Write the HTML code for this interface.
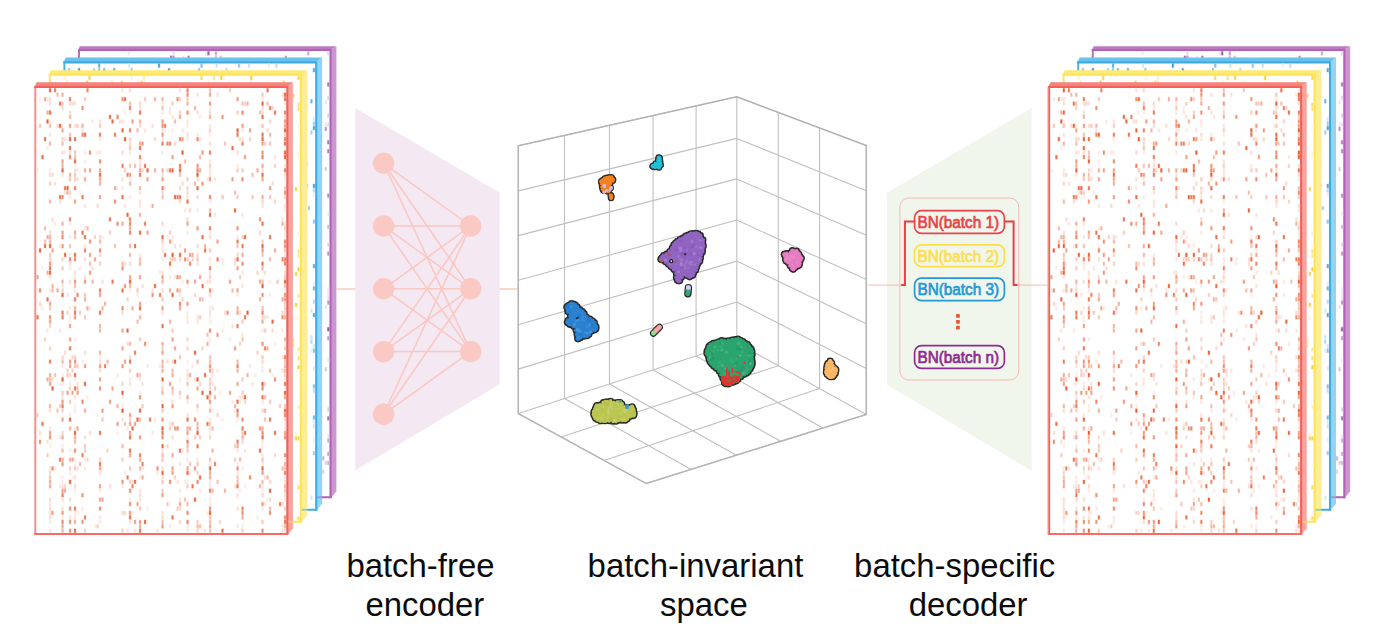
<!DOCTYPE html>
<html><head><meta charset="utf-8"><title>batch-free encoder / batch-specific decoder</title>
<style>html,body{margin:0;padding:0;background:#fff;}body{width:1378px;height:633px;overflow:hidden;}svg{display:block;font-family:"Liberation Sans",sans-serif;}</style></head><body>
<svg width="1378" height="633" viewBox="0 0 1378 633">
<rect width="1378" height="633" fill="#fff"/>
<defs><g id="stack">
<path d="M78 50 L79.9 46.2 L336.4 46.2 L330.5 50 Z" fill="#bd7ac3"/>
<path d="M330.5 50 L336.4 46.2 L336.4 491.3 L330.5 498.2 Z" fill="#cb96d1"/>
<rect x="79" y="50" width="251.5" height="447.2" fill="#fff"/>
<path d="M79 49 V498.2" fill="none" stroke="#b870bb" stroke-width="2"/>
<path d="M78 50 H330.5 V498.2" fill="none" stroke="#b261b5" stroke-width="2.1" stroke-linejoin="miter"/>
<path d="M78 497.2 H331.5" fill="none" stroke="#b261b5" stroke-width="2.1"/>
<g fill="currentColor" stroke="currentColor" stroke-width="1.1" stroke-opacity="0.32" stroke-linejoin="round">
<rect x="127.8" y="51.4" width="1.7" height="3.7" color="#f1e8f3"/>
<rect x="172.7" y="51.4" width="1.7" height="3.7" color="#e8d9ec"/>
<rect x="205.2" y="51.4" width="1.7" height="3.7" color="#f1e8f3"/>
<rect x="207.6" y="51.4" width="1.7" height="3.7" color="#9d5ead"/>
<rect x="215.1" y="51.4" width="1.7" height="3.7" color="#c5a0cf"/>
<rect x="307.4" y="51.4" width="1.7" height="3.7" color="#caa7d2"/>
<rect x="327.4" y="51.4" width="1.7" height="3.7" color="#e6d6ea"/>
<rect x="170.2" y="55.9" width="1.7" height="3.7" color="#a468b2"/>
<rect x="172.7" y="55.9" width="1.7" height="3.7" color="#bc90c7"/>
<rect x="182.7" y="55.9" width="1.7" height="3.7" color="#efe4f1"/>
<rect x="187.7" y="55.9" width="1.7" height="3.7" color="#aa73b8"/>
<rect x="215.1" y="55.9" width="1.7" height="3.7" color="#d7bdde"/>
<rect x="220.1" y="55.9" width="1.7" height="3.7" color="#d8bede"/>
<rect x="285" y="55.9" width="1.7" height="3.7" color="#ba8dc5"/>
<rect x="327.4" y="82.6" width="1.7" height="3.7" color="#ab74b9"/>
<rect x="327.4" y="95.9" width="1.7" height="3.7" color="#e5d3e9"/>
<rect x="324.9" y="100.4" width="1.7" height="3.7" color="#efe4f1"/>
<rect x="327.4" y="113.7" width="1.7" height="3.7" color="#e3d1e8"/>
<rect x="324.9" y="122.6" width="1.7" height="3.7" color="#f0e6f2"/>
<rect x="327.4" y="122.6" width="1.7" height="3.7" color="#e8d9ec"/>
<rect x="324.9" y="127.1" width="1.7" height="3.7" color="#bd92c8"/>
<rect x="327.4" y="140.4" width="1.7" height="3.7" color="#af7abc"/>
<rect x="327.4" y="149.3" width="1.7" height="3.7" color="#b382bf"/>
<rect x="324.9" y="167.2" width="1.7" height="3.7" color="#ddc7e3"/>
<rect x="327.4" y="193.9" width="1.7" height="3.7" color="#ba8dc5"/>
<rect x="327.4" y="211.7" width="1.7" height="3.7" color="#f1e8f3"/>
<rect x="327.4" y="225" width="1.7" height="3.7" color="#d6bbdc"/>
<rect x="327.4" y="242.8" width="1.7" height="3.7" color="#e5d4e9"/>
<rect x="327.4" y="251.7" width="1.7" height="3.7" color="#bf95c9"/>
<rect x="327.4" y="287.4" width="1.7" height="3.7" color="#efe4f1"/>
<rect x="327.4" y="291.8" width="1.7" height="3.7" color="#f0e6f2"/>
<rect x="327.4" y="296.3" width="1.7" height="3.7" color="#ebdfef"/>
<rect x="327.4" y="300.7" width="1.7" height="3.7" color="#be93c8"/>
<rect x="324.9" y="305.2" width="1.7" height="3.7" color="#eadced"/>
<rect x="327.4" y="327.4" width="1.7" height="3.7" color="#9956a9"/>
<rect x="327.4" y="336.3" width="1.7" height="3.7" color="#c59fce"/>
<rect x="327.4" y="358.6" width="1.7" height="3.7" color="#f1e8f4"/>
<rect x="324.9" y="367.5" width="1.7" height="3.7" color="#dbc4e1"/>
<rect x="319.9" y="389.8" width="1.7" height="3.7" color="#a970b7"/>
<rect x="327.4" y="407.6" width="1.7" height="3.7" color="#e1cee6"/>
<rect x="327.4" y="416.5" width="1.7" height="3.7" color="#a971b7"/>
<rect x="327.4" y="434.3" width="1.7" height="3.7" color="#eee4f1"/>
<rect x="327.4" y="438.7" width="1.7" height="3.7" color="#cdadd5"/>
<rect x="327.4" y="452.1" width="1.7" height="3.7" color="#caa7d2"/>
<rect x="322.4" y="456.5" width="1.7" height="3.7" color="#ceafd6"/>
<rect x="324.9" y="461" width="1.7" height="3.7" color="#dfcbe4"/>
<rect x="327.4" y="461" width="1.7" height="3.7" color="#d2b5da"/>
<rect x="319.9" y="469.9" width="1.7" height="3.7" color="#f0e6f2"/>
<rect x="322.4" y="469.9" width="1.7" height="3.7" color="#e2cfe7"/>
</g>
<path d="M63.4 62.4 L65.9 57.5 L322.2 57.5 L316.2 62.4 Z" fill="#6bc1ec"/>
<path d="M316.2 62.4 L322.2 57.5 L322.2 503.8 L316.2 510.8 Z" fill="#93d4f2"/>
<rect x="64.4" y="62.4" width="251.8" height="447.4" fill="#fff"/>
<path d="M64.4 61.4 V510.8" fill="none" stroke="#4db2e8" stroke-width="2"/>
<path d="M63.4 62.4 H316.2 V510.8" fill="none" stroke="#3eace6" stroke-width="2.1" stroke-linejoin="miter"/>
<path d="M63.4 509.8 H317.2" fill="none" stroke="#3eace6" stroke-width="2.1"/>
<g fill="currentColor" stroke="currentColor" stroke-width="1.1" stroke-opacity="0.32" stroke-linejoin="round">
<rect x="98.3" y="63.8" width="1.7" height="3.7" color="#5db1e1"/>
<rect x="128.2" y="63.8" width="1.7" height="3.7" color="#cfe8f6"/>
<rect x="158.2" y="63.8" width="1.7" height="3.7" color="#3fa2dc"/>
<rect x="200.7" y="63.8" width="1.7" height="3.7" color="#7ec1e7"/>
<rect x="215.7" y="63.8" width="1.7" height="3.7" color="#c6e3f4"/>
<rect x="238.2" y="63.8" width="1.7" height="3.7" color="#8ec8ea"/>
<rect x="248.2" y="63.8" width="1.7" height="3.7" color="#c1e1f4"/>
<rect x="268.1" y="63.8" width="1.7" height="3.7" color="#e0f0f9"/>
<rect x="275.6" y="63.8" width="1.7" height="3.7" color="#bcdff3"/>
<rect x="68.3" y="68.3" width="1.7" height="3.7" color="#8ac7ea"/>
<rect x="78.3" y="68.3" width="1.7" height="3.7" color="#2a98d8"/>
<rect x="93.3" y="68.3" width="1.7" height="3.7" color="#a5d3ee"/>
<rect x="98.3" y="68.3" width="1.7" height="3.7" color="#82c3e8"/>
<rect x="103.3" y="68.3" width="1.7" height="3.7" color="#70bae5"/>
<rect x="113.3" y="68.3" width="1.7" height="3.7" color="#59aee0"/>
<rect x="130.7" y="68.3" width="1.7" height="3.7" color="#8bc7ea"/>
<rect x="168.2" y="68.3" width="1.7" height="3.7" color="#3ea1db"/>
<rect x="198.2" y="68.3" width="1.7" height="3.7" color="#88c5e9"/>
<rect x="225.7" y="68.3" width="1.7" height="3.7" color="#b4daf1"/>
<rect x="313.1" y="68.3" width="1.7" height="3.7" color="#4eaade"/>
<rect x="305.6" y="81.6" width="1.7" height="3.7" color="#e3f2fa"/>
<rect x="310.6" y="99.4" width="1.7" height="3.7" color="#65b5e3"/>
<rect x="313.1" y="117.2" width="1.7" height="3.7" color="#d6ebf7"/>
<rect x="313.1" y="121.7" width="1.7" height="3.7" color="#99ceec"/>
<rect x="313.1" y="126.2" width="1.7" height="3.7" color="#44a5dd"/>
<rect x="310.6" y="130.6" width="1.7" height="3.7" color="#a1d2ee"/>
<rect x="305.6" y="161.8" width="1.7" height="3.7" color="#98cdec"/>
<rect x="305.6" y="184.1" width="1.7" height="3.7" color="#3da1db"/>
<rect x="313.1" y="184.1" width="1.7" height="3.7" color="#45a5dd"/>
<rect x="313.1" y="188.5" width="1.7" height="3.7" color="#b1d9f1"/>
<rect x="313.1" y="193" width="1.7" height="3.7" color="#e5f2fa"/>
<rect x="308.1" y="206.3" width="1.7" height="3.7" color="#9dd0ed"/>
<rect x="313.1" y="219.7" width="1.7" height="3.7" color="#8bc7ea"/>
<rect x="305.6" y="233.1" width="1.7" height="3.7" color="#e1f1fa"/>
<rect x="313.1" y="264.2" width="1.7" height="3.7" color="#51abdf"/>
<rect x="313.1" y="282" width="1.7" height="3.7" color="#deeff9"/>
<rect x="313.1" y="286.5" width="1.7" height="3.7" color="#68b6e3"/>
<rect x="305.6" y="295.4" width="1.7" height="3.7" color="#dfeff9"/>
<rect x="313.1" y="299.9" width="1.7" height="3.7" color="#b6dcf2"/>
<rect x="310.6" y="308.8" width="1.7" height="3.7" color="#d2e9f7"/>
<rect x="313.1" y="313.2" width="1.7" height="3.7" color="#4faadf"/>
<rect x="305.6" y="331" width="1.7" height="3.7" color="#d0e8f6"/>
<rect x="310.6" y="335.5" width="1.7" height="3.7" color="#c7e4f5"/>
<rect x="310.6" y="339.9" width="1.7" height="3.7" color="#afd8f0"/>
<rect x="313.1" y="344.4" width="1.7" height="3.7" color="#cbe6f5"/>
<rect x="310.6" y="348.9" width="1.7" height="3.7" color="#e0f0f9"/>
<rect x="313.1" y="348.9" width="1.7" height="3.7" color="#88c5e9"/>
<rect x="305.6" y="353.3" width="1.7" height="3.7" color="#c5e3f4"/>
<rect x="313.1" y="366.7" width="1.7" height="3.7" color="#d6ebf7"/>
<rect x="313.1" y="384.5" width="1.7" height="3.7" color="#86c5e9"/>
<rect x="313.1" y="388.9" width="1.7" height="3.7" color="#c0e1f3"/>
<rect x="313.1" y="415.7" width="1.7" height="3.7" color="#70bae5"/>
<rect x="313.1" y="420.1" width="1.7" height="3.7" color="#dceef9"/>
<rect x="313.1" y="424.6" width="1.7" height="3.7" color="#d0e8f6"/>
<rect x="313.1" y="437.9" width="1.7" height="3.7" color="#e4f2fa"/>
<rect x="313.1" y="451.3" width="1.7" height="3.7" color="#9aceec"/>
<rect x="305.6" y="473.6" width="1.7" height="3.7" color="#e0f0f9"/>
<rect x="310.6" y="495.8" width="1.7" height="3.7" color="#d0e8f6"/>
</g>
<path d="M48.8 74.8 L51 70.3 L307.5 70.3 L300.8 74.8 Z" fill="#fde975"/>
<path d="M300.8 74.8 L307.5 70.3 L307.5 515.1 L300.8 522.8 Z" fill="#fdee95"/>
<rect x="49.8" y="74.8" width="251" height="447" fill="#fff"/>
<path d="M49.8 73.8 V522.8" fill="none" stroke="#fde66a" stroke-width="2"/>
<path d="M48.8 74.8 H300.8 V522.8" fill="none" stroke="#fde357" stroke-width="2.1" stroke-linejoin="miter"/>
<path d="M48.8 521.8 H301.8" fill="none" stroke="#fde357" stroke-width="2.1"/>
<g fill="currentColor" stroke="currentColor" stroke-width="1.1" stroke-opacity="0.32" stroke-linejoin="round">
<rect x="63.6" y="76.2" width="1.7" height="3.6" color="#fef2c6"/>
<rect x="88.6" y="76.2" width="1.7" height="3.6" color="#fbd445"/>
<rect x="130.9" y="76.2" width="1.7" height="3.6" color="#fef4d1"/>
<rect x="143.3" y="76.2" width="1.7" height="3.6" color="#fdedb1"/>
<rect x="200.6" y="76.2" width="1.7" height="3.6" color="#fbd858"/>
<rect x="213.1" y="76.2" width="1.7" height="3.6" color="#fce180"/>
<rect x="220.5" y="76.2" width="1.7" height="3.6" color="#facf32"/>
<rect x="223" y="76.2" width="1.7" height="3.6" color="#fef8e3"/>
<rect x="250.4" y="76.2" width="1.7" height="3.6" color="#face2d"/>
<rect x="297.7" y="76.2" width="1.7" height="3.6" color="#fbd752"/>
<rect x="66.1" y="80.7" width="1.7" height="3.6" color="#fdedb1"/>
<rect x="86.1" y="80.7" width="1.7" height="3.6" color="#fad23c"/>
<rect x="93.5" y="80.7" width="1.7" height="3.6" color="#fef9e5"/>
<rect x="111" y="80.7" width="1.7" height="3.6" color="#fef2c7"/>
<rect x="120.9" y="80.7" width="1.7" height="3.6" color="#fbd751"/>
<rect x="138.3" y="80.7" width="1.7" height="3.6" color="#fef6d9"/>
<rect x="140.8" y="80.7" width="1.7" height="3.6" color="#fcde71"/>
<rect x="143.3" y="80.7" width="1.7" height="3.6" color="#fdedb2"/>
<rect x="208.1" y="80.7" width="1.7" height="3.6" color="#fef5d4"/>
<rect x="228" y="80.7" width="1.7" height="3.6" color="#fef8e2"/>
<rect x="250.4" y="80.7" width="1.7" height="3.6" color="#fef4d0"/>
<rect x="282.8" y="80.7" width="1.7" height="3.6" color="#fbd64f"/>
<rect x="292.7" y="94" width="1.7" height="3.6" color="#fbd857"/>
<rect x="297.7" y="102.9" width="1.7" height="3.6" color="#fcdd6e"/>
<rect x="297.7" y="107.3" width="1.7" height="3.6" color="#fcdf77"/>
<rect x="297.7" y="125.1" width="1.7" height="3.6" color="#fef9e3"/>
<rect x="297.7" y="129.6" width="1.7" height="3.6" color="#fef9e5"/>
<rect x="297.7" y="151.8" width="1.7" height="3.6" color="#fef5d4"/>
<rect x="297.7" y="156.3" width="1.7" height="3.6" color="#fef8e2"/>
<rect x="295.2" y="187.4" width="1.7" height="3.6" color="#fad23d"/>
<rect x="292.7" y="223" width="1.7" height="3.6" color="#fef9e4"/>
<rect x="297.7" y="231.9" width="1.7" height="3.6" color="#fef5d4"/>
<rect x="297.7" y="245.3" width="1.7" height="3.6" color="#fef5d5"/>
<rect x="297.7" y="249.7" width="1.7" height="3.6" color="#fce386"/>
<rect x="297.7" y="254.2" width="1.7" height="3.6" color="#fde89c"/>
<rect x="297.7" y="267.5" width="1.7" height="3.6" color="#facf33"/>
<rect x="295.2" y="272" width="1.7" height="3.6" color="#fbd342"/>
<rect x="297.7" y="294.2" width="1.7" height="3.6" color="#fce591"/>
<rect x="295.2" y="303.1" width="1.7" height="3.6" color="#fad036"/>
<rect x="295.2" y="316.5" width="1.7" height="3.6" color="#fef5d4"/>
<rect x="292.7" y="338.7" width="1.7" height="3.6" color="#fdeaa6"/>
<rect x="292.7" y="343.2" width="1.7" height="3.6" color="#fde9a0"/>
<rect x="297.7" y="347.6" width="1.7" height="3.6" color="#fde799"/>
<rect x="295.2" y="352.1" width="1.7" height="3.6" color="#fef8df"/>
<rect x="297.7" y="356.5" width="1.7" height="3.6" color="#fcdf76"/>
<rect x="297.7" y="365.4" width="1.7" height="3.6" color="#fad13a"/>
<rect x="297.7" y="405.5" width="1.7" height="3.6" color="#fdefb8"/>
<rect x="297.7" y="427.7" width="1.7" height="3.6" color="#fef8df"/>
<rect x="295.2" y="432.2" width="1.7" height="3.6" color="#fef5d3"/>
<rect x="295.2" y="436.6" width="1.7" height="3.6" color="#fbd340"/>
<rect x="297.7" y="436.6" width="1.7" height="3.6" color="#fbd64f"/>
<rect x="297.7" y="463.3" width="1.7" height="3.6" color="#fef8e3"/>
<rect x="297.7" y="485.6" width="1.7" height="3.6" color="#fbdc68"/>
<rect x="295.2" y="516.7" width="1.7" height="3.6" color="#fef5d3"/>
<rect x="297.7" y="516.7" width="1.7" height="3.6" color="#fbdb66"/>
</g>
<path d="M34.3 87 L36.7 82.2 L292.9 82.2 L287.3 87 Z" fill="#f5837c"/>
<path d="M287.3 87 L292.9 82.2 L292.9 528.4 L287.3 535 Z" fill="#f8a39d"/>
<rect x="35.3" y="87" width="252" height="447" fill="#fff"/>
<path d="M35.3 86 V535" fill="none" stroke="#f6908b" stroke-width="2"/>
<path d="M34.3 87 H287.3 V535" fill="none" stroke="#f45f59" stroke-width="2.1" stroke-linejoin="miter"/>
<path d="M34.3 534 H288.3" fill="none" stroke="#f66c65" stroke-width="2.1"/>
<g fill="currentColor" stroke="currentColor" stroke-width="1.1" stroke-opacity="0.32" stroke-linejoin="round">
<rect x="49.2" y="88.4" width="1.7" height="3.7" color="#eb6137"/>
<rect x="54.2" y="88.4" width="1.7" height="3.7" color="#ee7652"/>
<rect x="86.7" y="88.4" width="1.7" height="3.7" color="#ef8261"/>
<rect x="121.7" y="88.4" width="1.7" height="3.7" color="#fce4dd"/>
<rect x="129.2" y="88.4" width="1.7" height="3.7" color="#fad8ce"/>
<rect x="179.2" y="88.4" width="1.7" height="3.7" color="#fbe3dc"/>
<rect x="186.7" y="88.4" width="1.7" height="3.7" color="#ef7e5c"/>
<rect x="209.2" y="88.4" width="1.7" height="3.7" color="#f7bcaa"/>
<rect x="229.2" y="88.4" width="1.7" height="3.7" color="#f8c8ba"/>
<rect x="266.7" y="88.4" width="1.7" height="3.7" color="#ed734e"/>
<rect x="284.2" y="88.4" width="1.7" height="3.7" color="#fce8e2"/>
<rect x="56.7" y="92.9" width="1.7" height="3.7" color="#f6b9a7"/>
<rect x="61.7" y="92.9" width="1.7" height="3.7" color="#f5ae99"/>
<rect x="186.7" y="92.9" width="1.7" height="3.7" color="#f19275"/>
<rect x="196.7" y="92.9" width="1.7" height="3.7" color="#fbe0d7"/>
<rect x="209.2" y="92.9" width="1.7" height="3.7" color="#f39e84"/>
<rect x="216.7" y="92.9" width="1.7" height="3.7" color="#fbddd3"/>
<rect x="261.7" y="92.9" width="1.7" height="3.7" color="#f7c3b3"/>
<rect x="281.7" y="92.9" width="1.7" height="3.7" color="#fce6e0"/>
<rect x="284.2" y="92.9" width="1.7" height="3.7" color="#eb6037"/>
<rect x="39.2" y="97.3" width="1.7" height="3.7" color="#fceae5"/>
<rect x="44.2" y="97.3" width="1.7" height="3.7" color="#f3a38b"/>
<rect x="46.7" y="97.3" width="1.7" height="3.7" color="#fce4dc"/>
<rect x="49.2" y="97.3" width="1.7" height="3.7" color="#fbddd4"/>
<rect x="69.2" y="97.3" width="1.7" height="3.7" color="#ee7a57"/>
<rect x="84.2" y="97.3" width="1.7" height="3.7" color="#f8c9bb"/>
<rect x="121.7" y="97.3" width="1.7" height="3.7" color="#f18e71"/>
<rect x="124.2" y="97.3" width="1.7" height="3.7" color="#ed6e48"/>
<rect x="144.2" y="97.3" width="1.7" height="3.7" color="#f8c5b6"/>
<rect x="154.2" y="97.3" width="1.7" height="3.7" color="#f5ad98"/>
<rect x="161.7" y="97.3" width="1.7" height="3.7" color="#f5b39f"/>
<rect x="176.7" y="97.3" width="1.7" height="3.7" color="#f18c6e"/>
<rect x="179.2" y="97.3" width="1.7" height="3.7" color="#f9ccbe"/>
<rect x="186.7" y="97.3" width="1.7" height="3.7" color="#f8c7b9"/>
<rect x="236.7" y="97.3" width="1.7" height="3.7" color="#f2977b"/>
<rect x="261.7" y="97.3" width="1.7" height="3.7" color="#fce5de"/>
<rect x="284.2" y="97.3" width="1.7" height="3.7" color="#ed734e"/>
<rect x="49.2" y="101.8" width="1.7" height="3.7" color="#fbddd4"/>
<rect x="59.2" y="101.8" width="1.7" height="3.7" color="#ed714c"/>
<rect x="61.7" y="101.8" width="1.7" height="3.7" color="#f7c1b0"/>
<rect x="69.2" y="101.8" width="1.7" height="3.7" color="#fad8cd"/>
<rect x="71.7" y="101.8" width="1.7" height="3.7" color="#fad7cc"/>
<rect x="74.2" y="101.8" width="1.7" height="3.7" color="#fbded6"/>
<rect x="129.2" y="101.8" width="1.7" height="3.7" color="#f6baa8"/>
<rect x="139.2" y="101.8" width="1.7" height="3.7" color="#fad4c8"/>
<rect x="161.7" y="101.8" width="1.7" height="3.7" color="#fbe1da"/>
<rect x="171.7" y="101.8" width="1.7" height="3.7" color="#f8cbbe"/>
<rect x="186.7" y="101.8" width="1.7" height="3.7" color="#f5ad98"/>
<rect x="209.2" y="101.8" width="1.7" height="3.7" color="#f29478"/>
<rect x="241.7" y="101.8" width="1.7" height="3.7" color="#f7bead"/>
<rect x="244.2" y="101.8" width="1.7" height="3.7" color="#f9cec1"/>
<rect x="246.7" y="101.8" width="1.7" height="3.7" color="#f5b19d"/>
<rect x="261.7" y="101.8" width="1.7" height="3.7" color="#eb633a"/>
<rect x="266.7" y="101.8" width="1.7" height="3.7" color="#f7bdac"/>
<rect x="284.2" y="101.8" width="1.7" height="3.7" color="#fbe2db"/>
<rect x="61.7" y="106.2" width="1.7" height="3.7" color="#fad6cb"/>
<rect x="81.7" y="106.2" width="1.7" height="3.7" color="#f18e70"/>
<rect x="129.2" y="106.2" width="1.7" height="3.7" color="#ef8261"/>
<rect x="139.2" y="106.2" width="1.7" height="3.7" color="#fce4dd"/>
<rect x="161.7" y="106.2" width="1.7" height="3.7" color="#f7c2b2"/>
<rect x="169.2" y="106.2" width="1.7" height="3.7" color="#fceae5"/>
<rect x="194.2" y="106.2" width="1.7" height="3.7" color="#f5af9a"/>
<rect x="209.2" y="106.2" width="1.7" height="3.7" color="#fceae5"/>
<rect x="261.7" y="106.2" width="1.7" height="3.7" color="#fadbd1"/>
<rect x="269.2" y="106.2" width="1.7" height="3.7" color="#ee7b59"/>
<rect x="271.7" y="106.2" width="1.7" height="3.7" color="#f9cec1"/>
<rect x="46.7" y="110.7" width="1.7" height="3.7" color="#f5b19d"/>
<rect x="49.2" y="110.7" width="1.7" height="3.7" color="#ec663d"/>
<rect x="69.2" y="110.7" width="1.7" height="3.7" color="#fad9cf"/>
<rect x="124.2" y="110.7" width="1.7" height="3.7" color="#fcebe6"/>
<rect x="129.2" y="110.7" width="1.7" height="3.7" color="#fcebe6"/>
<rect x="139.2" y="110.7" width="1.7" height="3.7" color="#ee7854"/>
<rect x="161.7" y="110.7" width="1.7" height="3.7" color="#fce9e4"/>
<rect x="169.2" y="110.7" width="1.7" height="3.7" color="#fbe3db"/>
<rect x="179.2" y="110.7" width="1.7" height="3.7" color="#f9cfc2"/>
<rect x="186.7" y="110.7" width="1.7" height="3.7" color="#f18f72"/>
<rect x="196.7" y="110.7" width="1.7" height="3.7" color="#fbe0d7"/>
<rect x="209.2" y="110.7" width="1.7" height="3.7" color="#fad5cb"/>
<rect x="236.7" y="110.7" width="1.7" height="3.7" color="#f8cbbe"/>
<rect x="241.7" y="110.7" width="1.7" height="3.7" color="#f08868"/>
<rect x="259.2" y="110.7" width="1.7" height="3.7" color="#f7c0af"/>
<rect x="261.7" y="110.7" width="1.7" height="3.7" color="#f9d0c3"/>
<rect x="274.2" y="110.7" width="1.7" height="3.7" color="#ed6d47"/>
<rect x="284.2" y="110.7" width="1.7" height="3.7" color="#ee7b58"/>
<rect x="69.2" y="115.1" width="1.7" height="3.7" color="#f5b39f"/>
<rect x="109.2" y="115.1" width="1.7" height="3.7" color="#eb643b"/>
<rect x="116.7" y="115.1" width="1.7" height="3.7" color="#ef805e"/>
<rect x="171.7" y="115.1" width="1.7" height="3.7" color="#fbe2da"/>
<rect x="179.2" y="115.1" width="1.7" height="3.7" color="#f4a58d"/>
<rect x="199.2" y="115.1" width="1.7" height="3.7" color="#fce9e4"/>
<rect x="209.2" y="115.1" width="1.7" height="3.7" color="#f5b19c"/>
<rect x="221.7" y="115.1" width="1.7" height="3.7" color="#f29579"/>
<rect x="261.7" y="115.1" width="1.7" height="3.7" color="#ec6c45"/>
<rect x="284.2" y="115.1" width="1.7" height="3.7" color="#f9cdc0"/>
<rect x="46.7" y="119.6" width="1.7" height="3.7" color="#eb5d33"/>
<rect x="49.2" y="119.6" width="1.7" height="3.7" color="#fce8e2"/>
<rect x="91.7" y="119.6" width="1.7" height="3.7" color="#fcebe5"/>
<rect x="99.2" y="119.6" width="1.7" height="3.7" color="#fbe0d8"/>
<rect x="111.7" y="119.6" width="1.7" height="3.7" color="#ec6840"/>
<rect x="119.2" y="119.6" width="1.7" height="3.7" color="#fbe0d8"/>
<rect x="121.7" y="119.6" width="1.7" height="3.7" color="#fbded6"/>
<rect x="131.7" y="119.6" width="1.7" height="3.7" color="#f29a7f"/>
<rect x="139.2" y="119.6" width="1.7" height="3.7" color="#f5b09b"/>
<rect x="161.7" y="119.6" width="1.7" height="3.7" color="#f39d83"/>
<rect x="174.2" y="119.6" width="1.7" height="3.7" color="#f6b6a3"/>
<rect x="186.7" y="119.6" width="1.7" height="3.7" color="#fce4dc"/>
<rect x="269.2" y="119.6" width="1.7" height="3.7" color="#f9d0c3"/>
<rect x="284.2" y="119.6" width="1.7" height="3.7" color="#f29579"/>
<rect x="39.2" y="124" width="1.7" height="3.7" color="#f7c2b2"/>
<rect x="49.2" y="124" width="1.7" height="3.7" color="#f6bba8"/>
<rect x="56.7" y="124" width="1.7" height="3.7" color="#fad7cc"/>
<rect x="59.2" y="124" width="1.7" height="3.7" color="#eb5c32"/>
<rect x="61.7" y="124" width="1.7" height="3.7" color="#fceae5"/>
<rect x="69.2" y="124" width="1.7" height="3.7" color="#f2997e"/>
<rect x="74.2" y="124" width="1.7" height="3.7" color="#fbddd4"/>
<rect x="76.7" y="124" width="1.7" height="3.7" color="#f8c7b9"/>
<rect x="81.7" y="124" width="1.7" height="3.7" color="#f5af9a"/>
<rect x="99.2" y="124" width="1.7" height="3.7" color="#f8cabc"/>
<rect x="139.2" y="124" width="1.7" height="3.7" color="#fbded6"/>
<rect x="151.7" y="124" width="1.7" height="3.7" color="#fbddd5"/>
<rect x="161.7" y="124" width="1.7" height="3.7" color="#f19174"/>
<rect x="164.2" y="124" width="1.7" height="3.7" color="#ef7c59"/>
<rect x="186.7" y="124" width="1.7" height="3.7" color="#fce8e2"/>
<rect x="209.2" y="124" width="1.7" height="3.7" color="#fce5de"/>
<rect x="241.7" y="124" width="1.7" height="3.7" color="#f29c81"/>
<rect x="259.2" y="124" width="1.7" height="3.7" color="#fcebe5"/>
<rect x="261.7" y="124" width="1.7" height="3.7" color="#f8c5b5"/>
<rect x="284.2" y="124" width="1.7" height="3.7" color="#f39f85"/>
<rect x="61.7" y="128.5" width="1.7" height="3.7" color="#f4a68e"/>
<rect x="81.7" y="128.5" width="1.7" height="3.7" color="#fbe2db"/>
<rect x="121.7" y="128.5" width="1.7" height="3.7" color="#ec663d"/>
<rect x="129.2" y="128.5" width="1.7" height="3.7" color="#ef805f"/>
<rect x="136.7" y="128.5" width="1.7" height="3.7" color="#f6baa7"/>
<rect x="144.2" y="128.5" width="1.7" height="3.7" color="#fce7e1"/>
<rect x="161.7" y="128.5" width="1.7" height="3.7" color="#fbe2da"/>
<rect x="164.2" y="128.5" width="1.7" height="3.7" color="#fce8e2"/>
<rect x="171.7" y="128.5" width="1.7" height="3.7" color="#fcebe6"/>
<rect x="181.7" y="128.5" width="1.7" height="3.7" color="#fce4dd"/>
<rect x="209.2" y="128.5" width="1.7" height="3.7" color="#f9cfc3"/>
<rect x="236.7" y="128.5" width="1.7" height="3.7" color="#eb5f35"/>
<rect x="241.7" y="128.5" width="1.7" height="3.7" color="#fce5de"/>
<rect x="249.2" y="128.5" width="1.7" height="3.7" color="#f2997e"/>
<rect x="266.7" y="128.5" width="1.7" height="3.7" color="#fadbd1"/>
<rect x="284.2" y="128.5" width="1.7" height="3.7" color="#ea5b30"/>
<rect x="49.2" y="132.9" width="1.7" height="3.7" color="#fce3dc"/>
<rect x="69.2" y="132.9" width="1.7" height="3.7" color="#f7c0af"/>
<rect x="81.7" y="132.9" width="1.7" height="3.7" color="#f08768"/>
<rect x="84.2" y="132.9" width="1.7" height="3.7" color="#eb633a"/>
<rect x="99.2" y="132.9" width="1.7" height="3.7" color="#ee7a58"/>
<rect x="114.2" y="132.9" width="1.7" height="3.7" color="#ee7754"/>
<rect x="161.7" y="132.9" width="1.7" height="3.7" color="#f2987d"/>
<rect x="186.7" y="132.9" width="1.7" height="3.7" color="#fad9cf"/>
<rect x="196.7" y="132.9" width="1.7" height="3.7" color="#fce9e4"/>
<rect x="209.2" y="132.9" width="1.7" height="3.7" color="#fce8e2"/>
<rect x="236.7" y="132.9" width="1.7" height="3.7" color="#ee7450"/>
<rect x="261.7" y="132.9" width="1.7" height="3.7" color="#ed6f49"/>
<rect x="269.2" y="132.9" width="1.7" height="3.7" color="#f6b9a6"/>
<rect x="284.2" y="132.9" width="1.7" height="3.7" color="#f9cbbe"/>
<rect x="44.2" y="137.3" width="1.7" height="3.7" color="#ec6a42"/>
<rect x="61.7" y="137.3" width="1.7" height="3.7" color="#fad4c9"/>
<rect x="64.2" y="137.3" width="1.7" height="3.7" color="#fbdfd7"/>
<rect x="69.2" y="137.3" width="1.7" height="3.7" color="#eb5d32"/>
<rect x="74.2" y="137.3" width="1.7" height="3.7" color="#ec6942"/>
<rect x="99.2" y="137.3" width="1.7" height="3.7" color="#fce8e2"/>
<rect x="124.2" y="137.3" width="1.7" height="3.7" color="#ea592d"/>
<rect x="129.2" y="137.3" width="1.7" height="3.7" color="#f9d0c3"/>
<rect x="154.2" y="137.3" width="1.7" height="3.7" color="#fad5ca"/>
<rect x="161.7" y="137.3" width="1.7" height="3.7" color="#fbdcd3"/>
<rect x="179.2" y="137.3" width="1.7" height="3.7" color="#ee7b58"/>
<rect x="181.7" y="137.3" width="1.7" height="3.7" color="#f29a7f"/>
<rect x="186.7" y="137.3" width="1.7" height="3.7" color="#fce9e3"/>
<rect x="196.7" y="137.3" width="1.7" height="3.7" color="#f08666"/>
<rect x="199.2" y="137.3" width="1.7" height="3.7" color="#fadad0"/>
<rect x="239.2" y="137.3" width="1.7" height="3.7" color="#fad9ce"/>
<rect x="241.7" y="137.3" width="1.7" height="3.7" color="#fbe1d9"/>
<rect x="249.2" y="137.3" width="1.7" height="3.7" color="#f9d2c6"/>
<rect x="261.7" y="137.3" width="1.7" height="3.7" color="#eb633a"/>
<rect x="284.2" y="137.3" width="1.7" height="3.7" color="#ee7551"/>
<rect x="49.2" y="141.8" width="1.7" height="3.7" color="#f5b09b"/>
<rect x="61.7" y="141.8" width="1.7" height="3.7" color="#f6baa8"/>
<rect x="129.2" y="141.8" width="1.7" height="3.7" color="#fad5c9"/>
<rect x="139.2" y="141.8" width="1.7" height="3.7" color="#f4a891"/>
<rect x="141.7" y="141.8" width="1.7" height="3.7" color="#f2977b"/>
<rect x="161.7" y="141.8" width="1.7" height="3.7" color="#ef8363"/>
<rect x="166.7" y="141.8" width="1.7" height="3.7" color="#f0896a"/>
<rect x="169.2" y="141.8" width="1.7" height="3.7" color="#ef805f"/>
<rect x="174.2" y="141.8" width="1.7" height="3.7" color="#fad4c9"/>
<rect x="209.2" y="141.8" width="1.7" height="3.7" color="#fbded6"/>
<rect x="224.2" y="141.8" width="1.7" height="3.7" color="#f7c1b1"/>
<rect x="241.7" y="141.8" width="1.7" height="3.7" color="#ef8362"/>
<rect x="261.7" y="141.8" width="1.7" height="3.7" color="#f29b81"/>
<rect x="264.2" y="141.8" width="1.7" height="3.7" color="#f9ccbe"/>
<rect x="269.2" y="141.8" width="1.7" height="3.7" color="#f7c2b2"/>
<rect x="284.2" y="141.8" width="1.7" height="3.7" color="#ec653d"/>
<rect x="46.7" y="146.2" width="1.7" height="3.7" color="#fcebe5"/>
<rect x="69.2" y="146.2" width="1.7" height="3.7" color="#ec673e"/>
<rect x="129.2" y="146.2" width="1.7" height="3.7" color="#f7c0af"/>
<rect x="139.2" y="146.2" width="1.7" height="3.7" color="#ec6b44"/>
<rect x="231.7" y="146.2" width="1.7" height="3.7" color="#ec6b44"/>
<rect x="61.7" y="150.7" width="1.7" height="3.7" color="#fbded5"/>
<rect x="64.2" y="150.7" width="1.7" height="3.7" color="#fce9e3"/>
<rect x="69.2" y="150.7" width="1.7" height="3.7" color="#fadad0"/>
<rect x="74.2" y="150.7" width="1.7" height="3.7" color="#f7c1b0"/>
<rect x="84.2" y="150.7" width="1.7" height="3.7" color="#fcebe5"/>
<rect x="89.2" y="150.7" width="1.7" height="3.7" color="#f0896a"/>
<rect x="96.7" y="150.7" width="1.7" height="3.7" color="#fce6df"/>
<rect x="99.2" y="150.7" width="1.7" height="3.7" color="#fce8e2"/>
<rect x="121.7" y="150.7" width="1.7" height="3.7" color="#fad4c9"/>
<rect x="129.2" y="150.7" width="1.7" height="3.7" color="#fce8e2"/>
<rect x="161.7" y="150.7" width="1.7" height="3.7" color="#fceae4"/>
<rect x="181.7" y="150.7" width="1.7" height="3.7" color="#ea592d"/>
<rect x="201.7" y="150.7" width="1.7" height="3.7" color="#f2967a"/>
<rect x="209.2" y="150.7" width="1.7" height="3.7" color="#ee7b58"/>
<rect x="236.7" y="150.7" width="1.7" height="3.7" color="#fbddd4"/>
<rect x="261.7" y="150.7" width="1.7" height="3.7" color="#f19174"/>
<rect x="284.2" y="150.7" width="1.7" height="3.7" color="#ea592d"/>
<rect x="41.7" y="155.2" width="1.7" height="3.7" color="#ec6942"/>
<rect x="69.2" y="155.2" width="1.7" height="3.7" color="#ee7b59"/>
<rect x="74.2" y="155.2" width="1.7" height="3.7" color="#f6b6a3"/>
<rect x="139.2" y="155.2" width="1.7" height="3.7" color="#ee7a57"/>
<rect x="171.7" y="155.2" width="1.7" height="3.7" color="#f39e84"/>
<rect x="199.2" y="155.2" width="1.7" height="3.7" color="#f6bba9"/>
<rect x="244.2" y="155.2" width="1.7" height="3.7" color="#f29a80"/>
<rect x="261.7" y="155.2" width="1.7" height="3.7" color="#ef7d5a"/>
<rect x="274.2" y="155.2" width="1.7" height="3.7" color="#fce7e0"/>
<rect x="284.2" y="155.2" width="1.7" height="3.7" color="#ea5c31"/>
<rect x="61.7" y="159.6" width="1.7" height="3.7" color="#f39d83"/>
<rect x="74.2" y="159.6" width="1.7" height="3.7" color="#eb633a"/>
<rect x="84.2" y="159.6" width="1.7" height="3.7" color="#fceae4"/>
<rect x="99.2" y="159.6" width="1.7" height="3.7" color="#f08869"/>
<rect x="139.2" y="159.6" width="1.7" height="3.7" color="#fce4dc"/>
<rect x="184.2" y="159.6" width="1.7" height="3.7" color="#f6b6a3"/>
<rect x="209.2" y="159.6" width="1.7" height="3.7" color="#fbe1d9"/>
<rect x="61.7" y="164.1" width="1.7" height="3.7" color="#f5af9a"/>
<rect x="121.7" y="164.1" width="1.7" height="3.7" color="#ee7a57"/>
<rect x="129.2" y="164.1" width="1.7" height="3.7" color="#f7c2b2"/>
<rect x="134.2" y="164.1" width="1.7" height="3.7" color="#f6b9a7"/>
<rect x="139.2" y="164.1" width="1.7" height="3.7" color="#fadbd1"/>
<rect x="144.2" y="164.1" width="1.7" height="3.7" color="#ec6b44"/>
<rect x="179.2" y="164.1" width="1.7" height="3.7" color="#ed734e"/>
<rect x="196.7" y="164.1" width="1.7" height="3.7" color="#f19376"/>
<rect x="209.2" y="164.1" width="1.7" height="3.7" color="#f9ccbf"/>
<rect x="236.7" y="164.1" width="1.7" height="3.7" color="#fceae4"/>
<rect x="261.7" y="164.1" width="1.7" height="3.7" color="#f4a78f"/>
<rect x="274.2" y="164.1" width="1.7" height="3.7" color="#f9d0c3"/>
<rect x="284.2" y="164.1" width="1.7" height="3.7" color="#fbe1d9"/>
<rect x="36.7" y="168.5" width="1.7" height="3.7" color="#fce9e3"/>
<rect x="49.2" y="168.5" width="1.7" height="3.7" color="#fce9e4"/>
<rect x="61.7" y="168.5" width="1.7" height="3.7" color="#eb5e34"/>
<rect x="74.2" y="168.5" width="1.7" height="3.7" color="#fad8ce"/>
<rect x="76.7" y="168.5" width="1.7" height="3.7" color="#fce7e1"/>
<rect x="84.2" y="168.5" width="1.7" height="3.7" color="#f5ae98"/>
<rect x="89.2" y="168.5" width="1.7" height="3.7" color="#f39e84"/>
<rect x="99.2" y="168.5" width="1.7" height="3.7" color="#f39e85"/>
<rect x="124.2" y="168.5" width="1.7" height="3.7" color="#f8c7b9"/>
<rect x="139.2" y="168.5" width="1.7" height="3.7" color="#f3a28a"/>
<rect x="141.7" y="168.5" width="1.7" height="3.7" color="#f9d3c7"/>
<rect x="146.7" y="168.5" width="1.7" height="3.7" color="#eb6138"/>
<rect x="154.2" y="168.5" width="1.7" height="3.7" color="#f5ad97"/>
<rect x="161.7" y="168.5" width="1.7" height="3.7" color="#f4ab95"/>
<rect x="166.7" y="168.5" width="1.7" height="3.7" color="#f9d3c7"/>
<rect x="169.2" y="168.5" width="1.7" height="3.7" color="#ee7652"/>
<rect x="171.7" y="168.5" width="1.7" height="3.7" color="#ec673f"/>
<rect x="179.2" y="168.5" width="1.7" height="3.7" color="#eb6036"/>
<rect x="196.7" y="168.5" width="1.7" height="3.7" color="#ef805f"/>
<rect x="199.2" y="168.5" width="1.7" height="3.7" color="#f3a289"/>
<rect x="209.2" y="168.5" width="1.7" height="3.7" color="#fbe3dc"/>
<rect x="236.7" y="168.5" width="1.7" height="3.7" color="#f8c9ba"/>
<rect x="241.7" y="168.5" width="1.7" height="3.7" color="#f8c9bb"/>
<rect x="256.7" y="168.5" width="1.7" height="3.7" color="#f4a790"/>
<rect x="261.7" y="168.5" width="1.7" height="3.7" color="#fbdcd3"/>
<rect x="284.2" y="168.5" width="1.7" height="3.7" color="#ee7855"/>
<rect x="49.2" y="173" width="1.7" height="3.7" color="#fbdcd3"/>
<rect x="51.7" y="173" width="1.7" height="3.7" color="#fadbd1"/>
<rect x="61.7" y="173" width="1.7" height="3.7" color="#fbe3dc"/>
<rect x="69.2" y="173" width="1.7" height="3.7" color="#f5ac96"/>
<rect x="74.2" y="173" width="1.7" height="3.7" color="#f7c0b0"/>
<rect x="99.2" y="173" width="1.7" height="3.7" color="#ec653d"/>
<rect x="126.7" y="173" width="1.7" height="3.7" color="#ef7e5c"/>
<rect x="129.2" y="173" width="1.7" height="3.7" color="#f29a7f"/>
<rect x="139.2" y="173" width="1.7" height="3.7" color="#ed724d"/>
<rect x="161.7" y="173" width="1.7" height="3.7" color="#fbdcd3"/>
<rect x="179.2" y="173" width="1.7" height="3.7" color="#f6bba9"/>
<rect x="196.7" y="173" width="1.7" height="3.7" color="#ea582c"/>
<rect x="209.2" y="173" width="1.7" height="3.7" color="#fce4dd"/>
<rect x="251.7" y="173" width="1.7" height="3.7" color="#f7bdac"/>
<rect x="261.7" y="173" width="1.7" height="3.7" color="#ec6740"/>
<rect x="284.2" y="173" width="1.7" height="3.7" color="#fad8ce"/>
<rect x="69.2" y="177.4" width="1.7" height="3.7" color="#f8c6b7"/>
<rect x="74.2" y="177.4" width="1.7" height="3.7" color="#f8c7b9"/>
<rect x="76.7" y="177.4" width="1.7" height="3.7" color="#fadbd1"/>
<rect x="84.2" y="177.4" width="1.7" height="3.7" color="#f4a68f"/>
<rect x="99.2" y="177.4" width="1.7" height="3.7" color="#f4a992"/>
<rect x="121.7" y="177.4" width="1.7" height="3.7" color="#fbded5"/>
<rect x="129.2" y="177.4" width="1.7" height="3.7" color="#fceae5"/>
<rect x="146.7" y="177.4" width="1.7" height="3.7" color="#f3a087"/>
<rect x="161.7" y="177.4" width="1.7" height="3.7" color="#f3a28a"/>
<rect x="186.7" y="177.4" width="1.7" height="3.7" color="#f8c9ba"/>
<rect x="196.7" y="177.4" width="1.7" height="3.7" color="#fbded5"/>
<rect x="206.7" y="177.4" width="1.7" height="3.7" color="#fceae4"/>
<rect x="209.2" y="177.4" width="1.7" height="3.7" color="#f19275"/>
<rect x="214.2" y="177.4" width="1.7" height="3.7" color="#fbe0d7"/>
<rect x="231.7" y="177.4" width="1.7" height="3.7" color="#f39f86"/>
<rect x="241.7" y="177.4" width="1.7" height="3.7" color="#f18d6f"/>
<rect x="261.7" y="177.4" width="1.7" height="3.7" color="#f4a68f"/>
<rect x="284.2" y="177.4" width="1.7" height="3.7" color="#fceae4"/>
<rect x="49.2" y="181.8" width="1.7" height="3.7" color="#f9cdbf"/>
<rect x="54.2" y="181.8" width="1.7" height="3.7" color="#fbe2da"/>
<rect x="99.2" y="181.8" width="1.7" height="3.7" color="#f5af9b"/>
<rect x="129.2" y="181.8" width="1.7" height="3.7" color="#f6baa7"/>
<rect x="181.7" y="181.8" width="1.7" height="3.7" color="#fadad0"/>
<rect x="194.2" y="181.8" width="1.7" height="3.7" color="#f6b4a0"/>
<rect x="201.7" y="181.8" width="1.7" height="3.7" color="#f29478"/>
<rect x="271.7" y="181.8" width="1.7" height="3.7" color="#fad9cf"/>
<rect x="64.2" y="186.3" width="1.7" height="3.7" color="#ed714c"/>
<rect x="66.7" y="186.3" width="1.7" height="3.7" color="#ec653c"/>
<rect x="74.2" y="186.3" width="1.7" height="3.7" color="#ee7a57"/>
<rect x="114.2" y="186.3" width="1.7" height="3.7" color="#f3a189"/>
<rect x="116.7" y="186.3" width="1.7" height="3.7" color="#fce8e1"/>
<rect x="121.7" y="186.3" width="1.7" height="3.7" color="#fce9e4"/>
<rect x="139.2" y="186.3" width="1.7" height="3.7" color="#f5b19c"/>
<rect x="161.7" y="186.3" width="1.7" height="3.7" color="#ef7d5b"/>
<rect x="164.2" y="186.3" width="1.7" height="3.7" color="#fce6e0"/>
<rect x="179.2" y="186.3" width="1.7" height="3.7" color="#fad4c8"/>
<rect x="186.7" y="186.3" width="1.7" height="3.7" color="#f9d3c7"/>
<rect x="196.7" y="186.3" width="1.7" height="3.7" color="#ec663e"/>
<rect x="269.2" y="186.3" width="1.7" height="3.7" color="#f29578"/>
<rect x="284.2" y="186.3" width="1.7" height="3.7" color="#f7bead"/>
<rect x="64.2" y="190.8" width="1.7" height="3.7" color="#fbdfd7"/>
<rect x="66.7" y="190.8" width="1.7" height="3.7" color="#f5b09c"/>
<rect x="69.2" y="190.8" width="1.7" height="3.7" color="#f8cbbe"/>
<rect x="79.2" y="190.8" width="1.7" height="3.7" color="#fcebe6"/>
<rect x="139.2" y="190.8" width="1.7" height="3.7" color="#fbe2da"/>
<rect x="161.7" y="190.8" width="1.7" height="3.7" color="#f9d1c5"/>
<rect x="186.7" y="190.8" width="1.7" height="3.7" color="#fad4c9"/>
<rect x="234.2" y="190.8" width="1.7" height="3.7" color="#f7bbaa"/>
<rect x="284.2" y="190.8" width="1.7" height="3.7" color="#f08a6b"/>
<rect x="59.2" y="195.2" width="1.7" height="3.7" color="#ed744f"/>
<rect x="61.7" y="195.2" width="1.7" height="3.7" color="#f0896a"/>
<rect x="69.2" y="195.2" width="1.7" height="3.7" color="#fce8e2"/>
<rect x="81.7" y="195.2" width="1.7" height="3.7" color="#ee7855"/>
<rect x="99.2" y="195.2" width="1.7" height="3.7" color="#f29b81"/>
<rect x="121.7" y="195.2" width="1.7" height="3.7" color="#ed6c45"/>
<rect x="129.2" y="195.2" width="1.7" height="3.7" color="#fce9e3"/>
<rect x="161.7" y="195.2" width="1.7" height="3.7" color="#f7bfae"/>
<rect x="174.2" y="195.2" width="1.7" height="3.7" color="#eb6036"/>
<rect x="176.7" y="195.2" width="1.7" height="3.7" color="#ef8160"/>
<rect x="179.2" y="195.2" width="1.7" height="3.7" color="#ed734e"/>
<rect x="186.7" y="195.2" width="1.7" height="3.7" color="#fbe3dc"/>
<rect x="196.7" y="195.2" width="1.7" height="3.7" color="#fad8ce"/>
<rect x="209.2" y="195.2" width="1.7" height="3.7" color="#ef7f5d"/>
<rect x="221.7" y="195.2" width="1.7" height="3.7" color="#f7c1b0"/>
<rect x="236.7" y="195.2" width="1.7" height="3.7" color="#f8cabc"/>
<rect x="251.7" y="195.2" width="1.7" height="3.7" color="#f8c5b6"/>
<rect x="261.7" y="195.2" width="1.7" height="3.7" color="#f4a992"/>
<rect x="269.2" y="195.2" width="1.7" height="3.7" color="#f7bfae"/>
<rect x="284.2" y="195.2" width="1.7" height="3.7" color="#f9cec2"/>
<rect x="49.2" y="199.7" width="1.7" height="3.7" color="#f6b5a2"/>
<rect x="59.2" y="199.7" width="1.7" height="3.7" color="#fbdfd6"/>
<rect x="74.2" y="199.7" width="1.7" height="3.7" color="#f2997e"/>
<rect x="114.2" y="199.7" width="1.7" height="3.7" color="#f0896a"/>
<rect x="139.2" y="199.7" width="1.7" height="3.7" color="#fbded6"/>
<rect x="179.2" y="199.7" width="1.7" height="3.7" color="#f9d3c7"/>
<rect x="186.7" y="199.7" width="1.7" height="3.7" color="#ed724d"/>
<rect x="209.2" y="199.7" width="1.7" height="3.7" color="#fceae5"/>
<rect x="261.7" y="199.7" width="1.7" height="3.7" color="#fad4c8"/>
<rect x="274.2" y="199.7" width="1.7" height="3.7" color="#f9d0c4"/>
<rect x="84.2" y="204.1" width="1.7" height="3.7" color="#fce4dd"/>
<rect x="96.7" y="204.1" width="1.7" height="3.7" color="#fad8cd"/>
<rect x="124.2" y="204.1" width="1.7" height="3.7" color="#fce4dd"/>
<rect x="139.2" y="204.1" width="1.7" height="3.7" color="#fbe2db"/>
<rect x="151.7" y="204.1" width="1.7" height="3.7" color="#f4a891"/>
<rect x="261.7" y="204.1" width="1.7" height="3.7" color="#fce5de"/>
<rect x="284.2" y="204.1" width="1.7" height="3.7" color="#fbddd4"/>
<rect x="184.2" y="208.6" width="1.7" height="3.7" color="#fce7e1"/>
<rect x="189.2" y="208.6" width="1.7" height="3.7" color="#fad5ca"/>
<rect x="196.7" y="208.6" width="1.7" height="3.7" color="#fceae5"/>
<rect x="209.2" y="208.6" width="1.7" height="3.7" color="#f5b19d"/>
<rect x="234.2" y="208.6" width="1.7" height="3.7" color="#eb6138"/>
<rect x="284.2" y="208.6" width="1.7" height="3.7" color="#fce7e1"/>
<rect x="126.7" y="213" width="1.7" height="3.7" color="#ec653c"/>
<rect x="139.2" y="213" width="1.7" height="3.7" color="#f5af9a"/>
<rect x="209.2" y="213" width="1.7" height="3.7" color="#eb633a"/>
<rect x="214.2" y="213" width="1.7" height="3.7" color="#fbe3db"/>
<rect x="241.7" y="213" width="1.7" height="3.7" color="#fce3dc"/>
<rect x="51.7" y="217.5" width="1.7" height="3.7" color="#fbddd3"/>
<rect x="69.2" y="217.5" width="1.7" height="3.7" color="#ef805e"/>
<rect x="109.2" y="217.5" width="1.7" height="3.7" color="#ed734e"/>
<rect x="129.2" y="217.5" width="1.7" height="3.7" color="#ef805e"/>
<rect x="186.7" y="217.5" width="1.7" height="3.7" color="#fadad1"/>
<rect x="259.2" y="217.5" width="1.7" height="3.7" color="#f18c6e"/>
<rect x="281.7" y="217.5" width="1.7" height="3.7" color="#fbe1da"/>
<rect x="54.2" y="221.9" width="1.7" height="3.7" color="#fce8e2"/>
<rect x="61.7" y="221.9" width="1.7" height="3.7" color="#f5af9b"/>
<rect x="69.2" y="221.9" width="1.7" height="3.7" color="#fce5de"/>
<rect x="116.7" y="221.9" width="1.7" height="3.7" color="#f0896a"/>
<rect x="121.7" y="221.9" width="1.7" height="3.7" color="#f4aa93"/>
<rect x="129.2" y="221.9" width="1.7" height="3.7" color="#ef8160"/>
<rect x="144.2" y="221.9" width="1.7" height="3.7" color="#ee7754"/>
<rect x="161.7" y="221.9" width="1.7" height="3.7" color="#fad7cc"/>
<rect x="186.7" y="221.9" width="1.7" height="3.7" color="#f3a087"/>
<rect x="261.7" y="221.9" width="1.7" height="3.7" color="#ee7551"/>
<rect x="281.7" y="221.9" width="1.7" height="3.7" color="#f5b29e"/>
<rect x="284.2" y="221.9" width="1.7" height="3.7" color="#fce3dc"/>
<rect x="44.2" y="226.4" width="1.7" height="3.7" color="#f6b9a7"/>
<rect x="84.2" y="226.4" width="1.7" height="3.7" color="#fce8e2"/>
<rect x="86.7" y="226.4" width="1.7" height="3.7" color="#f6b7a4"/>
<rect x="129.2" y="226.4" width="1.7" height="3.7" color="#f4a992"/>
<rect x="196.7" y="226.4" width="1.7" height="3.7" color="#f29c81"/>
<rect x="209.2" y="226.4" width="1.7" height="3.7" color="#ee7754"/>
<rect x="236.7" y="226.4" width="1.7" height="3.7" color="#f19376"/>
<rect x="284.2" y="226.4" width="1.7" height="3.7" color="#f8c7b9"/>
<rect x="49.2" y="230.8" width="1.7" height="3.7" color="#fbdcd3"/>
<rect x="61.7" y="230.8" width="1.7" height="3.7" color="#f29a7f"/>
<rect x="74.2" y="230.8" width="1.7" height="3.7" color="#f3a38b"/>
<rect x="81.7" y="230.8" width="1.7" height="3.7" color="#ed714c"/>
<rect x="109.2" y="230.8" width="1.7" height="3.7" color="#f8cabc"/>
<rect x="129.2" y="230.8" width="1.7" height="3.7" color="#ef805f"/>
<rect x="139.2" y="230.8" width="1.7" height="3.7" color="#ec653c"/>
<rect x="146.7" y="230.8" width="1.7" height="3.7" color="#f4a48c"/>
<rect x="169.2" y="230.8" width="1.7" height="3.7" color="#f8cbbd"/>
<rect x="186.7" y="230.8" width="1.7" height="3.7" color="#fceae5"/>
<rect x="209.2" y="230.8" width="1.7" height="3.7" color="#fce5de"/>
<rect x="259.2" y="230.8" width="1.7" height="3.7" color="#f9d2c7"/>
<rect x="284.2" y="230.8" width="1.7" height="3.7" color="#fce6e0"/>
<rect x="46.7" y="235.2" width="1.7" height="3.7" color="#f4aa93"/>
<rect x="49.2" y="235.2" width="1.7" height="3.7" color="#f5ad97"/>
<rect x="61.7" y="235.2" width="1.7" height="3.7" color="#ef8463"/>
<rect x="69.2" y="235.2" width="1.7" height="3.7" color="#fce5de"/>
<rect x="74.2" y="235.2" width="1.7" height="3.7" color="#f7bcaa"/>
<rect x="84.2" y="235.2" width="1.7" height="3.7" color="#ed6f4a"/>
<rect x="94.2" y="235.2" width="1.7" height="3.7" color="#f9cfc3"/>
<rect x="99.2" y="235.2" width="1.7" height="3.7" color="#fad8ce"/>
<rect x="101.7" y="235.2" width="1.7" height="3.7" color="#fcebe6"/>
<rect x="161.7" y="235.2" width="1.7" height="3.7" color="#ec6840"/>
<rect x="166.7" y="235.2" width="1.7" height="3.7" color="#fce9e4"/>
<rect x="171.7" y="235.2" width="1.7" height="3.7" color="#fceae4"/>
<rect x="201.7" y="235.2" width="1.7" height="3.7" color="#ed6d47"/>
<rect x="209.2" y="235.2" width="1.7" height="3.7" color="#fadad1"/>
<rect x="236.7" y="235.2" width="1.7" height="3.7" color="#fceae4"/>
<rect x="241.7" y="235.2" width="1.7" height="3.7" color="#f9d0c4"/>
<rect x="244.2" y="235.2" width="1.7" height="3.7" color="#eb6036"/>
<rect x="269.2" y="235.2" width="1.7" height="3.7" color="#ed6f49"/>
<rect x="284.2" y="235.2" width="1.7" height="3.7" color="#fceae4"/>
<rect x="44.2" y="239.7" width="1.7" height="3.7" color="#f6baa8"/>
<rect x="49.2" y="239.7" width="1.7" height="3.7" color="#f5b09b"/>
<rect x="89.2" y="239.7" width="1.7" height="3.7" color="#f19276"/>
<rect x="99.2" y="239.7" width="1.7" height="3.7" color="#f6baa8"/>
<rect x="161.7" y="239.7" width="1.7" height="3.7" color="#f9ccbe"/>
<rect x="169.2" y="239.7" width="1.7" height="3.7" color="#f29a80"/>
<rect x="171.7" y="239.7" width="1.7" height="3.7" color="#fceae4"/>
<rect x="216.7" y="239.7" width="1.7" height="3.7" color="#f39f86"/>
<rect x="236.7" y="239.7" width="1.7" height="3.7" color="#ee7b58"/>
<rect x="261.7" y="239.7" width="1.7" height="3.7" color="#f9cfc3"/>
<rect x="284.2" y="239.7" width="1.7" height="3.7" color="#f08767"/>
<rect x="44.2" y="244.2" width="1.7" height="3.7" color="#ec673f"/>
<rect x="49.2" y="244.2" width="1.7" height="3.7" color="#ea5b30"/>
<rect x="59.2" y="244.2" width="1.7" height="3.7" color="#fce9e3"/>
<rect x="61.7" y="244.2" width="1.7" height="3.7" color="#f18e71"/>
<rect x="69.2" y="244.2" width="1.7" height="3.7" color="#f7c2b2"/>
<rect x="84.2" y="244.2" width="1.7" height="3.7" color="#fce9e3"/>
<rect x="114.2" y="244.2" width="1.7" height="3.7" color="#f7bead"/>
<rect x="129.2" y="244.2" width="1.7" height="3.7" color="#f5ac96"/>
<rect x="134.2" y="244.2" width="1.7" height="3.7" color="#eb633a"/>
<rect x="161.7" y="244.2" width="1.7" height="3.7" color="#fceae5"/>
<rect x="174.2" y="244.2" width="1.7" height="3.7" color="#fadad0"/>
<rect x="179.2" y="244.2" width="1.7" height="3.7" color="#fce9e3"/>
<rect x="196.7" y="244.2" width="1.7" height="3.7" color="#fad7cc"/>
<rect x="204.2" y="244.2" width="1.7" height="3.7" color="#f5ad98"/>
<rect x="236.7" y="244.2" width="1.7" height="3.7" color="#f7c1b0"/>
<rect x="241.7" y="244.2" width="1.7" height="3.7" color="#ee7753"/>
<rect x="261.7" y="244.2" width="1.7" height="3.7" color="#eb643b"/>
<rect x="284.2" y="244.2" width="1.7" height="3.7" color="#f18d6f"/>
<rect x="39.2" y="248.6" width="1.7" height="3.7" color="#eb5c31"/>
<rect x="51.7" y="248.6" width="1.7" height="3.7" color="#f4a58d"/>
<rect x="84.2" y="248.6" width="1.7" height="3.7" color="#ef8362"/>
<rect x="99.2" y="248.6" width="1.7" height="3.7" color="#f08767"/>
<rect x="161.7" y="248.6" width="1.7" height="3.7" color="#fbdcd3"/>
<rect x="184.2" y="248.6" width="1.7" height="3.7" color="#f2977c"/>
<rect x="204.2" y="248.6" width="1.7" height="3.7" color="#ee744f"/>
<rect x="209.2" y="248.6" width="1.7" height="3.7" color="#f8c6b7"/>
<rect x="241.7" y="248.6" width="1.7" height="3.7" color="#fceae5"/>
<rect x="261.7" y="248.6" width="1.7" height="3.7" color="#f19073"/>
<rect x="274.2" y="248.6" width="1.7" height="3.7" color="#f4a992"/>
<rect x="284.2" y="248.6" width="1.7" height="3.7" color="#f8c5b6"/>
<rect x="49.2" y="253.1" width="1.7" height="3.7" color="#f8c4b4"/>
<rect x="64.2" y="253.1" width="1.7" height="3.7" color="#eb5e34"/>
<rect x="69.2" y="253.1" width="1.7" height="3.7" color="#fceae4"/>
<rect x="74.2" y="253.1" width="1.7" height="3.7" color="#eb643b"/>
<rect x="89.2" y="253.1" width="1.7" height="3.7" color="#f29a80"/>
<rect x="99.2" y="253.1" width="1.7" height="3.7" color="#fad8cd"/>
<rect x="129.2" y="253.1" width="1.7" height="3.7" color="#f6b6a3"/>
<rect x="139.2" y="253.1" width="1.7" height="3.7" color="#fce9e3"/>
<rect x="164.2" y="253.1" width="1.7" height="3.7" color="#ec6841"/>
<rect x="171.7" y="253.1" width="1.7" height="3.7" color="#ea5b30"/>
<rect x="179.2" y="253.1" width="1.7" height="3.7" color="#eb6239"/>
<rect x="189.2" y="253.1" width="1.7" height="3.7" color="#f2997e"/>
<rect x="191.7" y="253.1" width="1.7" height="3.7" color="#f5ac96"/>
<rect x="196.7" y="253.1" width="1.7" height="3.7" color="#fad6cb"/>
<rect x="236.7" y="253.1" width="1.7" height="3.7" color="#f9d1c4"/>
<rect x="241.7" y="253.1" width="1.7" height="3.7" color="#f4a891"/>
<rect x="261.7" y="253.1" width="1.7" height="3.7" color="#f7c1b1"/>
<rect x="284.2" y="253.1" width="1.7" height="3.7" color="#fce9e4"/>
<rect x="49.2" y="257.5" width="1.7" height="3.7" color="#f9cfc2"/>
<rect x="61.7" y="257.5" width="1.7" height="3.7" color="#fad3c8"/>
<rect x="69.2" y="257.5" width="1.7" height="3.7" color="#ef815f"/>
<rect x="74.2" y="257.5" width="1.7" height="3.7" color="#f08464"/>
<rect x="84.2" y="257.5" width="1.7" height="3.7" color="#fbded6"/>
<rect x="94.2" y="257.5" width="1.7" height="3.7" color="#f3a28a"/>
<rect x="139.2" y="257.5" width="1.7" height="3.7" color="#f6b7a4"/>
<rect x="161.7" y="257.5" width="1.7" height="3.7" color="#fce8e2"/>
<rect x="169.2" y="257.5" width="1.7" height="3.7" color="#fad6cb"/>
<rect x="171.7" y="257.5" width="1.7" height="3.7" color="#f8c7b8"/>
<rect x="174.2" y="257.5" width="1.7" height="3.7" color="#f9cec1"/>
<rect x="179.2" y="257.5" width="1.7" height="3.7" color="#fad4c9"/>
<rect x="184.2" y="257.5" width="1.7" height="3.7" color="#f08768"/>
<rect x="186.7" y="257.5" width="1.7" height="3.7" color="#f8c7b8"/>
<rect x="191.7" y="257.5" width="1.7" height="3.7" color="#f9d3c7"/>
<rect x="196.7" y="257.5" width="1.7" height="3.7" color="#f7c2b1"/>
<rect x="209.2" y="257.5" width="1.7" height="3.7" color="#fce6e0"/>
<rect x="216.7" y="257.5" width="1.7" height="3.7" color="#ef7e5c"/>
<rect x="221.7" y="257.5" width="1.7" height="3.7" color="#fceae5"/>
<rect x="234.2" y="257.5" width="1.7" height="3.7" color="#fad9cf"/>
<rect x="236.7" y="257.5" width="1.7" height="3.7" color="#ed6e47"/>
<rect x="269.2" y="257.5" width="1.7" height="3.7" color="#f7bcab"/>
<rect x="281.7" y="257.5" width="1.7" height="3.7" color="#ef7f5e"/>
<rect x="284.2" y="257.5" width="1.7" height="3.7" color="#ee7955"/>
<rect x="49.2" y="261.9" width="1.7" height="3.7" color="#f18e70"/>
<rect x="51.7" y="261.9" width="1.7" height="3.7" color="#fce8e2"/>
<rect x="69.2" y="261.9" width="1.7" height="3.7" color="#fbdfd6"/>
<rect x="89.2" y="261.9" width="1.7" height="3.7" color="#f6bba9"/>
<rect x="99.2" y="261.9" width="1.7" height="3.7" color="#f9cec1"/>
<rect x="121.7" y="261.9" width="1.7" height="3.7" color="#f6b9a7"/>
<rect x="124.2" y="261.9" width="1.7" height="3.7" color="#fad8ce"/>
<rect x="129.2" y="261.9" width="1.7" height="3.7" color="#fad9cf"/>
<rect x="139.2" y="261.9" width="1.7" height="3.7" color="#f5b09b"/>
<rect x="169.2" y="261.9" width="1.7" height="3.7" color="#ed6d47"/>
<rect x="189.2" y="261.9" width="1.7" height="3.7" color="#ef7f5e"/>
<rect x="196.7" y="261.9" width="1.7" height="3.7" color="#fbe0d8"/>
<rect x="209.2" y="261.9" width="1.7" height="3.7" color="#fcebe5"/>
<rect x="221.7" y="261.9" width="1.7" height="3.7" color="#fceae5"/>
<rect x="234.2" y="261.9" width="1.7" height="3.7" color="#fbddd4"/>
<rect x="241.7" y="261.9" width="1.7" height="3.7" color="#f08a6b"/>
<rect x="261.7" y="261.9" width="1.7" height="3.7" color="#ed704b"/>
<rect x="284.2" y="261.9" width="1.7" height="3.7" color="#ef8160"/>
<rect x="41.7" y="266.4" width="1.7" height="3.7" color="#fcebe6"/>
<rect x="49.2" y="266.4" width="1.7" height="3.7" color="#ed6f49"/>
<rect x="61.7" y="266.4" width="1.7" height="3.7" color="#f8c8ba"/>
<rect x="69.2" y="266.4" width="1.7" height="3.7" color="#fcebe6"/>
<rect x="79.2" y="266.4" width="1.7" height="3.7" color="#fce6df"/>
<rect x="91.7" y="266.4" width="1.7" height="3.7" color="#fbddd4"/>
<rect x="121.7" y="266.4" width="1.7" height="3.7" color="#f18d6f"/>
<rect x="169.2" y="266.4" width="1.7" height="3.7" color="#fcebe6"/>
<rect x="209.2" y="266.4" width="1.7" height="3.7" color="#ef805f"/>
<rect x="236.7" y="266.4" width="1.7" height="3.7" color="#f39e85"/>
<rect x="261.7" y="266.4" width="1.7" height="3.7" color="#f5b29e"/>
<rect x="284.2" y="266.4" width="1.7" height="3.7" color="#fcebe6"/>
<rect x="46.7" y="270.9" width="1.7" height="3.7" color="#f5b09b"/>
<rect x="49.2" y="270.9" width="1.7" height="3.7" color="#eb5f35"/>
<rect x="74.2" y="270.9" width="1.7" height="3.7" color="#fbded5"/>
<rect x="89.2" y="270.9" width="1.7" height="3.7" color="#f2977c"/>
<rect x="159.2" y="270.9" width="1.7" height="3.7" color="#fce7e1"/>
<rect x="161.7" y="270.9" width="1.7" height="3.7" color="#fbdcd3"/>
<rect x="209.2" y="270.9" width="1.7" height="3.7" color="#fbddd3"/>
<rect x="241.7" y="270.9" width="1.7" height="3.7" color="#fce5de"/>
<rect x="256.7" y="270.9" width="1.7" height="3.7" color="#fad3c8"/>
<rect x="264.2" y="270.9" width="1.7" height="3.7" color="#fbdcd3"/>
<rect x="284.2" y="270.9" width="1.7" height="3.7" color="#fad6cb"/>
<rect x="36.7" y="275.3" width="1.7" height="3.7" color="#f39d83"/>
<rect x="49.2" y="275.3" width="1.7" height="3.7" color="#fbe1d8"/>
<rect x="74.2" y="275.3" width="1.7" height="3.7" color="#fce6df"/>
<rect x="84.2" y="275.3" width="1.7" height="3.7" color="#fadad0"/>
<rect x="129.2" y="275.3" width="1.7" height="3.7" color="#f3a086"/>
<rect x="139.2" y="275.3" width="1.7" height="3.7" color="#f3a088"/>
<rect x="161.7" y="275.3" width="1.7" height="3.7" color="#f2997e"/>
<rect x="169.2" y="275.3" width="1.7" height="3.7" color="#fceae5"/>
<rect x="174.2" y="275.3" width="1.7" height="3.7" color="#fce6e0"/>
<rect x="176.7" y="275.3" width="1.7" height="3.7" color="#f18e71"/>
<rect x="179.2" y="275.3" width="1.7" height="3.7" color="#f5b29d"/>
<rect x="199.2" y="275.3" width="1.7" height="3.7" color="#f4a58d"/>
<rect x="209.2" y="275.3" width="1.7" height="3.7" color="#f9d2c6"/>
<rect x="239.2" y="275.3" width="1.7" height="3.7" color="#f8c6b7"/>
<rect x="284.2" y="275.3" width="1.7" height="3.7" color="#f7c0b0"/>
<rect x="61.7" y="279.8" width="1.7" height="3.7" color="#f5af99"/>
<rect x="69.2" y="279.8" width="1.7" height="3.7" color="#fbdcd3"/>
<rect x="74.2" y="279.8" width="1.7" height="3.7" color="#f19073"/>
<rect x="84.2" y="279.8" width="1.7" height="3.7" color="#f19276"/>
<rect x="91.7" y="279.8" width="1.7" height="3.7" color="#f6b9a6"/>
<rect x="101.7" y="279.8" width="1.7" height="3.7" color="#fbdfd7"/>
<rect x="111.7" y="279.8" width="1.7" height="3.7" color="#ee7450"/>
<rect x="129.2" y="279.8" width="1.7" height="3.7" color="#eb5c31"/>
<rect x="161.7" y="279.8" width="1.7" height="3.7" color="#f6b6a2"/>
<rect x="181.7" y="279.8" width="1.7" height="3.7" color="#fcebe6"/>
<rect x="186.7" y="279.8" width="1.7" height="3.7" color="#f19174"/>
<rect x="194.2" y="279.8" width="1.7" height="3.7" color="#f3a087"/>
<rect x="206.7" y="279.8" width="1.7" height="3.7" color="#fbe1d8"/>
<rect x="209.2" y="279.8" width="1.7" height="3.7" color="#fbe0d8"/>
<rect x="229.2" y="279.8" width="1.7" height="3.7" color="#f29b81"/>
<rect x="259.2" y="279.8" width="1.7" height="3.7" color="#f4a58d"/>
<rect x="261.7" y="279.8" width="1.7" height="3.7" color="#f6baa8"/>
<rect x="269.2" y="279.8" width="1.7" height="3.7" color="#fcebe5"/>
<rect x="276.7" y="279.8" width="1.7" height="3.7" color="#f7c2b2"/>
<rect x="284.2" y="279.8" width="1.7" height="3.7" color="#ec643c"/>
<rect x="51.7" y="284.2" width="1.7" height="3.7" color="#f5ad97"/>
<rect x="61.7" y="284.2" width="1.7" height="3.7" color="#fbe2da"/>
<rect x="74.2" y="284.2" width="1.7" height="3.7" color="#f6bba9"/>
<rect x="124.2" y="284.2" width="1.7" height="3.7" color="#f18f72"/>
<rect x="129.2" y="284.2" width="1.7" height="3.7" color="#f5ad97"/>
<rect x="141.7" y="284.2" width="1.7" height="3.7" color="#fbe1d9"/>
<rect x="154.2" y="284.2" width="1.7" height="3.7" color="#ec643c"/>
<rect x="186.7" y="284.2" width="1.7" height="3.7" color="#fce9e3"/>
<rect x="201.7" y="284.2" width="1.7" height="3.7" color="#ec6c45"/>
<rect x="241.7" y="284.2" width="1.7" height="3.7" color="#fbe3db"/>
<rect x="261.7" y="284.2" width="1.7" height="3.7" color="#ea592e"/>
<rect x="284.2" y="284.2" width="1.7" height="3.7" color="#f7bbaa"/>
<rect x="36.7" y="288.6" width="1.7" height="3.7" color="#fcebe6"/>
<rect x="39.2" y="288.6" width="1.7" height="3.7" color="#f18c6e"/>
<rect x="49.2" y="288.6" width="1.7" height="3.7" color="#fce9e3"/>
<rect x="51.7" y="288.6" width="1.7" height="3.7" color="#f6b6a3"/>
<rect x="56.7" y="288.6" width="1.7" height="3.7" color="#f4aa94"/>
<rect x="61.7" y="288.6" width="1.7" height="3.7" color="#f9cfc2"/>
<rect x="74.2" y="288.6" width="1.7" height="3.7" color="#fce9e3"/>
<rect x="99.2" y="288.6" width="1.7" height="3.7" color="#ee7a57"/>
<rect x="121.7" y="288.6" width="1.7" height="3.7" color="#ed714b"/>
<rect x="129.2" y="288.6" width="1.7" height="3.7" color="#fce9e3"/>
<rect x="136.7" y="288.6" width="1.7" height="3.7" color="#f7c3b3"/>
<rect x="151.7" y="288.6" width="1.7" height="3.7" color="#fbdfd7"/>
<rect x="161.7" y="288.6" width="1.7" height="3.7" color="#fad8ce"/>
<rect x="169.2" y="288.6" width="1.7" height="3.7" color="#f5ad97"/>
<rect x="176.7" y="288.6" width="1.7" height="3.7" color="#f2997e"/>
<rect x="179.2" y="288.6" width="1.7" height="3.7" color="#f7c1b0"/>
<rect x="209.2" y="288.6" width="1.7" height="3.7" color="#f08463"/>
<rect x="211.7" y="288.6" width="1.7" height="3.7" color="#fbe0d8"/>
<rect x="231.7" y="288.6" width="1.7" height="3.7" color="#f7bcaa"/>
<rect x="236.7" y="288.6" width="1.7" height="3.7" color="#f3a188"/>
<rect x="284.2" y="288.6" width="1.7" height="3.7" color="#fcebe6"/>
<rect x="61.7" y="293.1" width="1.7" height="3.7" color="#eb6137"/>
<rect x="66.7" y="293.1" width="1.7" height="3.7" color="#fbe1da"/>
<rect x="76.7" y="293.1" width="1.7" height="3.7" color="#ef8463"/>
<rect x="84.2" y="293.1" width="1.7" height="3.7" color="#f8c4b4"/>
<rect x="99.2" y="293.1" width="1.7" height="3.7" color="#f39d84"/>
<rect x="136.7" y="293.1" width="1.7" height="3.7" color="#fce9e3"/>
<rect x="151.7" y="293.1" width="1.7" height="3.7" color="#f18f71"/>
<rect x="159.2" y="293.1" width="1.7" height="3.7" color="#ee7855"/>
<rect x="171.7" y="293.1" width="1.7" height="3.7" color="#eb6239"/>
<rect x="179.2" y="293.1" width="1.7" height="3.7" color="#fce7e1"/>
<rect x="194.2" y="293.1" width="1.7" height="3.7" color="#f9d1c5"/>
<rect x="209.2" y="293.1" width="1.7" height="3.7" color="#f9d3c7"/>
<rect x="236.7" y="293.1" width="1.7" height="3.7" color="#fce6e0"/>
<rect x="261.7" y="293.1" width="1.7" height="3.7" color="#f18e70"/>
<rect x="269.2" y="293.1" width="1.7" height="3.7" color="#fceae5"/>
<rect x="284.2" y="293.1" width="1.7" height="3.7" color="#f18c6e"/>
<rect x="46.7" y="297.5" width="1.7" height="3.7" color="#ec6a43"/>
<rect x="74.2" y="297.5" width="1.7" height="3.7" color="#ee7854"/>
<rect x="84.2" y="297.5" width="1.7" height="3.7" color="#f4ab95"/>
<rect x="126.7" y="297.5" width="1.7" height="3.7" color="#f9d1c5"/>
<rect x="161.7" y="297.5" width="1.7" height="3.7" color="#f8cabc"/>
<rect x="181.7" y="297.5" width="1.7" height="3.7" color="#f9d0c3"/>
<rect x="199.2" y="297.5" width="1.7" height="3.7" color="#f6b5a1"/>
<rect x="201.7" y="297.5" width="1.7" height="3.7" color="#f7c3b3"/>
<rect x="259.2" y="297.5" width="1.7" height="3.7" color="#f5b09b"/>
<rect x="281.7" y="297.5" width="1.7" height="3.7" color="#f4a993"/>
<rect x="284.2" y="297.5" width="1.7" height="3.7" color="#f29478"/>
<rect x="39.2" y="302" width="1.7" height="3.7" color="#f9d3c8"/>
<rect x="49.2" y="302" width="1.7" height="3.7" color="#f3a28a"/>
<rect x="104.2" y="302" width="1.7" height="3.7" color="#f4ab95"/>
<rect x="139.2" y="302" width="1.7" height="3.7" color="#f29b80"/>
<rect x="179.2" y="302" width="1.7" height="3.7" color="#ef7e5b"/>
<rect x="186.7" y="302" width="1.7" height="3.7" color="#f29a7f"/>
<rect x="284.2" y="302" width="1.7" height="3.7" color="#f9cdc0"/>
<rect x="41.7" y="306.4" width="1.7" height="3.7" color="#fceae4"/>
<rect x="49.2" y="306.4" width="1.7" height="3.7" color="#f8c7b8"/>
<rect x="69.2" y="306.4" width="1.7" height="3.7" color="#fce9e3"/>
<rect x="74.2" y="306.4" width="1.7" height="3.7" color="#f4ab95"/>
<rect x="86.7" y="306.4" width="1.7" height="3.7" color="#f4a892"/>
<rect x="89.2" y="306.4" width="1.7" height="3.7" color="#fce6e0"/>
<rect x="101.7" y="306.4" width="1.7" height="3.7" color="#f6b5a2"/>
<rect x="121.7" y="306.4" width="1.7" height="3.7" color="#f18c6e"/>
<rect x="126.7" y="306.4" width="1.7" height="3.7" color="#fce9e4"/>
<rect x="131.7" y="306.4" width="1.7" height="3.7" color="#f5b09c"/>
<rect x="139.2" y="306.4" width="1.7" height="3.7" color="#ec6840"/>
<rect x="161.7" y="306.4" width="1.7" height="3.7" color="#f29c81"/>
<rect x="179.2" y="306.4" width="1.7" height="3.7" color="#f4a58d"/>
<rect x="209.2" y="306.4" width="1.7" height="3.7" color="#fce8e1"/>
<rect x="211.7" y="306.4" width="1.7" height="3.7" color="#fbdcd2"/>
<rect x="236.7" y="306.4" width="1.7" height="3.7" color="#f5b19c"/>
<rect x="261.7" y="306.4" width="1.7" height="3.7" color="#f6b7a4"/>
<rect x="284.2" y="306.4" width="1.7" height="3.7" color="#f8c5b6"/>
<rect x="61.7" y="310.9" width="1.7" height="3.7" color="#ee7652"/>
<rect x="66.7" y="310.9" width="1.7" height="3.7" color="#f9d3c7"/>
<rect x="74.2" y="310.9" width="1.7" height="3.7" color="#ed6d47"/>
<rect x="79.2" y="310.9" width="1.7" height="3.7" color="#f8c6b7"/>
<rect x="99.2" y="310.9" width="1.7" height="3.7" color="#ed6d46"/>
<rect x="101.7" y="310.9" width="1.7" height="3.7" color="#fceae4"/>
<rect x="121.7" y="310.9" width="1.7" height="3.7" color="#fad6cc"/>
<rect x="161.7" y="310.9" width="1.7" height="3.7" color="#fbe3db"/>
<rect x="186.7" y="310.9" width="1.7" height="3.7" color="#fcebe5"/>
<rect x="209.2" y="310.9" width="1.7" height="3.7" color="#fbddd4"/>
<rect x="224.2" y="310.9" width="1.7" height="3.7" color="#fbe1d9"/>
<rect x="226.7" y="310.9" width="1.7" height="3.7" color="#f18f71"/>
<rect x="236.7" y="310.9" width="1.7" height="3.7" color="#f3a087"/>
<rect x="239.2" y="310.9" width="1.7" height="3.7" color="#fad6cb"/>
<rect x="246.7" y="310.9" width="1.7" height="3.7" color="#ea5a2e"/>
<rect x="261.7" y="310.9" width="1.7" height="3.7" color="#ef7f5d"/>
<rect x="281.7" y="310.9" width="1.7" height="3.7" color="#fad9ce"/>
<rect x="284.2" y="310.9" width="1.7" height="3.7" color="#f9d2c6"/>
<rect x="36.7" y="315.4" width="1.7" height="3.7" color="#ed734e"/>
<rect x="49.2" y="315.4" width="1.7" height="3.7" color="#f18e70"/>
<rect x="61.7" y="315.4" width="1.7" height="3.7" color="#ef7c5a"/>
<rect x="69.2" y="315.4" width="1.7" height="3.7" color="#fcebe5"/>
<rect x="74.2" y="315.4" width="1.7" height="3.7" color="#f19275"/>
<rect x="84.2" y="315.4" width="1.7" height="3.7" color="#f8c6b7"/>
<rect x="139.2" y="315.4" width="1.7" height="3.7" color="#f6b6a2"/>
<rect x="186.7" y="315.4" width="1.7" height="3.7" color="#fceae4"/>
<rect x="196.7" y="315.4" width="1.7" height="3.7" color="#fbdfd7"/>
<rect x="199.2" y="315.4" width="1.7" height="3.7" color="#f8c7b8"/>
<rect x="209.2" y="315.4" width="1.7" height="3.7" color="#fce9e3"/>
<rect x="244.2" y="315.4" width="1.7" height="3.7" color="#ed714b"/>
<rect x="261.7" y="315.4" width="1.7" height="3.7" color="#f9cdc0"/>
<rect x="264.2" y="315.4" width="1.7" height="3.7" color="#fbdbd2"/>
<rect x="266.7" y="315.4" width="1.7" height="3.7" color="#fce8e2"/>
<rect x="281.7" y="315.4" width="1.7" height="3.7" color="#f18e70"/>
<rect x="284.2" y="315.4" width="1.7" height="3.7" color="#f5ae98"/>
<rect x="49.2" y="319.8" width="1.7" height="3.7" color="#f39f86"/>
<rect x="69.2" y="319.8" width="1.7" height="3.7" color="#fcebe5"/>
<rect x="136.7" y="319.8" width="1.7" height="3.7" color="#f6b9a7"/>
<rect x="169.2" y="319.8" width="1.7" height="3.7" color="#f5af9a"/>
<rect x="186.7" y="319.8" width="1.7" height="3.7" color="#fce4dc"/>
<rect x="196.7" y="319.8" width="1.7" height="3.7" color="#fbe2da"/>
<rect x="209.2" y="319.8" width="1.7" height="3.7" color="#fce9e4"/>
<rect x="241.7" y="319.8" width="1.7" height="3.7" color="#f8c8ba"/>
<rect x="261.7" y="319.8" width="1.7" height="3.7" color="#f4aa93"/>
<rect x="271.7" y="319.8" width="1.7" height="3.7" color="#eb6339"/>
<rect x="49.2" y="324.2" width="1.7" height="3.7" color="#f9d0c4"/>
<rect x="69.2" y="324.2" width="1.7" height="3.7" color="#f39c81"/>
<rect x="99.2" y="324.2" width="1.7" height="3.7" color="#f5ae99"/>
<rect x="161.7" y="324.2" width="1.7" height="3.7" color="#ed6c46"/>
<rect x="231.7" y="324.2" width="1.7" height="3.7" color="#fbdfd7"/>
<rect x="236.7" y="324.2" width="1.7" height="3.7" color="#ee7956"/>
<rect x="46.7" y="328.7" width="1.7" height="3.7" color="#fce7e1"/>
<rect x="59.2" y="328.7" width="1.7" height="3.7" color="#fce5de"/>
<rect x="99.2" y="328.7" width="1.7" height="3.7" color="#f6b4a0"/>
<rect x="121.7" y="328.7" width="1.7" height="3.7" color="#f4a48d"/>
<rect x="126.7" y="328.7" width="1.7" height="3.7" color="#eb5f35"/>
<rect x="171.7" y="328.7" width="1.7" height="3.7" color="#f9ccbe"/>
<rect x="209.2" y="328.7" width="1.7" height="3.7" color="#ef8362"/>
<rect x="221.7" y="328.7" width="1.7" height="3.7" color="#fceae4"/>
<rect x="261.7" y="328.7" width="1.7" height="3.7" color="#fceae5"/>
<rect x="264.2" y="328.7" width="1.7" height="3.7" color="#f8c9bb"/>
<rect x="271.7" y="328.7" width="1.7" height="3.7" color="#fad9ce"/>
<rect x="281.7" y="328.7" width="1.7" height="3.7" color="#fce6df"/>
<rect x="206.7" y="333.1" width="1.7" height="3.7" color="#f7bead"/>
<rect x="216.7" y="333.1" width="1.7" height="3.7" color="#f29477"/>
<rect x="241.7" y="333.1" width="1.7" height="3.7" color="#fbe2da"/>
<rect x="44.2" y="337.6" width="1.7" height="3.7" color="#f9d1c5"/>
<rect x="69.2" y="337.6" width="1.7" height="3.7" color="#f3a088"/>
<rect x="74.2" y="337.6" width="1.7" height="3.7" color="#fcebe6"/>
<rect x="139.2" y="337.6" width="1.7" height="3.7" color="#f9cbbe"/>
<rect x="171.7" y="337.6" width="1.7" height="3.7" color="#f39c82"/>
<rect x="186.7" y="337.6" width="1.7" height="3.7" color="#fad4c8"/>
<rect x="209.2" y="337.6" width="1.7" height="3.7" color="#fce8e3"/>
<rect x="229.2" y="337.6" width="1.7" height="3.7" color="#fceae5"/>
<rect x="241.7" y="337.6" width="1.7" height="3.7" color="#f7c3b3"/>
<rect x="284.2" y="337.6" width="1.7" height="3.7" color="#f5af9a"/>
<rect x="126.7" y="342" width="1.7" height="3.7" color="#fbdbd2"/>
<rect x="129.2" y="342" width="1.7" height="3.7" color="#f6b5a2"/>
<rect x="144.2" y="342" width="1.7" height="3.7" color="#f08666"/>
<rect x="161.7" y="342" width="1.7" height="3.7" color="#f5ac96"/>
<rect x="206.7" y="342" width="1.7" height="3.7" color="#f5b19c"/>
<rect x="239.2" y="342" width="1.7" height="3.7" color="#f9cfc2"/>
<rect x="261.7" y="342" width="1.7" height="3.7" color="#f18e70"/>
<rect x="274.2" y="342" width="1.7" height="3.7" color="#fce9e3"/>
<rect x="284.2" y="342" width="1.7" height="3.7" color="#fce9e3"/>
<rect x="49.2" y="346.5" width="1.7" height="3.7" color="#f9ccbe"/>
<rect x="69.2" y="346.5" width="1.7" height="3.7" color="#ee7652"/>
<rect x="121.7" y="346.5" width="1.7" height="3.7" color="#f3a289"/>
<rect x="161.7" y="346.5" width="1.7" height="3.7" color="#f8c7b8"/>
<rect x="174.2" y="346.5" width="1.7" height="3.7" color="#f3a188"/>
<rect x="186.7" y="346.5" width="1.7" height="3.7" color="#f9d3c7"/>
<rect x="201.7" y="346.5" width="1.7" height="3.7" color="#fad6cc"/>
<rect x="234.2" y="346.5" width="1.7" height="3.7" color="#f2997e"/>
<rect x="264.2" y="346.5" width="1.7" height="3.7" color="#ee7b59"/>
<rect x="266.7" y="346.5" width="1.7" height="3.7" color="#f6b4a1"/>
<rect x="284.2" y="346.5" width="1.7" height="3.7" color="#f7c3b3"/>
<rect x="64.2" y="350.9" width="1.7" height="3.7" color="#fadad0"/>
<rect x="84.2" y="350.9" width="1.7" height="3.7" color="#fbdcd3"/>
<rect x="99.2" y="350.9" width="1.7" height="3.7" color="#f5b19c"/>
<rect x="134.2" y="350.9" width="1.7" height="3.7" color="#ee7855"/>
<rect x="161.7" y="350.9" width="1.7" height="3.7" color="#f3a38b"/>
<rect x="194.2" y="350.9" width="1.7" height="3.7" color="#eb5f35"/>
<rect x="256.7" y="350.9" width="1.7" height="3.7" color="#f9d1c5"/>
<rect x="61.7" y="355.4" width="1.7" height="3.7" color="#fad6cc"/>
<rect x="71.7" y="355.4" width="1.7" height="3.7" color="#fad6cc"/>
<rect x="74.2" y="355.4" width="1.7" height="3.7" color="#f8cabd"/>
<rect x="99.2" y="355.4" width="1.7" height="3.7" color="#fcebe6"/>
<rect x="129.2" y="355.4" width="1.7" height="3.7" color="#fad3c8"/>
<rect x="179.2" y="355.4" width="1.7" height="3.7" color="#f7c0af"/>
<rect x="209.2" y="355.4" width="1.7" height="3.7" color="#f7c3b4"/>
<rect x="261.7" y="355.4" width="1.7" height="3.7" color="#f8cbbd"/>
<rect x="281.7" y="355.4" width="1.7" height="3.7" color="#fbe3dc"/>
<rect x="284.2" y="355.4" width="1.7" height="3.7" color="#ee7854"/>
<rect x="49.2" y="359.8" width="1.7" height="3.7" color="#ee7855"/>
<rect x="61.7" y="359.8" width="1.7" height="3.7" color="#f6b5a1"/>
<rect x="69.2" y="359.8" width="1.7" height="3.7" color="#f29578"/>
<rect x="74.2" y="359.8" width="1.7" height="3.7" color="#f19174"/>
<rect x="81.7" y="359.8" width="1.7" height="3.7" color="#fce8e2"/>
<rect x="99.2" y="359.8" width="1.7" height="3.7" color="#fce4dd"/>
<rect x="106.7" y="359.8" width="1.7" height="3.7" color="#f6b9a7"/>
<rect x="124.2" y="359.8" width="1.7" height="3.7" color="#f29a7f"/>
<rect x="129.2" y="359.8" width="1.7" height="3.7" color="#ed6f49"/>
<rect x="161.7" y="359.8" width="1.7" height="3.7" color="#f5b29e"/>
<rect x="166.7" y="359.8" width="1.7" height="3.7" color="#fbdcd2"/>
<rect x="171.7" y="359.8" width="1.7" height="3.7" color="#fad8ce"/>
<rect x="174.2" y="359.8" width="1.7" height="3.7" color="#ea592e"/>
<rect x="186.7" y="359.8" width="1.7" height="3.7" color="#fcebe5"/>
<rect x="196.7" y="359.8" width="1.7" height="3.7" color="#f6b8a5"/>
<rect x="209.2" y="359.8" width="1.7" height="3.7" color="#f7bdab"/>
<rect x="236.7" y="359.8" width="1.7" height="3.7" color="#f6b4a1"/>
<rect x="261.7" y="359.8" width="1.7" height="3.7" color="#fadad1"/>
<rect x="284.2" y="359.8" width="1.7" height="3.7" color="#f7beac"/>
<rect x="61.7" y="364.3" width="1.7" height="3.7" color="#fce5de"/>
<rect x="69.2" y="364.3" width="1.7" height="3.7" color="#f39d83"/>
<rect x="74.2" y="364.3" width="1.7" height="3.7" color="#f7bcab"/>
<rect x="76.7" y="364.3" width="1.7" height="3.7" color="#f8c4b5"/>
<rect x="84.2" y="364.3" width="1.7" height="3.7" color="#f29478"/>
<rect x="99.2" y="364.3" width="1.7" height="3.7" color="#f39f86"/>
<rect x="104.2" y="364.3" width="1.7" height="3.7" color="#ee7450"/>
<rect x="121.7" y="364.3" width="1.7" height="3.7" color="#f19377"/>
<rect x="146.7" y="364.3" width="1.7" height="3.7" color="#fce8e2"/>
<rect x="159.2" y="364.3" width="1.7" height="3.7" color="#fceae4"/>
<rect x="161.7" y="364.3" width="1.7" height="3.7" color="#f6b6a2"/>
<rect x="191.7" y="364.3" width="1.7" height="3.7" color="#fce9e3"/>
<rect x="209.2" y="364.3" width="1.7" height="3.7" color="#f18c6e"/>
<rect x="236.7" y="364.3" width="1.7" height="3.7" color="#ee7b59"/>
<rect x="249.2" y="364.3" width="1.7" height="3.7" color="#fce5de"/>
<rect x="261.7" y="364.3" width="1.7" height="3.7" color="#fceae5"/>
<rect x="284.2" y="364.3" width="1.7" height="3.7" color="#f5b09b"/>
<rect x="66.7" y="368.8" width="1.7" height="3.7" color="#f9d0c3"/>
<rect x="71.7" y="368.8" width="1.7" height="3.7" color="#f9d1c5"/>
<rect x="99.2" y="368.8" width="1.7" height="3.7" color="#fad9cf"/>
<rect x="129.2" y="368.8" width="1.7" height="3.7" color="#f9cfc2"/>
<rect x="161.7" y="368.8" width="1.7" height="3.7" color="#f5ad97"/>
<rect x="171.7" y="368.8" width="1.7" height="3.7" color="#f6baa8"/>
<rect x="186.7" y="368.8" width="1.7" height="3.7" color="#fce3dc"/>
<rect x="209.2" y="368.8" width="1.7" height="3.7" color="#f39c82"/>
<rect x="211.7" y="368.8" width="1.7" height="3.7" color="#f9d1c4"/>
<rect x="216.7" y="368.8" width="1.7" height="3.7" color="#fce8e1"/>
<rect x="236.7" y="368.8" width="1.7" height="3.7" color="#f5b19d"/>
<rect x="261.7" y="368.8" width="1.7" height="3.7" color="#fce9e3"/>
<rect x="269.2" y="368.8" width="1.7" height="3.7" color="#f6baa8"/>
<rect x="281.7" y="368.8" width="1.7" height="3.7" color="#fbded5"/>
<rect x="284.2" y="368.8" width="1.7" height="3.7" color="#f5af9a"/>
<rect x="49.2" y="373.2" width="1.7" height="3.7" color="#f4a992"/>
<rect x="54.2" y="373.2" width="1.7" height="3.7" color="#f7bfaf"/>
<rect x="61.7" y="373.2" width="1.7" height="3.7" color="#fcebe5"/>
<rect x="66.7" y="373.2" width="1.7" height="3.7" color="#f8cabd"/>
<rect x="69.2" y="373.2" width="1.7" height="3.7" color="#fad6cb"/>
<rect x="74.2" y="373.2" width="1.7" height="3.7" color="#eb633a"/>
<rect x="116.7" y="373.2" width="1.7" height="3.7" color="#fce5de"/>
<rect x="136.7" y="373.2" width="1.7" height="3.7" color="#f3a28a"/>
<rect x="139.2" y="373.2" width="1.7" height="3.7" color="#f8c5b6"/>
<rect x="171.7" y="373.2" width="1.7" height="3.7" color="#f5ad98"/>
<rect x="186.7" y="373.2" width="1.7" height="3.7" color="#fbdcd3"/>
<rect x="189.2" y="373.2" width="1.7" height="3.7" color="#f4a790"/>
<rect x="204.2" y="373.2" width="1.7" height="3.7" color="#ec673f"/>
<rect x="211.7" y="373.2" width="1.7" height="3.7" color="#fbe1d9"/>
<rect x="246.7" y="373.2" width="1.7" height="3.7" color="#f5b39e"/>
<rect x="254.2" y="373.2" width="1.7" height="3.7" color="#fcebe6"/>
<rect x="271.7" y="373.2" width="1.7" height="3.7" color="#fce8e2"/>
<rect x="284.2" y="373.2" width="1.7" height="3.7" color="#f9cdbf"/>
<rect x="46.7" y="377.6" width="1.7" height="3.7" color="#f4a891"/>
<rect x="49.2" y="377.6" width="1.7" height="3.7" color="#f7bcab"/>
<rect x="51.7" y="377.6" width="1.7" height="3.7" color="#fad9cf"/>
<rect x="61.7" y="377.6" width="1.7" height="3.7" color="#ea592e"/>
<rect x="74.2" y="377.6" width="1.7" height="3.7" color="#fcebe5"/>
<rect x="99.2" y="377.6" width="1.7" height="3.7" color="#f29b81"/>
<rect x="129.2" y="377.6" width="1.7" height="3.7" color="#fce9e4"/>
<rect x="139.2" y="377.6" width="1.7" height="3.7" color="#fce8e2"/>
<rect x="161.7" y="377.6" width="1.7" height="3.7" color="#eb6138"/>
<rect x="179.2" y="377.6" width="1.7" height="3.7" color="#fcebe5"/>
<rect x="186.7" y="377.6" width="1.7" height="3.7" color="#fbe2da"/>
<rect x="194.2" y="377.6" width="1.7" height="3.7" color="#fbe0d8"/>
<rect x="196.7" y="377.6" width="1.7" height="3.7" color="#ea582c"/>
<rect x="209.2" y="377.6" width="1.7" height="3.7" color="#f9d0c3"/>
<rect x="241.7" y="377.6" width="1.7" height="3.7" color="#f8cabd"/>
<rect x="274.2" y="377.6" width="1.7" height="3.7" color="#f18d6e"/>
<rect x="284.2" y="377.6" width="1.7" height="3.7" color="#fbddd4"/>
<rect x="49.2" y="382.1" width="1.7" height="3.7" color="#f39d83"/>
<rect x="59.2" y="382.1" width="1.7" height="3.7" color="#fceae5"/>
<rect x="61.7" y="382.1" width="1.7" height="3.7" color="#fcebe5"/>
<rect x="69.2" y="382.1" width="1.7" height="3.7" color="#fceae4"/>
<rect x="76.7" y="382.1" width="1.7" height="3.7" color="#fbe0d8"/>
<rect x="84.2" y="382.1" width="1.7" height="3.7" color="#eb5e33"/>
<rect x="121.7" y="382.1" width="1.7" height="3.7" color="#fad4c9"/>
<rect x="129.2" y="382.1" width="1.7" height="3.7" color="#fbe2db"/>
<rect x="141.7" y="382.1" width="1.7" height="3.7" color="#fbe2db"/>
<rect x="161.7" y="382.1" width="1.7" height="3.7" color="#fceae4"/>
<rect x="169.2" y="382.1" width="1.7" height="3.7" color="#f2977b"/>
<rect x="186.7" y="382.1" width="1.7" height="3.7" color="#f7c1b1"/>
<rect x="199.2" y="382.1" width="1.7" height="3.7" color="#f9cec1"/>
<rect x="209.2" y="382.1" width="1.7" height="3.7" color="#f8cbbd"/>
<rect x="211.7" y="382.1" width="1.7" height="3.7" color="#fbded6"/>
<rect x="236.7" y="382.1" width="1.7" height="3.7" color="#f4a58e"/>
<rect x="251.7" y="382.1" width="1.7" height="3.7" color="#fbe0d8"/>
<rect x="261.7" y="382.1" width="1.7" height="3.7" color="#ea592d"/>
<rect x="264.2" y="382.1" width="1.7" height="3.7" color="#f9cfc2"/>
<rect x="284.2" y="382.1" width="1.7" height="3.7" color="#ed734f"/>
<rect x="51.7" y="386.6" width="1.7" height="3.7" color="#eb5c31"/>
<rect x="69.2" y="386.6" width="1.7" height="3.7" color="#f9d0c3"/>
<rect x="74.2" y="386.6" width="1.7" height="3.7" color="#ed6f49"/>
<rect x="76.7" y="386.6" width="1.7" height="3.7" color="#f6b9a7"/>
<rect x="99.2" y="386.6" width="1.7" height="3.7" color="#f18d6f"/>
<rect x="111.7" y="386.6" width="1.7" height="3.7" color="#f4a68e"/>
<rect x="161.7" y="386.6" width="1.7" height="3.7" color="#f9cec1"/>
<rect x="171.7" y="386.6" width="1.7" height="3.7" color="#f5b09b"/>
<rect x="196.7" y="386.6" width="1.7" height="3.7" color="#f4a48d"/>
<rect x="209.2" y="386.6" width="1.7" height="3.7" color="#f9d2c7"/>
<rect x="214.2" y="386.6" width="1.7" height="3.7" color="#f8c5b5"/>
<rect x="261.7" y="386.6" width="1.7" height="3.7" color="#f08565"/>
<rect x="284.2" y="386.6" width="1.7" height="3.7" color="#fceae5"/>
<rect x="61.7" y="391" width="1.7" height="3.7" color="#f8c5b5"/>
<rect x="66.7" y="391" width="1.7" height="3.7" color="#f2987d"/>
<rect x="71.7" y="391" width="1.7" height="3.7" color="#f3a38a"/>
<rect x="76.7" y="391" width="1.7" height="3.7" color="#f39d83"/>
<rect x="121.7" y="391" width="1.7" height="3.7" color="#eb5d32"/>
<rect x="139.2" y="391" width="1.7" height="3.7" color="#fcebe6"/>
<rect x="161.7" y="391" width="1.7" height="3.7" color="#f5b09b"/>
<rect x="171.7" y="391" width="1.7" height="3.7" color="#f8c9bb"/>
<rect x="179.2" y="391" width="1.7" height="3.7" color="#f7c0b0"/>
<rect x="201.7" y="391" width="1.7" height="3.7" color="#eb6137"/>
<rect x="209.2" y="391" width="1.7" height="3.7" color="#ec663e"/>
<rect x="219.2" y="391" width="1.7" height="3.7" color="#fceae5"/>
<rect x="229.2" y="391" width="1.7" height="3.7" color="#f3a188"/>
<rect x="241.7" y="391" width="1.7" height="3.7" color="#f8cbbd"/>
<rect x="284.2" y="391" width="1.7" height="3.7" color="#eb6137"/>
<rect x="61.7" y="395.4" width="1.7" height="3.7" color="#fce3dc"/>
<rect x="74.2" y="395.4" width="1.7" height="3.7" color="#fbe1d9"/>
<rect x="86.7" y="395.4" width="1.7" height="3.7" color="#fceae4"/>
<rect x="121.7" y="395.4" width="1.7" height="3.7" color="#fce6df"/>
<rect x="139.2" y="395.4" width="1.7" height="3.7" color="#f18e70"/>
<rect x="179.2" y="395.4" width="1.7" height="3.7" color="#fce8e2"/>
<rect x="186.7" y="395.4" width="1.7" height="3.7" color="#f4a48c"/>
<rect x="206.7" y="395.4" width="1.7" height="3.7" color="#eb6036"/>
<rect x="209.2" y="395.4" width="1.7" height="3.7" color="#fad9d0"/>
<rect x="214.2" y="395.4" width="1.7" height="3.7" color="#f6b6a3"/>
<rect x="239.2" y="395.4" width="1.7" height="3.7" color="#fbe3dc"/>
<rect x="241.7" y="395.4" width="1.7" height="3.7" color="#fbdfd7"/>
<rect x="244.2" y="395.4" width="1.7" height="3.7" color="#eb633a"/>
<rect x="261.7" y="395.4" width="1.7" height="3.7" color="#ed6d47"/>
<rect x="264.2" y="395.4" width="1.7" height="3.7" color="#f6b7a5"/>
<rect x="284.2" y="395.4" width="1.7" height="3.7" color="#f3a38b"/>
<rect x="61.7" y="399.9" width="1.7" height="3.7" color="#f29579"/>
<rect x="69.2" y="399.9" width="1.7" height="3.7" color="#f8c7b8"/>
<rect x="81.7" y="399.9" width="1.7" height="3.7" color="#ef8463"/>
<rect x="109.2" y="399.9" width="1.7" height="3.7" color="#f2977c"/>
<rect x="161.7" y="399.9" width="1.7" height="3.7" color="#fcebe6"/>
<rect x="171.7" y="399.9" width="1.7" height="3.7" color="#fbe0d7"/>
<rect x="186.7" y="399.9" width="1.7" height="3.7" color="#fce3dc"/>
<rect x="209.2" y="399.9" width="1.7" height="3.7" color="#f29579"/>
<rect x="231.7" y="399.9" width="1.7" height="3.7" color="#fce4dd"/>
<rect x="236.7" y="399.9" width="1.7" height="3.7" color="#ec6840"/>
<rect x="239.2" y="399.9" width="1.7" height="3.7" color="#fce9e3"/>
<rect x="244.2" y="399.9" width="1.7" height="3.7" color="#f9d2c6"/>
<rect x="261.7" y="399.9" width="1.7" height="3.7" color="#fce4dd"/>
<rect x="269.2" y="399.9" width="1.7" height="3.7" color="#f8c7b8"/>
<rect x="49.2" y="404.3" width="1.7" height="3.7" color="#f5b09b"/>
<rect x="59.2" y="404.3" width="1.7" height="3.7" color="#f9cec2"/>
<rect x="61.7" y="404.3" width="1.7" height="3.7" color="#ee7854"/>
<rect x="74.2" y="404.3" width="1.7" height="3.7" color="#fcebe6"/>
<rect x="116.7" y="404.3" width="1.7" height="3.7" color="#f5b09b"/>
<rect x="121.7" y="404.3" width="1.7" height="3.7" color="#fce9e3"/>
<rect x="141.7" y="404.3" width="1.7" height="3.7" color="#f8c5b6"/>
<rect x="161.7" y="404.3" width="1.7" height="3.7" color="#eb633a"/>
<rect x="171.7" y="404.3" width="1.7" height="3.7" color="#f2997f"/>
<rect x="196.7" y="404.3" width="1.7" height="3.7" color="#f7bfae"/>
<rect x="209.2" y="404.3" width="1.7" height="3.7" color="#fce9e3"/>
<rect x="234.2" y="404.3" width="1.7" height="3.7" color="#f5b09b"/>
<rect x="279.2" y="404.3" width="1.7" height="3.7" color="#f8c5b6"/>
<rect x="284.2" y="404.3" width="1.7" height="3.7" color="#f7c1b0"/>
<rect x="49.2" y="408.8" width="1.7" height="3.7" color="#fbdfd6"/>
<rect x="56.7" y="408.8" width="1.7" height="3.7" color="#f7bead"/>
<rect x="61.7" y="408.8" width="1.7" height="3.7" color="#f9cec1"/>
<rect x="74.2" y="408.8" width="1.7" height="3.7" color="#fce8e1"/>
<rect x="84.2" y="408.8" width="1.7" height="3.7" color="#f5ac97"/>
<rect x="101.7" y="408.8" width="1.7" height="3.7" color="#f29b80"/>
<rect x="121.7" y="408.8" width="1.7" height="3.7" color="#ea5a2e"/>
<rect x="139.2" y="408.8" width="1.7" height="3.7" color="#eb633a"/>
<rect x="161.7" y="408.8" width="1.7" height="3.7" color="#f8c8ba"/>
<rect x="196.7" y="408.8" width="1.7" height="3.7" color="#fce7e1"/>
<rect x="209.2" y="408.8" width="1.7" height="3.7" color="#f6b6a3"/>
<rect x="211.7" y="408.8" width="1.7" height="3.7" color="#fcebe6"/>
<rect x="234.2" y="408.8" width="1.7" height="3.7" color="#fcebe6"/>
<rect x="236.7" y="408.8" width="1.7" height="3.7" color="#ee7753"/>
<rect x="261.7" y="408.8" width="1.7" height="3.7" color="#fad5ca"/>
<rect x="264.2" y="408.8" width="1.7" height="3.7" color="#f5ac96"/>
<rect x="284.2" y="408.8" width="1.7" height="3.7" color="#ec663d"/>
<rect x="36.7" y="413.2" width="1.7" height="3.7" color="#f8c5b6"/>
<rect x="69.2" y="413.2" width="1.7" height="3.7" color="#fce6df"/>
<rect x="96.7" y="413.2" width="1.7" height="3.7" color="#fcebe5"/>
<rect x="129.2" y="413.2" width="1.7" height="3.7" color="#f39c82"/>
<rect x="186.7" y="413.2" width="1.7" height="3.7" color="#fbe0d8"/>
<rect x="216.7" y="413.2" width="1.7" height="3.7" color="#f9d2c6"/>
<rect x="236.7" y="413.2" width="1.7" height="3.7" color="#f2987d"/>
<rect x="284.2" y="413.2" width="1.7" height="3.7" color="#ee7b58"/>
<rect x="61.7" y="417.7" width="1.7" height="3.7" color="#f39f85"/>
<rect x="69.2" y="417.7" width="1.7" height="3.7" color="#ec663e"/>
<rect x="101.7" y="417.7" width="1.7" height="3.7" color="#f8c8ba"/>
<rect x="121.7" y="417.7" width="1.7" height="3.7" color="#fbdfd7"/>
<rect x="129.2" y="417.7" width="1.7" height="3.7" color="#f9d0c3"/>
<rect x="136.7" y="417.7" width="1.7" height="3.7" color="#eb5f34"/>
<rect x="139.2" y="417.7" width="1.7" height="3.7" color="#f6baa7"/>
<rect x="149.2" y="417.7" width="1.7" height="3.7" color="#ee7652"/>
<rect x="154.2" y="417.7" width="1.7" height="3.7" color="#fce7e1"/>
<rect x="161.7" y="417.7" width="1.7" height="3.7" color="#f19276"/>
<rect x="186.7" y="417.7" width="1.7" height="3.7" color="#ee7550"/>
<rect x="194.2" y="417.7" width="1.7" height="3.7" color="#f08868"/>
<rect x="209.2" y="417.7" width="1.7" height="3.7" color="#fce8e2"/>
<rect x="221.7" y="417.7" width="1.7" height="3.7" color="#fceae4"/>
<rect x="236.7" y="417.7" width="1.7" height="3.7" color="#fce5de"/>
<rect x="241.7" y="417.7" width="1.7" height="3.7" color="#f19073"/>
<rect x="264.2" y="417.7" width="1.7" height="3.7" color="#f7bfae"/>
<rect x="269.2" y="417.7" width="1.7" height="3.7" color="#ee7551"/>
<rect x="284.2" y="417.7" width="1.7" height="3.7" color="#f9cdbf"/>
<rect x="41.7" y="422.1" width="1.7" height="3.7" color="#ed6f49"/>
<rect x="116.7" y="422.1" width="1.7" height="3.7" color="#f39d83"/>
<rect x="124.2" y="422.1" width="1.7" height="3.7" color="#f8c4b4"/>
<rect x="129.2" y="422.1" width="1.7" height="3.7" color="#f39c83"/>
<rect x="134.2" y="422.1" width="1.7" height="3.7" color="#f29b81"/>
<rect x="169.2" y="422.1" width="1.7" height="3.7" color="#fce6e0"/>
<rect x="171.7" y="422.1" width="1.7" height="3.7" color="#f7c3b3"/>
<rect x="196.7" y="422.1" width="1.7" height="3.7" color="#f6b8a5"/>
<rect x="206.7" y="422.1" width="1.7" height="3.7" color="#ed714b"/>
<rect x="209.2" y="422.1" width="1.7" height="3.7" color="#f8c4b5"/>
<rect x="284.2" y="422.1" width="1.7" height="3.7" color="#fceae5"/>
<rect x="49.2" y="426.6" width="1.7" height="3.7" color="#fce5de"/>
<rect x="69.2" y="426.6" width="1.7" height="3.7" color="#f5b09c"/>
<rect x="74.2" y="426.6" width="1.7" height="3.7" color="#fce5de"/>
<rect x="76.7" y="426.6" width="1.7" height="3.7" color="#f4a993"/>
<rect x="126.7" y="426.6" width="1.7" height="3.7" color="#fceae4"/>
<rect x="131.7" y="426.6" width="1.7" height="3.7" color="#ec663e"/>
<rect x="161.7" y="426.6" width="1.7" height="3.7" color="#eb6137"/>
<rect x="169.2" y="426.6" width="1.7" height="3.7" color="#f8c9ba"/>
<rect x="174.2" y="426.6" width="1.7" height="3.7" color="#f2977c"/>
<rect x="176.7" y="426.6" width="1.7" height="3.7" color="#ef8262"/>
<rect x="186.7" y="426.6" width="1.7" height="3.7" color="#f5ac96"/>
<rect x="189.2" y="426.6" width="1.7" height="3.7" color="#f4a992"/>
<rect x="196.7" y="426.6" width="1.7" height="3.7" color="#f4a78f"/>
<rect x="209.2" y="426.6" width="1.7" height="3.7" color="#fbe2da"/>
<rect x="211.7" y="426.6" width="1.7" height="3.7" color="#f7bbaa"/>
<rect x="241.7" y="426.6" width="1.7" height="3.7" color="#ee7b59"/>
<rect x="259.2" y="426.6" width="1.7" height="3.7" color="#f29477"/>
<rect x="261.7" y="426.6" width="1.7" height="3.7" color="#f4a790"/>
<rect x="284.2" y="426.6" width="1.7" height="3.7" color="#fce4dd"/>
<rect x="39.2" y="431.1" width="1.7" height="3.7" color="#fbdfd6"/>
<rect x="49.2" y="431.1" width="1.7" height="3.7" color="#f39c83"/>
<rect x="61.7" y="431.1" width="1.7" height="3.7" color="#fad5ca"/>
<rect x="74.2" y="431.1" width="1.7" height="3.7" color="#ea5a2e"/>
<rect x="89.2" y="431.1" width="1.7" height="3.7" color="#fbdcd3"/>
<rect x="99.2" y="431.1" width="1.7" height="3.7" color="#ed6f49"/>
<rect x="116.7" y="431.1" width="1.7" height="3.7" color="#fcebe6"/>
<rect x="129.2" y="431.1" width="1.7" height="3.7" color="#f29a7f"/>
<rect x="151.7" y="431.1" width="1.7" height="3.7" color="#fbe2db"/>
<rect x="161.7" y="431.1" width="1.7" height="3.7" color="#ed714b"/>
<rect x="186.7" y="431.1" width="1.7" height="3.7" color="#f39d84"/>
<rect x="196.7" y="431.1" width="1.7" height="3.7" color="#ea5c30"/>
<rect x="209.2" y="431.1" width="1.7" height="3.7" color="#fcebe5"/>
<rect x="241.7" y="431.1" width="1.7" height="3.7" color="#f7bfae"/>
<rect x="244.2" y="431.1" width="1.7" height="3.7" color="#ed714c"/>
<rect x="261.7" y="431.1" width="1.7" height="3.7" color="#f08a6c"/>
<rect x="274.2" y="431.1" width="1.7" height="3.7" color="#ec6942"/>
<rect x="284.2" y="431.1" width="1.7" height="3.7" color="#f39e85"/>
<rect x="49.2" y="435.5" width="1.7" height="3.7" color="#f18e71"/>
<rect x="59.2" y="435.5" width="1.7" height="3.7" color="#fce3dc"/>
<rect x="61.7" y="435.5" width="1.7" height="3.7" color="#f3a188"/>
<rect x="74.2" y="435.5" width="1.7" height="3.7" color="#f4ab95"/>
<rect x="84.2" y="435.5" width="1.7" height="3.7" color="#fbddd4"/>
<rect x="129.2" y="435.5" width="1.7" height="3.7" color="#ed6f49"/>
<rect x="139.2" y="435.5" width="1.7" height="3.7" color="#f2997f"/>
<rect x="161.7" y="435.5" width="1.7" height="3.7" color="#f08b6d"/>
<rect x="171.7" y="435.5" width="1.7" height="3.7" color="#fbddd4"/>
<rect x="186.7" y="435.5" width="1.7" height="3.7" color="#fcebe5"/>
<rect x="194.2" y="435.5" width="1.7" height="3.7" color="#f8c9bb"/>
<rect x="199.2" y="435.5" width="1.7" height="3.7" color="#f9ccbf"/>
<rect x="209.2" y="435.5" width="1.7" height="3.7" color="#f9d2c7"/>
<rect x="241.7" y="435.5" width="1.7" height="3.7" color="#f5b19d"/>
<rect x="261.7" y="435.5" width="1.7" height="3.7" color="#ec6a43"/>
<rect x="284.2" y="435.5" width="1.7" height="3.7" color="#f08a6b"/>
<rect x="39.2" y="439.9" width="1.7" height="3.7" color="#f08969"/>
<rect x="46.7" y="439.9" width="1.7" height="3.7" color="#fbdfd7"/>
<rect x="74.2" y="439.9" width="1.7" height="3.7" color="#f6b6a3"/>
<rect x="186.7" y="439.9" width="1.7" height="3.7" color="#ef7f5d"/>
<rect x="236.7" y="439.9" width="1.7" height="3.7" color="#ee7a57"/>
<rect x="241.7" y="439.9" width="1.7" height="3.7" color="#fadad0"/>
<rect x="261.7" y="439.9" width="1.7" height="3.7" color="#fce7e1"/>
<rect x="49.2" y="444.4" width="1.7" height="3.7" color="#fcebe6"/>
<rect x="61.7" y="444.4" width="1.7" height="3.7" color="#fceae5"/>
<rect x="84.2" y="444.4" width="1.7" height="3.7" color="#f7c3b3"/>
<rect x="121.7" y="444.4" width="1.7" height="3.7" color="#f6b8a5"/>
<rect x="161.7" y="444.4" width="1.7" height="3.7" color="#eb6036"/>
<rect x="166.7" y="444.4" width="1.7" height="3.7" color="#f9d1c5"/>
<rect x="186.7" y="444.4" width="1.7" height="3.7" color="#f6b7a4"/>
<rect x="196.7" y="444.4" width="1.7" height="3.7" color="#ee7854"/>
<rect x="234.2" y="444.4" width="1.7" height="3.7" color="#f8cabc"/>
<rect x="236.7" y="444.4" width="1.7" height="3.7" color="#f4ab95"/>
<rect x="261.7" y="444.4" width="1.7" height="3.7" color="#fceae5"/>
<rect x="61.7" y="448.8" width="1.7" height="3.7" color="#f6bbaa"/>
<rect x="69.2" y="448.8" width="1.7" height="3.7" color="#fce9e3"/>
<rect x="74.2" y="448.8" width="1.7" height="3.7" color="#f08a6b"/>
<rect x="84.2" y="448.8" width="1.7" height="3.7" color="#f8c9bb"/>
<rect x="106.7" y="448.8" width="1.7" height="3.7" color="#f9d0c4"/>
<rect x="129.2" y="448.8" width="1.7" height="3.7" color="#ec6b45"/>
<rect x="161.7" y="448.8" width="1.7" height="3.7" color="#fbe1d9"/>
<rect x="179.2" y="448.8" width="1.7" height="3.7" color="#ec6c45"/>
<rect x="181.7" y="448.8" width="1.7" height="3.7" color="#fbded5"/>
<rect x="186.7" y="448.8" width="1.7" height="3.7" color="#f8c7b8"/>
<rect x="211.7" y="448.8" width="1.7" height="3.7" color="#f6b5a2"/>
<rect x="236.7" y="448.8" width="1.7" height="3.7" color="#fce6df"/>
<rect x="244.2" y="448.8" width="1.7" height="3.7" color="#fce5df"/>
<rect x="259.2" y="448.8" width="1.7" height="3.7" color="#ec663e"/>
<rect x="46.7" y="453.3" width="1.7" height="3.7" color="#f8cbbd"/>
<rect x="81.7" y="453.3" width="1.7" height="3.7" color="#ee7956"/>
<rect x="129.2" y="453.3" width="1.7" height="3.7" color="#f4a68e"/>
<rect x="139.2" y="453.3" width="1.7" height="3.7" color="#ef7d5b"/>
<rect x="161.7" y="453.3" width="1.7" height="3.7" color="#f6b7a4"/>
<rect x="171.7" y="453.3" width="1.7" height="3.7" color="#f4a790"/>
<rect x="261.7" y="453.3" width="1.7" height="3.7" color="#fce4de"/>
<rect x="274.2" y="453.3" width="1.7" height="3.7" color="#fad6cb"/>
<rect x="284.2" y="453.3" width="1.7" height="3.7" color="#f08666"/>
<rect x="59.2" y="457.8" width="1.7" height="3.7" color="#ee7753"/>
<rect x="61.7" y="457.8" width="1.7" height="3.7" color="#f4aa93"/>
<rect x="69.2" y="457.8" width="1.7" height="3.7" color="#f5b19d"/>
<rect x="71.7" y="457.8" width="1.7" height="3.7" color="#f3a189"/>
<rect x="74.2" y="457.8" width="1.7" height="3.7" color="#fcebe6"/>
<rect x="84.2" y="457.8" width="1.7" height="3.7" color="#fce8e2"/>
<rect x="86.7" y="457.8" width="1.7" height="3.7" color="#fad5ca"/>
<rect x="99.2" y="457.8" width="1.7" height="3.7" color="#f9d0c3"/>
<rect x="121.7" y="457.8" width="1.7" height="3.7" color="#f8cbbd"/>
<rect x="139.2" y="457.8" width="1.7" height="3.7" color="#f4ab95"/>
<rect x="161.7" y="457.8" width="1.7" height="3.7" color="#f7c3b4"/>
<rect x="186.7" y="457.8" width="1.7" height="3.7" color="#fceae4"/>
<rect x="196.7" y="457.8" width="1.7" height="3.7" color="#fce9e3"/>
<rect x="209.2" y="457.8" width="1.7" height="3.7" color="#f8c6b7"/>
<rect x="234.2" y="457.8" width="1.7" height="3.7" color="#f8cabc"/>
<rect x="239.2" y="457.8" width="1.7" height="3.7" color="#f6b7a4"/>
<rect x="261.7" y="457.8" width="1.7" height="3.7" color="#f7c1b0"/>
<rect x="284.2" y="457.8" width="1.7" height="3.7" color="#fce9e3"/>
<rect x="61.7" y="462.2" width="1.7" height="3.7" color="#f19275"/>
<rect x="74.2" y="462.2" width="1.7" height="3.7" color="#fcebe5"/>
<rect x="79.2" y="462.2" width="1.7" height="3.7" color="#f6b8a5"/>
<rect x="99.2" y="462.2" width="1.7" height="3.7" color="#ed704a"/>
<rect x="141.7" y="462.2" width="1.7" height="3.7" color="#ee7b59"/>
<rect x="179.2" y="462.2" width="1.7" height="3.7" color="#fbe2da"/>
<rect x="189.2" y="462.2" width="1.7" height="3.7" color="#f8c4b5"/>
<rect x="196.7" y="462.2" width="1.7" height="3.7" color="#f8c4b5"/>
<rect x="209.2" y="462.2" width="1.7" height="3.7" color="#fcebe5"/>
<rect x="214.2" y="462.2" width="1.7" height="3.7" color="#ee7651"/>
<rect x="236.7" y="462.2" width="1.7" height="3.7" color="#fcebe5"/>
<rect x="261.7" y="462.2" width="1.7" height="3.7" color="#fce4dd"/>
<rect x="284.2" y="462.2" width="1.7" height="3.7" color="#f5ac96"/>
<rect x="49.2" y="466.6" width="1.7" height="3.7" color="#fbe3db"/>
<rect x="51.7" y="466.6" width="1.7" height="3.7" color="#f08666"/>
<rect x="54.2" y="466.6" width="1.7" height="3.7" color="#fce6e0"/>
<rect x="69.2" y="466.6" width="1.7" height="3.7" color="#f9ccbf"/>
<rect x="74.2" y="466.6" width="1.7" height="3.7" color="#f7c3b3"/>
<rect x="76.7" y="466.6" width="1.7" height="3.7" color="#fbe1da"/>
<rect x="84.2" y="466.6" width="1.7" height="3.7" color="#fce6df"/>
<rect x="99.2" y="466.6" width="1.7" height="3.7" color="#f3a38b"/>
<rect x="101.7" y="466.6" width="1.7" height="3.7" color="#fcebe6"/>
<rect x="129.2" y="466.6" width="1.7" height="3.7" color="#f8c4b5"/>
<rect x="139.2" y="466.6" width="1.7" height="3.7" color="#f6b4a1"/>
<rect x="141.7" y="466.6" width="1.7" height="3.7" color="#fce3dc"/>
<rect x="156.7" y="466.6" width="1.7" height="3.7" color="#f18c6e"/>
<rect x="161.7" y="466.6" width="1.7" height="3.7" color="#fadad0"/>
<rect x="171.7" y="466.6" width="1.7" height="3.7" color="#f3a088"/>
<rect x="186.7" y="466.6" width="1.7" height="3.7" color="#f4a48c"/>
<rect x="194.2" y="466.6" width="1.7" height="3.7" color="#f29579"/>
<rect x="209.2" y="466.6" width="1.7" height="3.7" color="#eb6036"/>
<rect x="236.7" y="466.6" width="1.7" height="3.7" color="#f18c6e"/>
<rect x="241.7" y="466.6" width="1.7" height="3.7" color="#fce8e2"/>
<rect x="261.7" y="466.6" width="1.7" height="3.7" color="#ec643c"/>
<rect x="281.7" y="466.6" width="1.7" height="3.7" color="#f7bfae"/>
<rect x="284.2" y="466.6" width="1.7" height="3.7" color="#f6bba9"/>
<rect x="49.2" y="471.1" width="1.7" height="3.7" color="#f9d2c7"/>
<rect x="69.2" y="471.1" width="1.7" height="3.7" color="#fce9e4"/>
<rect x="99.2" y="471.1" width="1.7" height="3.7" color="#fbe0d8"/>
<rect x="124.2" y="471.1" width="1.7" height="3.7" color="#fce9e3"/>
<rect x="156.7" y="471.1" width="1.7" height="3.7" color="#fce5de"/>
<rect x="161.7" y="471.1" width="1.7" height="3.7" color="#eb6036"/>
<rect x="171.7" y="471.1" width="1.7" height="3.7" color="#f39e85"/>
<rect x="186.7" y="471.1" width="1.7" height="3.7" color="#ec663d"/>
<rect x="189.2" y="471.1" width="1.7" height="3.7" color="#fce3dc"/>
<rect x="196.7" y="471.1" width="1.7" height="3.7" color="#f8cbbd"/>
<rect x="209.2" y="471.1" width="1.7" height="3.7" color="#f4a891"/>
<rect x="236.7" y="471.1" width="1.7" height="3.7" color="#fce4dd"/>
<rect x="261.7" y="471.1" width="1.7" height="3.7" color="#f29b80"/>
<rect x="284.2" y="471.1" width="1.7" height="3.7" color="#ef7d5a"/>
<rect x="49.2" y="475.6" width="1.7" height="3.7" color="#f7c1b1"/>
<rect x="61.7" y="475.6" width="1.7" height="3.7" color="#fcebe6"/>
<rect x="71.7" y="475.6" width="1.7" height="3.7" color="#fcebe6"/>
<rect x="74.2" y="475.6" width="1.7" height="3.7" color="#fbded5"/>
<rect x="126.7" y="475.6" width="1.7" height="3.7" color="#ee7955"/>
<rect x="139.2" y="475.6" width="1.7" height="3.7" color="#fcebe6"/>
<rect x="141.7" y="475.6" width="1.7" height="3.7" color="#f4aa93"/>
<rect x="161.7" y="475.6" width="1.7" height="3.7" color="#fbe1d9"/>
<rect x="174.2" y="475.6" width="1.7" height="3.7" color="#f9d0c4"/>
<rect x="199.2" y="475.6" width="1.7" height="3.7" color="#ec6b44"/>
<rect x="209.2" y="475.6" width="1.7" height="3.7" color="#f4a790"/>
<rect x="236.7" y="475.6" width="1.7" height="3.7" color="#f7c1b1"/>
<rect x="249.2" y="475.6" width="1.7" height="3.7" color="#ef805e"/>
<rect x="264.2" y="475.6" width="1.7" height="3.7" color="#fadbd1"/>
<rect x="266.7" y="475.6" width="1.7" height="3.7" color="#f6b8a6"/>
<rect x="284.2" y="475.6" width="1.7" height="3.7" color="#fce9e3"/>
<rect x="49.2" y="480" width="1.7" height="3.7" color="#f4a790"/>
<rect x="61.7" y="480" width="1.7" height="3.7" color="#fceae5"/>
<rect x="69.2" y="480" width="1.7" height="3.7" color="#eb5d32"/>
<rect x="121.7" y="480" width="1.7" height="3.7" color="#f19377"/>
<rect x="129.2" y="480" width="1.7" height="3.7" color="#f8c8ba"/>
<rect x="131.7" y="480" width="1.7" height="3.7" color="#fce3dc"/>
<rect x="134.2" y="480" width="1.7" height="3.7" color="#ec6841"/>
<rect x="161.7" y="480" width="1.7" height="3.7" color="#f7c2b2"/>
<rect x="169.2" y="480" width="1.7" height="3.7" color="#f08767"/>
<rect x="176.7" y="480" width="1.7" height="3.7" color="#fbe2da"/>
<rect x="184.2" y="480" width="1.7" height="3.7" color="#fceae4"/>
<rect x="186.7" y="480" width="1.7" height="3.7" color="#fceae5"/>
<rect x="196.7" y="480" width="1.7" height="3.7" color="#f08666"/>
<rect x="209.2" y="480" width="1.7" height="3.7" color="#fcebe6"/>
<rect x="216.7" y="480" width="1.7" height="3.7" color="#f7bfae"/>
<rect x="236.7" y="480" width="1.7" height="3.7" color="#f6b7a4"/>
<rect x="261.7" y="480" width="1.7" height="3.7" color="#f6b6a3"/>
<rect x="269.2" y="480" width="1.7" height="3.7" color="#fad5ca"/>
<rect x="284.2" y="480" width="1.7" height="3.7" color="#fadad0"/>
<rect x="49.2" y="484.4" width="1.7" height="3.7" color="#f4a992"/>
<rect x="59.2" y="484.4" width="1.7" height="3.7" color="#fce8e3"/>
<rect x="61.7" y="484.4" width="1.7" height="3.7" color="#fbe1d9"/>
<rect x="64.2" y="484.4" width="1.7" height="3.7" color="#f9d2c6"/>
<rect x="74.2" y="484.4" width="1.7" height="3.7" color="#fad9cf"/>
<rect x="99.2" y="484.4" width="1.7" height="3.7" color="#f39c82"/>
<rect x="109.2" y="484.4" width="1.7" height="3.7" color="#fbdcd3"/>
<rect x="121.7" y="484.4" width="1.7" height="3.7" color="#fce8e2"/>
<rect x="131.7" y="484.4" width="1.7" height="3.7" color="#ef8362"/>
<rect x="186.7" y="484.4" width="1.7" height="3.7" color="#f8cbbd"/>
<rect x="191.7" y="484.4" width="1.7" height="3.7" color="#ed734f"/>
<rect x="209.2" y="484.4" width="1.7" height="3.7" color="#fce4dc"/>
<rect x="234.2" y="484.4" width="1.7" height="3.7" color="#fbe0d8"/>
<rect x="236.7" y="484.4" width="1.7" height="3.7" color="#ee7450"/>
<rect x="244.2" y="484.4" width="1.7" height="3.7" color="#fce9e4"/>
<rect x="259.2" y="484.4" width="1.7" height="3.7" color="#f5b29e"/>
<rect x="261.7" y="484.4" width="1.7" height="3.7" color="#fce6df"/>
<rect x="284.2" y="484.4" width="1.7" height="3.7" color="#f5b39f"/>
<rect x="61.7" y="488.9" width="1.7" height="3.7" color="#f39e84"/>
<rect x="64.2" y="488.9" width="1.7" height="3.7" color="#f3a188"/>
<rect x="74.2" y="488.9" width="1.7" height="3.7" color="#fcebe6"/>
<rect x="99.2" y="488.9" width="1.7" height="3.7" color="#fce9e3"/>
<rect x="129.2" y="488.9" width="1.7" height="3.7" color="#f08a6b"/>
<rect x="139.2" y="488.9" width="1.7" height="3.7" color="#fce6df"/>
<rect x="161.7" y="488.9" width="1.7" height="3.7" color="#f8cbbd"/>
<rect x="179.2" y="488.9" width="1.7" height="3.7" color="#fce8e2"/>
<rect x="199.2" y="488.9" width="1.7" height="3.7" color="#fce8e2"/>
<rect x="209.2" y="488.9" width="1.7" height="3.7" color="#ef805f"/>
<rect x="211.7" y="488.9" width="1.7" height="3.7" color="#f6b6a3"/>
<rect x="224.2" y="488.9" width="1.7" height="3.7" color="#f5af9a"/>
<rect x="239.2" y="488.9" width="1.7" height="3.7" color="#fceae4"/>
<rect x="261.7" y="488.9" width="1.7" height="3.7" color="#fce7e1"/>
<rect x="269.2" y="488.9" width="1.7" height="3.7" color="#eb6036"/>
<rect x="284.2" y="488.9" width="1.7" height="3.7" color="#f7bead"/>
<rect x="61.7" y="493.3" width="1.7" height="3.7" color="#ee7956"/>
<rect x="81.7" y="493.3" width="1.7" height="3.7" color="#f19072"/>
<rect x="139.2" y="493.3" width="1.7" height="3.7" color="#fbdcd2"/>
<rect x="161.7" y="493.3" width="1.7" height="3.7" color="#f39f85"/>
<rect x="236.7" y="493.3" width="1.7" height="3.7" color="#fbded5"/>
<rect x="261.7" y="493.3" width="1.7" height="3.7" color="#fad8ce"/>
<rect x="284.2" y="493.3" width="1.7" height="3.7" color="#fbe2db"/>
<rect x="49.2" y="497.8" width="1.7" height="3.7" color="#fbdbd2"/>
<rect x="61.7" y="497.8" width="1.7" height="3.7" color="#fbdfd7"/>
<rect x="69.2" y="497.8" width="1.7" height="3.7" color="#fad7cc"/>
<rect x="99.2" y="497.8" width="1.7" height="3.7" color="#f4a48c"/>
<rect x="101.7" y="497.8" width="1.7" height="3.7" color="#f4a58d"/>
<rect x="129.2" y="497.8" width="1.7" height="3.7" color="#fcebe6"/>
<rect x="139.2" y="497.8" width="1.7" height="3.7" color="#fce9e3"/>
<rect x="179.2" y="497.8" width="1.7" height="3.7" color="#fbe1da"/>
<rect x="184.2" y="497.8" width="1.7" height="3.7" color="#f6bba9"/>
<rect x="194.2" y="497.8" width="1.7" height="3.7" color="#eb5c31"/>
<rect x="209.2" y="497.8" width="1.7" height="3.7" color="#fceae4"/>
<rect x="266.7" y="497.8" width="1.7" height="3.7" color="#fceae4"/>
<rect x="269.2" y="497.8" width="1.7" height="3.7" color="#fad6cb"/>
<rect x="284.2" y="497.8" width="1.7" height="3.7" color="#fbe0d8"/>
<rect x="49.2" y="502.2" width="1.7" height="3.7" color="#fbe1da"/>
<rect x="129.2" y="502.2" width="1.7" height="3.7" color="#f08869"/>
<rect x="136.7" y="502.2" width="1.7" height="3.7" color="#f3a289"/>
<rect x="166.7" y="502.2" width="1.7" height="3.7" color="#f8c5b6"/>
<rect x="179.2" y="502.2" width="1.7" height="3.7" color="#f3a38a"/>
<rect x="186.7" y="502.2" width="1.7" height="3.7" color="#f6b8a5"/>
<rect x="209.2" y="502.2" width="1.7" height="3.7" color="#fcebe6"/>
<rect x="261.7" y="502.2" width="1.7" height="3.7" color="#f19073"/>
<rect x="264.2" y="502.2" width="1.7" height="3.7" color="#fbe0d7"/>
<rect x="279.2" y="502.2" width="1.7" height="3.7" color="#ee7a57"/>
<rect x="281.7" y="502.2" width="1.7" height="3.7" color="#f9d3c7"/>
<rect x="49.2" y="506.7" width="1.7" height="3.7" color="#fadbd1"/>
<rect x="61.7" y="506.7" width="1.7" height="3.7" color="#fbe2da"/>
<rect x="69.2" y="506.7" width="1.7" height="3.7" color="#f08869"/>
<rect x="74.2" y="506.7" width="1.7" height="3.7" color="#ed734f"/>
<rect x="81.7" y="506.7" width="1.7" height="3.7" color="#fce8e2"/>
<rect x="99.2" y="506.7" width="1.7" height="3.7" color="#f08868"/>
<rect x="139.2" y="506.7" width="1.7" height="3.7" color="#f7c3b3"/>
<rect x="146.7" y="506.7" width="1.7" height="3.7" color="#fcebe6"/>
<rect x="176.7" y="506.7" width="1.7" height="3.7" color="#f8cabc"/>
<rect x="179.2" y="506.7" width="1.7" height="3.7" color="#fad5ca"/>
<rect x="209.2" y="506.7" width="1.7" height="3.7" color="#f19073"/>
<rect x="236.7" y="506.7" width="1.7" height="3.7" color="#fbdfd6"/>
<rect x="241.7" y="506.7" width="1.7" height="3.7" color="#ef8362"/>
<rect x="261.7" y="506.7" width="1.7" height="3.7" color="#fce9e4"/>
<rect x="269.2" y="506.7" width="1.7" height="3.7" color="#f6baa8"/>
<rect x="284.2" y="506.7" width="1.7" height="3.7" color="#f8c9ba"/>
<rect x="49.2" y="511.1" width="1.7" height="3.7" color="#fbdcd2"/>
<rect x="51.7" y="511.1" width="1.7" height="3.7" color="#f2987d"/>
<rect x="61.7" y="511.1" width="1.7" height="3.7" color="#f29478"/>
<rect x="74.2" y="511.1" width="1.7" height="3.7" color="#fce5de"/>
<rect x="76.7" y="511.1" width="1.7" height="3.7" color="#fce9e3"/>
<rect x="121.7" y="511.1" width="1.7" height="3.7" color="#f9d3c7"/>
<rect x="124.2" y="511.1" width="1.7" height="3.7" color="#fad7cc"/>
<rect x="129.2" y="511.1" width="1.7" height="3.7" color="#f19376"/>
<rect x="131.7" y="511.1" width="1.7" height="3.7" color="#fceae5"/>
<rect x="161.7" y="511.1" width="1.7" height="3.7" color="#fbddd4"/>
<rect x="186.7" y="511.1" width="1.7" height="3.7" color="#f0896a"/>
<rect x="206.7" y="511.1" width="1.7" height="3.7" color="#fceae5"/>
<rect x="209.2" y="511.1" width="1.7" height="3.7" color="#eb5c31"/>
<rect x="241.7" y="511.1" width="1.7" height="3.7" color="#f08b6d"/>
<rect x="269.2" y="511.1" width="1.7" height="3.7" color="#f08a6b"/>
<rect x="49.2" y="515.6" width="1.7" height="3.7" color="#fadbd1"/>
<rect x="61.7" y="515.6" width="1.7" height="3.7" color="#fce6df"/>
<rect x="69.2" y="515.6" width="1.7" height="3.7" color="#fbe1d9"/>
<rect x="74.2" y="515.6" width="1.7" height="3.7" color="#fce4dd"/>
<rect x="84.2" y="515.6" width="1.7" height="3.7" color="#ee7550"/>
<rect x="99.2" y="515.6" width="1.7" height="3.7" color="#fce9e4"/>
<rect x="129.2" y="515.6" width="1.7" height="3.7" color="#ec663d"/>
<rect x="161.7" y="515.6" width="1.7" height="3.7" color="#fad6cb"/>
<rect x="171.7" y="515.6" width="1.7" height="3.7" color="#ed714c"/>
<rect x="209.2" y="515.6" width="1.7" height="3.7" color="#f7bfae"/>
<rect x="241.7" y="515.6" width="1.7" height="3.7" color="#f4aa93"/>
<rect x="256.7" y="515.6" width="1.7" height="3.7" color="#fce6df"/>
<rect x="284.2" y="515.6" width="1.7" height="3.7" color="#f08767"/>
<rect x="49.2" y="520.1" width="1.7" height="3.7" color="#fce9e3"/>
<rect x="61.7" y="520.1" width="1.7" height="3.7" color="#ef8160"/>
<rect x="69.2" y="520.1" width="1.7" height="3.7" color="#f18c6e"/>
<rect x="74.2" y="520.1" width="1.7" height="3.7" color="#f4a790"/>
<rect x="81.7" y="520.1" width="1.7" height="3.7" color="#f19174"/>
<rect x="99.2" y="520.1" width="1.7" height="3.7" color="#fce9e3"/>
<rect x="129.2" y="520.1" width="1.7" height="3.7" color="#fbdfd7"/>
<rect x="134.2" y="520.1" width="1.7" height="3.7" color="#f2987c"/>
<rect x="139.2" y="520.1" width="1.7" height="3.7" color="#f29478"/>
<rect x="144.2" y="520.1" width="1.7" height="3.7" color="#eb5e34"/>
<rect x="161.7" y="520.1" width="1.7" height="3.7" color="#f7bcaa"/>
<rect x="179.2" y="520.1" width="1.7" height="3.7" color="#fad5c9"/>
<rect x="186.7" y="520.1" width="1.7" height="3.7" color="#ef805f"/>
<rect x="196.7" y="520.1" width="1.7" height="3.7" color="#f8cabc"/>
<rect x="209.2" y="520.1" width="1.7" height="3.7" color="#f6b8a5"/>
<rect x="219.2" y="520.1" width="1.7" height="3.7" color="#f9d1c5"/>
<rect x="261.7" y="520.1" width="1.7" height="3.7" color="#f8c9bb"/>
<rect x="284.2" y="520.1" width="1.7" height="3.7" color="#ed6d47"/>
<rect x="61.7" y="524.5" width="1.7" height="3.7" color="#f4a891"/>
<rect x="94.2" y="524.5" width="1.7" height="3.7" color="#fcebe5"/>
<rect x="96.7" y="524.5" width="1.7" height="3.7" color="#f9ccbe"/>
<rect x="139.2" y="524.5" width="1.7" height="3.7" color="#f4ab95"/>
<rect x="161.7" y="524.5" width="1.7" height="3.7" color="#f2977c"/>
<rect x="169.2" y="524.5" width="1.7" height="3.7" color="#fcebe6"/>
<rect x="186.7" y="524.5" width="1.7" height="3.7" color="#fce8e2"/>
<rect x="196.7" y="524.5" width="1.7" height="3.7" color="#f6b6a3"/>
<rect x="199.2" y="524.5" width="1.7" height="3.7" color="#f6b8a6"/>
<rect x="209.2" y="524.5" width="1.7" height="3.7" color="#f4ab95"/>
<rect x="236.7" y="524.5" width="1.7" height="3.7" color="#fce5df"/>
<rect x="241.7" y="524.5" width="1.7" height="3.7" color="#fcebe5"/>
<rect x="281.7" y="524.5" width="1.7" height="3.7" color="#fceae5"/>
<rect x="284.2" y="524.5" width="1.7" height="3.7" color="#f5ac96"/>
<rect x="49.2" y="528.9" width="1.7" height="3.7" color="#fbe2da"/>
<rect x="61.7" y="528.9" width="1.7" height="3.7" color="#f5b29d"/>
<rect x="69.2" y="528.9" width="1.7" height="3.7" color="#f18d70"/>
<rect x="74.2" y="528.9" width="1.7" height="3.7" color="#eb6339"/>
<rect x="84.2" y="528.9" width="1.7" height="3.7" color="#f9cdc0"/>
<rect x="121.7" y="528.9" width="1.7" height="3.7" color="#f9cfc3"/>
<rect x="126.7" y="528.9" width="1.7" height="3.7" color="#fce4dd"/>
<rect x="134.2" y="528.9" width="1.7" height="3.7" color="#fce8e2"/>
<rect x="139.2" y="528.9" width="1.7" height="3.7" color="#ed6d46"/>
<rect x="156.7" y="528.9" width="1.7" height="3.7" color="#fce4dc"/>
<rect x="186.7" y="528.9" width="1.7" height="3.7" color="#fcebe6"/>
<rect x="196.7" y="528.9" width="1.7" height="3.7" color="#fad8cd"/>
<rect x="204.2" y="528.9" width="1.7" height="3.7" color="#fbe1d9"/>
<rect x="209.2" y="528.9" width="1.7" height="3.7" color="#f7c1b0"/>
<rect x="221.7" y="528.9" width="1.7" height="3.7" color="#ed704b"/>
<rect x="241.7" y="528.9" width="1.7" height="3.7" color="#f9d1c5"/>
<rect x="261.7" y="528.9" width="1.7" height="3.7" color="#f18c6e"/>
<rect x="281.7" y="528.9" width="1.7" height="3.7" color="#fbddd4"/>
<rect x="284.2" y="528.9" width="1.7" height="3.7" color="#fce7e0"/>
</g>
<path d="M317.2 497.2 H322.7" stroke="#b261b5" stroke-width="1.8" opacity="0.55" fill="none"/>
<path d="M301.8 509.8 H308" stroke="#3eace6" stroke-width="1.8" opacity="0.55" fill="none"/>
<path d="M288.3 521.8 H293.4" stroke="#fde357" stroke-width="1.8" opacity="0.55" fill="none"/>
</g></defs>
<use href="#stack"/>
<use href="#stack" transform="translate(1013.8 0)"/>
<path d="M1047.9 87 V535" stroke="#f9bdb7" stroke-width="1.4" fill="none"/><path d="M1049.3 86.5 V535" stroke="#ec6057" stroke-width="1.5" fill="none"/>
<path d="M355.2 108 L499.6 192.6 L499.6 384.2 L355.2 470.6 Z" fill="#f4e8f3"/>
<line x1="383.6" y1="163.3" x2="470.7" y2="226" stroke="#fbc7c1" stroke-width="1.5"/>
<line x1="383.6" y1="163.3" x2="470.7" y2="288.8" stroke="#fbc7c1" stroke-width="1.5"/>
<line x1="383.6" y1="163.3" x2="470.7" y2="351.6" stroke="#fbc7c1" stroke-width="1.5"/>
<line x1="383.6" y1="226" x2="470.7" y2="226" stroke="#fbc7c1" stroke-width="1.5"/>
<line x1="383.6" y1="226" x2="470.7" y2="288.8" stroke="#fbc7c1" stroke-width="1.5"/>
<line x1="383.6" y1="226" x2="470.7" y2="351.6" stroke="#fbc7c1" stroke-width="1.5"/>
<line x1="383.6" y1="288.8" x2="470.7" y2="226" stroke="#fbc7c1" stroke-width="1.5"/>
<line x1="383.6" y1="288.8" x2="470.7" y2="288.8" stroke="#fbc7c1" stroke-width="1.5"/>
<line x1="383.6" y1="288.8" x2="470.7" y2="351.6" stroke="#fbc7c1" stroke-width="1.5"/>
<line x1="383.6" y1="351.6" x2="470.7" y2="226" stroke="#fbc7c1" stroke-width="1.5"/>
<line x1="383.6" y1="351.6" x2="470.7" y2="288.8" stroke="#fbc7c1" stroke-width="1.5"/>
<line x1="383.6" y1="351.6" x2="470.7" y2="351.6" stroke="#fbc7c1" stroke-width="1.5"/>
<line x1="383.6" y1="414.3" x2="470.7" y2="226" stroke="#fbc7c1" stroke-width="1.5"/>
<line x1="383.6" y1="414.3" x2="470.7" y2="288.8" stroke="#fbc7c1" stroke-width="1.5"/>
<line x1="383.6" y1="414.3" x2="470.7" y2="351.6" stroke="#fbc7c1" stroke-width="1.5"/>
<circle cx="383.6" cy="163.3" r="10.7" fill="#fbc9c4"/>
<circle cx="383.6" cy="226" r="10.7" fill="#fbc9c4"/>
<circle cx="383.6" cy="288.8" r="10.7" fill="#fbc9c4"/>
<circle cx="383.6" cy="351.6" r="10.7" fill="#fbc9c4"/>
<circle cx="383.6" cy="414.3" r="10.7" fill="#fbc9c4"/>
<circle cx="470.7" cy="226" r="10.7" fill="#fbc9c4"/>
<circle cx="470.7" cy="288.8" r="10.7" fill="#fbc9c4"/>
<circle cx="470.7" cy="351.6" r="10.7" fill="#fbc9c4"/>
<line x1="336.6" y1="289" x2="355.2" y2="289" stroke="#fac9b8" stroke-width="1.5"/>
<line x1="499.6" y1="289" x2="517.6" y2="289" stroke="#fac9b8" stroke-width="1.5"/>
<path d="M886.9 192.7 L1031.6 108 L1031.6 470.8 L886.9 384.8 Z" fill="#f1f6ec"/>
<rect x="899.9" y="198" width="118.9" height="182" rx="9" ry="9" fill="none" stroke="#fab9b3" stroke-width="1"/>
<line x1="867.5" y1="285.1" x2="902" y2="285.1" stroke="#f8aaa2" stroke-width="0.8"/>
<line x1="1016" y1="285.1" x2="1048.5" y2="285.1" stroke="#f8aaa2" stroke-width="0.8"/>
<path d="M901.2 285.1 H904.9 V221.4 H914.5" fill="none" stroke="#e8404a" stroke-width="2"/>
<path d="M1004.6 221.4 H1013.6 V285.1 H1017.6" fill="none" stroke="#e8404a" stroke-width="2"/>
<rect x="914.6" y="210.7" width="89.8" height="22.6" rx="6.8" ry="6.8" fill="none" stroke="#ea4349" stroke-width="1.7"/>
<text transform="translate(958.3 227.8) scale(1 1.13)" text-anchor="middle" font-size="15.3" fill="#ea4349" stroke="#ea4349" stroke-width="0.65">BN(batch 1)</text>
<rect x="914.6" y="244.8" width="89.8" height="21.8" rx="6.8" ry="6.8" fill="none" stroke="#fddf4d" stroke-width="1.7"/>
<text transform="translate(958.3 261.5) scale(1 1.13)" text-anchor="middle" font-size="15.3" fill="#fddf4d" stroke="#fddf4d" stroke-width="0.65">BN(batch 2)</text>
<rect x="914.6" y="278.1" width="89.8" height="22.5" rx="6.8" ry="6.8" fill="none" stroke="#2399d8" stroke-width="1.7"/>
<text transform="translate(958.3 295.1) scale(1 1.13)" text-anchor="middle" font-size="15.3" fill="#2399d8" stroke="#2399d8" stroke-width="0.65">BN(batch 3)</text>
<rect x="914.6" y="345.7" width="89.8" height="22.7" rx="6.8" ry="6.8" fill="none" stroke="#8d2c91" stroke-width="1.7"/>
<text transform="translate(958.3 362.9) scale(1 1.13)" text-anchor="middle" font-size="15.3" fill="#8d2c91" stroke="#8d2c91" stroke-width="0.65">BN(batch n)</text>
<rect x="956.1" y="314" width="3.7" height="3.8" rx="0.4" fill="#ee5631"/>
<rect x="956.1" y="319.9" width="3.7" height="3.8" rx="0.4" fill="#ee5631"/>
<rect x="956.1" y="325.8" width="3.7" height="3.8" rx="0.4" fill="#ee5631"/>
<path d="M518.3 145.8 L518.3 413.6 M564.5 135.4 L564.5 398.6 M609.5 125.3 L609.5 384 M653.1 115.6 L653.1 369.9 M696.1 105.9 L696.1 356 M736.8 96.8 L736.8 342.8 M518.3 145.8 L736.8 96.8 M518.3 190.9 L736.8 138.4 M518.3 235.6 L736.8 178.9 M518.3 280.3 L736.8 220 M518.3 324.8 L736.8 261.1 M518.3 369.1 L736.8 302 M518.3 413.6 L736.8 342.8 M736.8 96.8 L736.8 342.8 M778.3 112.4 L778.3 365.7 M819.6 128 L819.6 388.6 M866.3 145.6 L866.3 414.4 M736.8 96.8 L866.3 145.6 M736.8 138.4 L866.3 190.7 M736.8 178.9 L866.3 235.2 M736.8 220 L866.3 279.5 M736.8 261.1 L866.3 323.7 M736.8 302 L866.3 368.6 M736.8 342.8 L866.3 414.4 M518.3 413.6 L646.3 483.5 M564.5 398.6 L691.3 469.4 M609.5 384 L736.4 455.2 M653.1 369.9 L780.7 441.3 M696.1 356 L822.8 428.1 M736.8 342.8 L866.3 414.4 M518.3 413.6 L736.8 342.8 M561 436.9 L778.3 365.7 M604 460.4 L819.6 388.6 M646.3 483.5 L866.3 414.4" fill="none" stroke="#c0c0c0" stroke-width="1.1"/>
<path d="M518.3 145.8 L736.8 96.8 L866.3 145.6 L866.3 414.4 L646.3 483.5 L518.3 413.6 Z" fill="none" stroke="#b4b4b4" stroke-width="1.4"/>
<g fill="#2a2a2a"><circle cx="606.6" cy="177.5" r="3.1"/><circle cx="608.8" cy="177.4" r="3.2"/><circle cx="610.4" cy="177.2" r="3.2"/><circle cx="611.9" cy="177" r="2.7"/><circle cx="612.2" cy="178.7" r="3.3"/><circle cx="613.1" cy="179.7" r="3.3"/><circle cx="612.9" cy="181.1" r="3"/><circle cx="610.5" cy="183.5" r="3"/><circle cx="611.2" cy="187.4" r="2.7"/><circle cx="610.9" cy="188.4" r="2.8"/><circle cx="608.6" cy="191.2" r="3.2"/><circle cx="610.7" cy="195.3" r="3.2"/><circle cx="611.6" cy="196.5" r="3.1"/><circle cx="611.3" cy="197.7" r="2.7"/><circle cx="611.2" cy="198.5" r="2.8"/><circle cx="611" cy="197.6" r="3.3"/><circle cx="610.9" cy="198.1" r="2.9"/><circle cx="611.1" cy="195.2" r="3"/><circle cx="607.3" cy="191.7" r="2.8"/><circle cx="604.6" cy="191" r="3.1"/><circle cx="603.5" cy="190.6" r="3.3"/><circle cx="602.3" cy="189.3" r="2.9"/><circle cx="601.6" cy="186.9" r="2.8"/><circle cx="601.4" cy="183.9" r="2.9"/><circle cx="600.6" cy="182" r="2.7"/><circle cx="601" cy="180.9" r="2.9"/><circle cx="602.9" cy="179.9" r="3.2"/><circle cx="604.6" cy="178.1" r="2.9"/></g><g fill="#f5821f"><polygon points="606.6,177.5 608.8,177.4 610.4,177.2 611.9,177 612.2,178.7 613.1,179.7 612.9,181.1 610.5,183.5 611.2,187.4 610.9,188.4 608.6,191.2 610.7,195.3 611.6,196.5 611.3,197.7 611.2,198.5 611,197.6 610.9,198.1 611.1,195.2 607.3,191.7 604.6,191 603.5,190.6 602.3,189.3 601.6,186.9 601.4,183.9 600.6,182 601,180.9 602.9,179.9 604.6,178.1"/><circle cx="606.6" cy="177.5" r="1.8"/><circle cx="608.8" cy="177.4" r="1.9"/><circle cx="610.4" cy="177.2" r="1.9"/><circle cx="611.9" cy="177" r="1.4"/><circle cx="612.2" cy="178.7" r="2"/><circle cx="613.1" cy="179.7" r="2"/><circle cx="612.9" cy="181.1" r="1.7"/><circle cx="610.5" cy="183.5" r="1.7"/><circle cx="611.2" cy="187.4" r="1.4"/><circle cx="610.9" cy="188.4" r="1.5"/><circle cx="608.6" cy="191.2" r="1.9"/><circle cx="610.7" cy="195.3" r="1.9"/><circle cx="611.6" cy="196.5" r="1.8"/><circle cx="611.3" cy="197.7" r="1.4"/><circle cx="611.2" cy="198.5" r="1.5"/><circle cx="611" cy="197.6" r="2"/><circle cx="610.9" cy="198.1" r="1.6"/><circle cx="611.1" cy="195.2" r="1.7"/><circle cx="607.3" cy="191.7" r="1.5"/><circle cx="604.6" cy="191" r="1.8"/><circle cx="603.5" cy="190.6" r="2"/><circle cx="602.3" cy="189.3" r="1.6"/><circle cx="601.6" cy="186.9" r="1.5"/><circle cx="601.4" cy="183.9" r="1.6"/><circle cx="600.6" cy="182" r="1.4"/><circle cx="601" cy="180.9" r="1.6"/><circle cx="602.9" cy="179.9" r="1.9"/><circle cx="604.6" cy="178.1" r="1.6"/></g>
<g fill="#cbbde3"><circle cx="604.3" cy="185.9" r="2"/><circle cx="611.2" cy="187.8" r="1.9"/><circle cx="604.2" cy="192.3" r="1.7"/><circle cx="606.6" cy="190.6" r="1.5"/><circle cx="609.8" cy="190.3" r="1.4"/></g>
<g fill="#2a2a2a"><circle cx="658.6" cy="157.3" r="3.1"/><circle cx="659.4" cy="157.7" r="3.3"/><circle cx="659.8" cy="158.8" r="3.2"/><circle cx="660.6" cy="160.4" r="2.7"/><circle cx="660.7" cy="162.9" r="2.9"/><circle cx="661.3" cy="165.3" r="2.7"/><circle cx="659.7" cy="166.9" r="2.8"/><circle cx="659.2" cy="168" r="2.8"/><circle cx="658" cy="167.1" r="3.3"/><circle cx="655.1" cy="167.4" r="2.9"/><circle cx="653.1" cy="166.9" r="3"/><circle cx="652.2" cy="166.6" r="2.7"/><circle cx="652.6" cy="166.1" r="3.2"/><circle cx="652.9" cy="165.2" r="2.7"/><circle cx="655.2" cy="163.2" r="2.7"/><circle cx="657.9" cy="160.3" r="3.1"/><circle cx="658.3" cy="158.1" r="2.9"/></g><g fill="#21c1d8"><polygon points="658.6,157.3 659.4,157.7 659.8,158.8 660.6,160.4 660.7,162.9 661.3,165.3 659.7,166.9 659.2,168 658,167.1 655.1,167.4 653.1,166.9 652.2,166.6 652.6,166.1 652.9,165.2 655.2,163.2 657.9,160.3 658.3,158.1"/><circle cx="658.6" cy="157.3" r="1.8"/><circle cx="659.4" cy="157.7" r="2"/><circle cx="659.8" cy="158.8" r="1.9"/><circle cx="660.6" cy="160.4" r="1.4"/><circle cx="660.7" cy="162.9" r="1.6"/><circle cx="661.3" cy="165.3" r="1.4"/><circle cx="659.7" cy="166.9" r="1.5"/><circle cx="659.2" cy="168" r="1.5"/><circle cx="658" cy="167.1" r="2"/><circle cx="655.1" cy="167.4" r="1.6"/><circle cx="653.1" cy="166.9" r="1.7"/><circle cx="652.2" cy="166.6" r="1.4"/><circle cx="652.6" cy="166.1" r="1.9"/><circle cx="652.9" cy="165.2" r="1.4"/><circle cx="655.2" cy="163.2" r="1.4"/><circle cx="657.9" cy="160.3" r="1.8"/><circle cx="658.3" cy="158.1" r="1.6"/></g>
<g fill="#2a2a2a"><circle cx="696" cy="233.2" r="3.5"/><circle cx="698.4" cy="233.9" r="3.4"/><circle cx="700.7" cy="235.3" r="3.2"/><circle cx="700.9" cy="238.1" r="3.6"/><circle cx="703.2" cy="239.8" r="3.3"/><circle cx="702.5" cy="243" r="3.8"/><circle cx="703.5" cy="245.9" r="3.4"/><circle cx="702.5" cy="248.7" r="3.6"/><circle cx="702.5" cy="251.7" r="3.5"/><circle cx="701.2" cy="254.7" r="3.2"/><circle cx="700.8" cy="258.1" r="3.2"/><circle cx="699.6" cy="261.2" r="3.7"/><circle cx="697.5" cy="263.9" r="3.7"/><circle cx="696.6" cy="267" r="3.6"/><circle cx="695.9" cy="270.2" r="3.2"/><circle cx="693.9" cy="272.8" r="3.3"/><circle cx="692.9" cy="275.3" r="3.4"/><circle cx="690.8" cy="275.6" r="3.8"/><circle cx="689.6" cy="276.6" r="3.8"/><circle cx="686.8" cy="275.6" r="3.5"/><circle cx="681.5" cy="277.2" r="3.5"/><circle cx="679.8" cy="280.8" r="3.4"/><circle cx="678.6" cy="280.7" r="3.4"/><circle cx="678.4" cy="280.5" r="3.8"/><circle cx="677.1" cy="279.8" r="3.5"/><circle cx="676" cy="277.4" r="3.2"/><circle cx="676.5" cy="273.3" r="3.7"/><circle cx="673.8" cy="269.5" r="3.4"/><circle cx="671.1" cy="266.6" r="3.7"/><circle cx="668.6" cy="264.2" r="3.6"/><circle cx="665.6" cy="261.9" r="3.4"/><circle cx="662.3" cy="260.2" r="3.3"/><circle cx="661" cy="259.2" r="3.7"/><circle cx="661.3" cy="259.1" r="3.4"/><circle cx="662.1" cy="257.5" r="3.6"/><circle cx="663.5" cy="255.3" r="3.2"/><circle cx="666.4" cy="253.8" r="3.3"/><circle cx="669.7" cy="251.4" r="3.5"/><circle cx="672.2" cy="248.2" r="3.6"/><circle cx="673.6" cy="245" r="3.4"/><circle cx="675.6" cy="243.1" r="3.7"/><circle cx="677.4" cy="241.2" r="3.4"/><circle cx="680" cy="239.7" r="3.8"/><circle cx="683.1" cy="238.4" r="3.8"/><circle cx="685.5" cy="236" r="3.5"/><circle cx="688.2" cy="234.8" r="3.3"/><circle cx="691" cy="234" r="3.8"/><circle cx="693.6" cy="233.7" r="3.6"/></g><g fill="#9164c2"><polygon points="696,233.2 698.4,233.9 700.7,235.3 700.9,238.1 703.2,239.8 702.5,243 703.5,245.9 702.5,248.7 702.5,251.7 701.2,254.7 700.8,258.1 699.6,261.2 697.5,263.9 696.6,267 695.9,270.2 693.9,272.8 692.9,275.3 690.8,275.6 689.6,276.6 686.8,275.6 681.5,277.2 679.8,280.8 678.6,280.7 678.4,280.5 677.1,279.8 676,277.4 676.5,273.3 673.8,269.5 671.1,266.6 668.6,264.2 665.6,261.9 662.3,260.2 661,259.2 661.3,259.1 662.1,257.5 663.5,255.3 666.4,253.8 669.7,251.4 672.2,248.2 673.6,245 675.6,243.1 677.4,241.2 680,239.7 683.1,238.4 685.5,236 688.2,234.8 691,234 693.6,233.7"/><circle cx="696" cy="233.2" r="2.1"/><circle cx="698.4" cy="233.9" r="2"/><circle cx="700.7" cy="235.3" r="1.8"/><circle cx="700.9" cy="238.1" r="2.2"/><circle cx="703.2" cy="239.8" r="1.9"/><circle cx="702.5" cy="243" r="2.4"/><circle cx="703.5" cy="245.9" r="2"/><circle cx="702.5" cy="248.7" r="2.2"/><circle cx="702.5" cy="251.7" r="2.1"/><circle cx="701.2" cy="254.7" r="1.8"/><circle cx="700.8" cy="258.1" r="1.8"/><circle cx="699.6" cy="261.2" r="2.3"/><circle cx="697.5" cy="263.9" r="2.3"/><circle cx="696.6" cy="267" r="2.2"/><circle cx="695.9" cy="270.2" r="1.8"/><circle cx="693.9" cy="272.8" r="1.9"/><circle cx="692.9" cy="275.3" r="2"/><circle cx="690.8" cy="275.6" r="2.4"/><circle cx="689.6" cy="276.6" r="2.4"/><circle cx="686.8" cy="275.6" r="2.1"/><circle cx="681.5" cy="277.2" r="2.1"/><circle cx="679.8" cy="280.8" r="2"/><circle cx="678.6" cy="280.7" r="2"/><circle cx="678.4" cy="280.5" r="2.4"/><circle cx="677.1" cy="279.8" r="2.1"/><circle cx="676" cy="277.4" r="1.8"/><circle cx="676.5" cy="273.3" r="2.3"/><circle cx="673.8" cy="269.5" r="2"/><circle cx="671.1" cy="266.6" r="2.3"/><circle cx="668.6" cy="264.2" r="2.2"/><circle cx="665.6" cy="261.9" r="2"/><circle cx="662.3" cy="260.2" r="1.9"/><circle cx="661" cy="259.2" r="2.3"/><circle cx="661.3" cy="259.1" r="2"/><circle cx="662.1" cy="257.5" r="2.2"/><circle cx="663.5" cy="255.3" r="1.8"/><circle cx="666.4" cy="253.8" r="1.9"/><circle cx="669.7" cy="251.4" r="2.1"/><circle cx="672.2" cy="248.2" r="2.2"/><circle cx="673.6" cy="245" r="2"/><circle cx="675.6" cy="243.1" r="2.3"/><circle cx="677.4" cy="241.2" r="2"/><circle cx="680" cy="239.7" r="2.4"/><circle cx="683.1" cy="238.4" r="2.4"/><circle cx="685.5" cy="236" r="2.1"/><circle cx="688.2" cy="234.8" r="1.9"/><circle cx="691" cy="234" r="2.4"/><circle cx="693.6" cy="233.7" r="2.2"/></g><g opacity="0.55"><circle cx="692.1" cy="241.4" r="1.4" fill="#b493da"/><circle cx="700.8" cy="247.6" r="1.7" fill="#b493da"/><circle cx="688.1" cy="267.5" r="1.1" fill="#a47fd0"/><circle cx="685.9" cy="262.9" r="1.1" fill="#a47fd0"/><circle cx="690.2" cy="263.3" r="1.9" fill="#a47fd0"/><circle cx="702.7" cy="241.1" r="1" fill="#a47fd0"/><circle cx="684.3" cy="253" r="1.3" fill="#8354b6"/><circle cx="687" cy="261.3" r="1.6" fill="#a47fd0"/><circle cx="676.9" cy="249.9" r="1.8" fill="#8354b6"/><circle cx="684.4" cy="247.6" r="1.4" fill="#8354b6"/><circle cx="675.4" cy="260.9" r="1.7" fill="#8354b6"/><circle cx="678.8" cy="271.9" r="1.4" fill="#b493da"/><circle cx="680.9" cy="240.7" r="1.5" fill="#8354b6"/><circle cx="686.9" cy="249.9" r="0.9" fill="#b493da"/><circle cx="665.6" cy="260.2" r="1.4" fill="#b493da"/><circle cx="685" cy="253.7" r="1.4" fill="#a47fd0"/><circle cx="681.4" cy="266.9" r="1.9" fill="#8354b6"/><circle cx="682.1" cy="253" r="1.8" fill="#8354b6"/><circle cx="681.4" cy="259.9" r="1.8" fill="#a47fd0"/><circle cx="694.3" cy="244.9" r="1.7" fill="#8354b6"/><circle cx="691.7" cy="246.8" r="1.5" fill="#8354b6"/><circle cx="681.2" cy="263.9" r="1.8" fill="#b493da"/><circle cx="691.1" cy="262.4" r="1.4" fill="#b493da"/><circle cx="680.8" cy="250.4" r="1.7" fill="#b493da"/><circle cx="684.5" cy="265.9" r="1.8" fill="#a47fd0"/><circle cx="694.1" cy="253.6" r="1.6" fill="#b493da"/><circle cx="681.2" cy="265.7" r="1.1" fill="#b493da"/><circle cx="690.5" cy="253.8" r="1.5" fill="#8354b6"/><circle cx="681.1" cy="248" r="1.4" fill="#a47fd0"/><circle cx="684.4" cy="256.9" r="1.4" fill="#8354b6"/><circle cx="679.1" cy="259" r="1" fill="#a47fd0"/><circle cx="694.7" cy="264.8" r="1.2" fill="#a47fd0"/><circle cx="678.2" cy="256.4" r="1.7" fill="#a47fd0"/><circle cx="670.3" cy="264" r="1.6" fill="#a47fd0"/><circle cx="700" cy="240.4" r="1.1" fill="#b493da"/><circle cx="695.1" cy="236.4" r="0.9" fill="#a47fd0"/><circle cx="685.5" cy="268.6" r="1" fill="#b493da"/><circle cx="679.4" cy="248.2" r="1.4" fill="#b493da"/><circle cx="676" cy="264.5" r="1" fill="#a47fd0"/><circle cx="673.5" cy="260.3" r="1.4" fill="#b493da"/><circle cx="699.7" cy="259.6" r="1.1" fill="#b493da"/><circle cx="696.4" cy="246.7" r="1.7" fill="#a47fd0"/><circle cx="697.7" cy="254.8" r="1.1" fill="#8354b6"/><circle cx="691.3" cy="264.4" r="1.5" fill="#a47fd0"/><circle cx="682.5" cy="254.8" r="1.8" fill="#8354b6"/><circle cx="681.4" cy="248.6" r="0.9" fill="#b493da"/></g>
<circle cx="669.1" cy="254.8" r="1.6" fill="#b15a55"/><circle cx="661.6" cy="261" r="1.5" fill="#b8624f"/>
<circle cx="671.3" cy="261.2" r="2.1" fill="#1c1c1c"/><circle cx="671.3" cy="261.2" r="0.9" fill="#e8e2f2"/><circle cx="685.2" cy="254.1" r="1.2" fill="#2a2030"/>
<line x1="688.4" y1="287.6" x2="687.9" y2="293.7" stroke="#2a2a2a" stroke-width="7.4" stroke-linecap="round"/><line x1="688.4" y1="287.6" x2="688.1" y2="290.6" stroke="#d1cff7" stroke-width="4.8" stroke-linecap="round"/><line x1="687.9" y1="293.7" x2="688.1" y2="290.6" stroke="#2fa777" stroke-width="4.8" stroke-linecap="round"/><circle cx="688.4" cy="287.6" r="2.4" fill="#d1cff7"/><circle cx="687.9" cy="293.7" r="2.4" fill="#2fa777"/>
<g fill="#2a2a2a"><circle cx="792.3" cy="250.6" r="3.5"/><circle cx="794.4" cy="251" r="3.1"/><circle cx="796.5" cy="250.9" r="3.4"/><circle cx="797.9" cy="252.3" r="3"/><circle cx="799" cy="254.1" r="3.4"/><circle cx="800.6" cy="256.3" r="3"/><circle cx="801.7" cy="258.3" r="3.2"/><circle cx="800.8" cy="260.3" r="3.2"/><circle cx="799.9" cy="263.4" r="3.2"/><circle cx="799.5" cy="265.4" r="3"/><circle cx="797.8" cy="266" r="3.4"/><circle cx="795.1" cy="267.7" r="3.3"/><circle cx="793.4" cy="269.3" r="3.3"/><circle cx="793.2" cy="269.3" r="3.4"/><circle cx="791.8" cy="268.4" r="3.2"/><circle cx="789.6" cy="265.9" r="3"/><circle cx="787.8" cy="262.9" r="3"/><circle cx="786.1" cy="261.2" r="3.3"/><circle cx="785" cy="259.4" r="3"/><circle cx="785.3" cy="256.2" r="3.6"/><circle cx="784" cy="254.6" r="3.3"/><circle cx="784.3" cy="253.6" r="3"/><circle cx="786.6" cy="253.2" r="3.1"/><circle cx="790.2" cy="252.7" r="3.2"/></g><g fill="#e57cc1"><polygon points="792.3,250.6 794.4,251 796.5,250.9 797.9,252.3 799,254.1 800.6,256.3 801.7,258.3 800.8,260.3 799.9,263.4 799.5,265.4 797.8,266 795.1,267.7 793.4,269.3 793.2,269.3 791.8,268.4 789.6,265.9 787.8,262.9 786.1,261.2 785,259.4 785.3,256.2 784,254.6 784.3,253.6 786.6,253.2 790.2,252.7"/><circle cx="792.3" cy="250.6" r="2.1"/><circle cx="794.4" cy="251" r="1.7"/><circle cx="796.5" cy="250.9" r="2"/><circle cx="797.9" cy="252.3" r="1.6"/><circle cx="799" cy="254.1" r="2"/><circle cx="800.6" cy="256.3" r="1.6"/><circle cx="801.7" cy="258.3" r="1.8"/><circle cx="800.8" cy="260.3" r="1.8"/><circle cx="799.9" cy="263.4" r="1.8"/><circle cx="799.5" cy="265.4" r="1.6"/><circle cx="797.8" cy="266" r="2"/><circle cx="795.1" cy="267.7" r="1.9"/><circle cx="793.4" cy="269.3" r="1.9"/><circle cx="793.2" cy="269.3" r="2"/><circle cx="791.8" cy="268.4" r="1.8"/><circle cx="789.6" cy="265.9" r="1.6"/><circle cx="787.8" cy="262.9" r="1.6"/><circle cx="786.1" cy="261.2" r="1.9"/><circle cx="785" cy="259.4" r="1.6"/><circle cx="785.3" cy="256.2" r="2.2"/><circle cx="784" cy="254.6" r="1.9"/><circle cx="784.3" cy="253.6" r="1.6"/><circle cx="786.6" cy="253.2" r="1.7"/><circle cx="790.2" cy="252.7" r="1.8"/></g><g opacity="0.55"><circle cx="786.7" cy="255.4" r="1.7" fill="#dc6db6"/><circle cx="797.3" cy="263.2" r="1.4" fill="#ee93cf"/><circle cx="796.2" cy="263.2" r="1.7" fill="#dc6db6"/><circle cx="789.8" cy="259.1" r="1.6" fill="#ee93cf"/><circle cx="786.9" cy="254.4" r="1.5" fill="#ee93cf"/><circle cx="795.6" cy="262.2" r="1.6" fill="#dc6db6"/><circle cx="787.3" cy="257.4" r="1.6" fill="#ee93cf"/><circle cx="796.7" cy="253.7" r="1.1" fill="#ee93cf"/><circle cx="794.8" cy="264.2" r="0.9" fill="#dc6db6"/><circle cx="793.2" cy="257.2" r="1.6" fill="#ee93cf"/><circle cx="785.7" cy="259.4" r="1.5" fill="#ee93cf"/><circle cx="792.8" cy="265.2" r="1.2" fill="#ee93cf"/><circle cx="791.2" cy="256.3" r="1.8" fill="#ee93cf"/><circle cx="796.3" cy="262.6" r="1.4" fill="#ee93cf"/></g>
<g fill="#2a2a2a"><circle cx="571.4" cy="303.1" r="3.2"/><circle cx="573.5" cy="303.7" r="3.2"/><circle cx="575" cy="305.1" r="3.8"/><circle cx="577.1" cy="307" r="3.7"/><circle cx="580.2" cy="309.5" r="3.2"/><circle cx="582.5" cy="311.5" r="3.5"/><circle cx="584.4" cy="313.7" r="3.4"/><circle cx="586.4" cy="317.1" r="3.7"/><circle cx="589.9" cy="318.8" r="3.4"/><circle cx="592.4" cy="320.9" r="3.7"/><circle cx="594.7" cy="322.5" r="3.2"/><circle cx="595.3" cy="324.9" r="3.2"/><circle cx="595.9" cy="326.9" r="3.7"/><circle cx="596.2" cy="328.9" r="3.2"/><circle cx="594.7" cy="330.3" r="3.3"/><circle cx="591.2" cy="331.2" r="3.5"/><circle cx="589.1" cy="334.4" r="3.3"/><circle cx="587" cy="335.7" r="3.6"/><circle cx="584.1" cy="336.4" r="3.3"/><circle cx="580.6" cy="337.8" r="3.4"/><circle cx="578.2" cy="338.8" r="3.4"/><circle cx="577.8" cy="338.6" r="3.7"/><circle cx="578.1" cy="337.4" r="3.8"/><circle cx="577.2" cy="334.3" r="3.7"/><circle cx="576" cy="330.3" r="3.5"/><circle cx="573.5" cy="326.1" r="3.6"/><circle cx="569.9" cy="324.2" r="3.7"/><circle cx="568.2" cy="323.2" r="3.3"/><circle cx="567.1" cy="322.3" r="3.4"/><circle cx="567.8" cy="320.1" r="3.2"/><circle cx="570.1" cy="315.9" r="3.3"/><circle cx="567.7" cy="311.8" r="3.3"/><circle cx="567.6" cy="309" r="3.7"/><circle cx="566.4" cy="307" r="3.2"/><circle cx="567.9" cy="305.4" r="3.2"/><circle cx="570.2" cy="305" r="3.8"/></g><g fill="#2a81d0"><polygon points="571.4,303.1 573.5,303.7 575,305.1 577.1,307 580.2,309.5 582.5,311.5 584.4,313.7 586.4,317.1 589.9,318.8 592.4,320.9 594.7,322.5 595.3,324.9 595.9,326.9 596.2,328.9 594.7,330.3 591.2,331.2 589.1,334.4 587,335.7 584.1,336.4 580.6,337.8 578.2,338.8 577.8,338.6 578.1,337.4 577.2,334.3 576,330.3 573.5,326.1 569.9,324.2 568.2,323.2 567.1,322.3 567.8,320.1 570.1,315.9 567.7,311.8 567.6,309 566.4,307 567.9,305.4 570.2,305"/><circle cx="571.4" cy="303.1" r="1.8"/><circle cx="573.5" cy="303.7" r="1.8"/><circle cx="575" cy="305.1" r="2.4"/><circle cx="577.1" cy="307" r="2.3"/><circle cx="580.2" cy="309.5" r="1.8"/><circle cx="582.5" cy="311.5" r="2.1"/><circle cx="584.4" cy="313.7" r="2"/><circle cx="586.4" cy="317.1" r="2.3"/><circle cx="589.9" cy="318.8" r="2"/><circle cx="592.4" cy="320.9" r="2.3"/><circle cx="594.7" cy="322.5" r="1.8"/><circle cx="595.3" cy="324.9" r="1.8"/><circle cx="595.9" cy="326.9" r="2.3"/><circle cx="596.2" cy="328.9" r="1.8"/><circle cx="594.7" cy="330.3" r="1.9"/><circle cx="591.2" cy="331.2" r="2.1"/><circle cx="589.1" cy="334.4" r="1.9"/><circle cx="587" cy="335.7" r="2.2"/><circle cx="584.1" cy="336.4" r="1.9"/><circle cx="580.6" cy="337.8" r="2"/><circle cx="578.2" cy="338.8" r="2"/><circle cx="577.8" cy="338.6" r="2.3"/><circle cx="578.1" cy="337.4" r="2.4"/><circle cx="577.2" cy="334.3" r="2.3"/><circle cx="576" cy="330.3" r="2.1"/><circle cx="573.5" cy="326.1" r="2.2"/><circle cx="569.9" cy="324.2" r="2.3"/><circle cx="568.2" cy="323.2" r="1.9"/><circle cx="567.1" cy="322.3" r="2"/><circle cx="567.8" cy="320.1" r="1.8"/><circle cx="570.1" cy="315.9" r="1.9"/><circle cx="567.7" cy="311.8" r="1.9"/><circle cx="567.6" cy="309" r="2.3"/><circle cx="566.4" cy="307" r="1.8"/><circle cx="567.9" cy="305.4" r="1.8"/><circle cx="570.2" cy="305" r="2.4"/></g><g opacity="0.55"><circle cx="579.2" cy="316" r="1.3" fill="#1f72c0"/><circle cx="574.4" cy="324.7" r="1.6" fill="#5aa6e2"/><circle cx="579.7" cy="336.6" r="1" fill="#1f72c0"/><circle cx="580.1" cy="318.6" r="0.9" fill="#1f72c0"/><circle cx="580.5" cy="320.6" r="1" fill="#4496dc"/><circle cx="580.7" cy="334.6" r="1.4" fill="#1f72c0"/><circle cx="575.4" cy="321.5" r="1.3" fill="#4496dc"/><circle cx="590.5" cy="332.2" r="1.7" fill="#5aa6e2"/><circle cx="591.7" cy="325.2" r="1.2" fill="#1f72c0"/><circle cx="570.6" cy="311.6" r="0.9" fill="#1f72c0"/><circle cx="571.4" cy="306.6" r="1.2" fill="#5aa6e2"/><circle cx="588.9" cy="320.1" r="1.8" fill="#1f72c0"/><circle cx="585" cy="331.7" r="1.6" fill="#1f72c0"/><circle cx="584.9" cy="332.1" r="1.2" fill="#4496dc"/><circle cx="577.8" cy="320.1" r="1.6" fill="#5aa6e2"/><circle cx="579.8" cy="331.2" r="1.8" fill="#5aa6e2"/><circle cx="587" cy="327" r="1" fill="#5aa6e2"/><circle cx="578.8" cy="337.3" r="1.6" fill="#4496dc"/><circle cx="581.9" cy="313.2" r="0.9" fill="#4496dc"/><circle cx="589.4" cy="324.9" r="1.3" fill="#5aa6e2"/><circle cx="567.5" cy="306.3" r="1.8" fill="#1f72c0"/><circle cx="586.9" cy="333" r="1.5" fill="#5aa6e2"/><circle cx="583.1" cy="320.3" r="1.8" fill="#4496dc"/><circle cx="582.6" cy="317.1" r="1.6" fill="#4496dc"/><circle cx="577.6" cy="329.9" r="1.8" fill="#5aa6e2"/><circle cx="593.5" cy="325" r="1.2" fill="#1f72c0"/></g>
<ellipse cx="577.3" cy="318" rx="1.8" ry="0.9" transform="rotate(-35 577.3 318)" fill="#1b2c44"/>
<line x1="653.4" y1="333.2" x2="659.4" y2="327.2" stroke="#2a2a2a" stroke-width="7" stroke-linecap="round"/><line x1="653.4" y1="333.2" x2="656.4" y2="330.2" stroke="#8fdc8a" stroke-width="4.5" stroke-linecap="round"/><line x1="659.4" y1="327.2" x2="656.4" y2="330.2" stroke="#f9a3a3" stroke-width="4.5" stroke-linecap="round"/><circle cx="653.4" cy="333.2" r="2.2" fill="#8fdc8a"/><circle cx="659.4" cy="327.2" r="2.2" fill="#f9a3a3"/>
<g fill="#2a2a2a"><circle cx="605.8" cy="402.1" r="3.7"/><circle cx="607.6" cy="402.1" r="3.6"/><circle cx="610.6" cy="401" r="3.3"/><circle cx="613.8" cy="402.7" r="3.4"/><circle cx="617.6" cy="402.6" r="3.7"/><circle cx="620" cy="402.7" r="3.8"/><circle cx="622" cy="404.1" r="3.4"/><circle cx="625.4" cy="407.3" r="3.6"/><circle cx="630.2" cy="407.6" r="3.6"/><circle cx="632.1" cy="406.7" r="3.5"/><circle cx="632.6" cy="407.6" r="3.3"/><circle cx="633.5" cy="409.9" r="3.6"/><circle cx="634.2" cy="412.7" r="3.4"/><circle cx="633.7" cy="414.6" r="3.8"/><circle cx="633.4" cy="415.8" r="3.4"/><circle cx="630.1" cy="416.4" r="3.4"/><circle cx="627.3" cy="418.8" r="3.5"/><circle cx="625.5" cy="420.3" r="3.4"/><circle cx="622.3" cy="420" r="3.7"/><circle cx="618.7" cy="420.5" r="3.2"/><circle cx="616.1" cy="421.6" r="3.2"/><circle cx="613.1" cy="421.5" r="3.2"/><circle cx="609.1" cy="420.7" r="3.5"/><circle cx="605.7" cy="420.5" r="3.8"/><circle cx="603.4" cy="420.7" r="3.6"/><circle cx="600.4" cy="420.6" r="3.7"/><circle cx="597.5" cy="419.5" r="3.6"/><circle cx="595.4" cy="418.2" r="3.4"/><circle cx="594.8" cy="416.3" r="3.7"/><circle cx="593.7" cy="414.4" r="3.5"/><circle cx="594.1" cy="411.9" r="3.7"/><circle cx="595.5" cy="409.1" r="3.8"/><circle cx="596.3" cy="407" r="3.6"/><circle cx="596.9" cy="405.9" r="3.8"/><circle cx="600.1" cy="405.2" r="3.7"/><circle cx="603.3" cy="402.5" r="3.4"/></g><g fill="#bcc653"><polygon points="605.8,402.1 607.6,402.1 610.6,401 613.8,402.7 617.6,402.6 620,402.7 622,404.1 625.4,407.3 630.2,407.6 632.1,406.7 632.6,407.6 633.5,409.9 634.2,412.7 633.7,414.6 633.4,415.8 630.1,416.4 627.3,418.8 625.5,420.3 622.3,420 618.7,420.5 616.1,421.6 613.1,421.5 609.1,420.7 605.7,420.5 603.4,420.7 600.4,420.6 597.5,419.5 595.4,418.2 594.8,416.3 593.7,414.4 594.1,411.9 595.5,409.1 596.3,407 596.9,405.9 600.1,405.2 603.3,402.5"/><circle cx="605.8" cy="402.1" r="2.3"/><circle cx="607.6" cy="402.1" r="2.2"/><circle cx="610.6" cy="401" r="1.9"/><circle cx="613.8" cy="402.7" r="2"/><circle cx="617.6" cy="402.6" r="2.3"/><circle cx="620" cy="402.7" r="2.4"/><circle cx="622" cy="404.1" r="2"/><circle cx="625.4" cy="407.3" r="2.2"/><circle cx="630.2" cy="407.6" r="2.2"/><circle cx="632.1" cy="406.7" r="2.1"/><circle cx="632.6" cy="407.6" r="1.9"/><circle cx="633.5" cy="409.9" r="2.2"/><circle cx="634.2" cy="412.7" r="2"/><circle cx="633.7" cy="414.6" r="2.4"/><circle cx="633.4" cy="415.8" r="2"/><circle cx="630.1" cy="416.4" r="2"/><circle cx="627.3" cy="418.8" r="2.1"/><circle cx="625.5" cy="420.3" r="2"/><circle cx="622.3" cy="420" r="2.3"/><circle cx="618.7" cy="420.5" r="1.8"/><circle cx="616.1" cy="421.6" r="1.8"/><circle cx="613.1" cy="421.5" r="1.8"/><circle cx="609.1" cy="420.7" r="2.1"/><circle cx="605.7" cy="420.5" r="2.4"/><circle cx="603.4" cy="420.7" r="2.2"/><circle cx="600.4" cy="420.6" r="2.3"/><circle cx="597.5" cy="419.5" r="2.2"/><circle cx="595.4" cy="418.2" r="2"/><circle cx="594.8" cy="416.3" r="2.3"/><circle cx="593.7" cy="414.4" r="2.1"/><circle cx="594.1" cy="411.9" r="2.3"/><circle cx="595.5" cy="409.1" r="2.4"/><circle cx="596.3" cy="407" r="2.2"/><circle cx="596.9" cy="405.9" r="2.4"/><circle cx="600.1" cy="405.2" r="2.3"/><circle cx="603.3" cy="402.5" r="2"/></g><g opacity="0.55"><circle cx="631.9" cy="410.6" r="1" fill="#c9d26a"/><circle cx="617.9" cy="408.7" r="0.9" fill="#d2d983"/><circle cx="609.1" cy="408.1" r="1" fill="#d2d983"/><circle cx="624.5" cy="415.8" r="0.9" fill="#afba45"/><circle cx="607.6" cy="403.9" r="1.5" fill="#afba45"/><circle cx="598.2" cy="409.4" r="1.4" fill="#c9d26a"/><circle cx="595.7" cy="409.7" r="1.2" fill="#c9d26a"/><circle cx="632.9" cy="412.4" r="1.9" fill="#afba45"/><circle cx="615.6" cy="409" r="1" fill="#c9d26a"/><circle cx="608.1" cy="417.7" r="1.7" fill="#c9d26a"/><circle cx="599.4" cy="417.7" r="1.2" fill="#c9d26a"/><circle cx="612.3" cy="408.9" r="1" fill="#d2d983"/><circle cx="614.7" cy="420.7" r="1.9" fill="#d2d983"/><circle cx="621.5" cy="411.5" r="1.1" fill="#c9d26a"/><circle cx="624.9" cy="411.3" r="1.8" fill="#d2d983"/><circle cx="620.5" cy="413.7" r="0.9" fill="#d2d983"/><circle cx="610.5" cy="419" r="1.8" fill="#afba45"/><circle cx="624.4" cy="419.3" r="1.2" fill="#c9d26a"/><circle cx="601.4" cy="418.2" r="1.9" fill="#c9d26a"/><circle cx="602.5" cy="409.7" r="1" fill="#afba45"/><circle cx="619.4" cy="416.8" r="1" fill="#afba45"/><circle cx="610.3" cy="404.1" r="0.9" fill="#d2d983"/><circle cx="618" cy="403.8" r="1" fill="#c9d26a"/><circle cx="608.5" cy="413.7" r="1.1" fill="#c9d26a"/><circle cx="611.1" cy="406.5" r="1.3" fill="#d2d983"/><circle cx="614.7" cy="421.1" r="1.5" fill="#d2d983"/><circle cx="605.2" cy="403.2" r="1.3" fill="#afba45"/><circle cx="608.6" cy="410.8" r="1.3" fill="#d2d983"/><circle cx="603.3" cy="414.7" r="0.9" fill="#c9d26a"/><circle cx="625" cy="409.6" r="1.6" fill="#d2d983"/><circle cx="603.3" cy="407.3" r="1.1" fill="#d2d983"/><circle cx="621.8" cy="419.2" r="1.5" fill="#c9d26a"/><circle cx="611.5" cy="403.1" r="1.8" fill="#c9d26a"/><circle cx="608.7" cy="411.9" r="1.5" fill="#d2d983"/></g>
<rect x="625" y="404.6" width="3.8" height="4.2" fill="#3a9bd2"/><rect x="618.6" y="400.6" width="3.2" height="2" fill="#46a9b8"/>
<g fill="#2a2a2a"><circle cx="713.2" cy="343.4" r="3.6"/><circle cx="716" cy="342.6" r="3.4"/><circle cx="718.8" cy="341.8" r="3.6"/><circle cx="721.6" cy="340.6" r="3.6"/><circle cx="724.9" cy="340.9" r="3.3"/><circle cx="728.5" cy="340.4" r="3.2"/><circle cx="732.2" cy="340.1" r="3.7"/><circle cx="735.2" cy="339.4" r="3.4"/><circle cx="738" cy="338.6" r="3.2"/><circle cx="740.5" cy="340.2" r="3.5"/><circle cx="743.1" cy="341.1" r="3.2"/><circle cx="745.2" cy="342.9" r="3.2"/><circle cx="747.7" cy="344.5" r="3.4"/><circle cx="749.1" cy="347" r="3.7"/><circle cx="751.3" cy="348.9" r="3.3"/><circle cx="752.2" cy="351.6" r="3.3"/><circle cx="752.4" cy="354.8" r="3.3"/><circle cx="751.6" cy="358.4" r="3.7"/><circle cx="752.1" cy="361.6" r="3.6"/><circle cx="752" cy="363.7" r="3.8"/><circle cx="751.6" cy="366" r="3.6"/><circle cx="750" cy="368.7" r="3.8"/><circle cx="748.7" cy="371.4" r="3.2"/><circle cx="746.5" cy="372.9" r="3.6"/><circle cx="744" cy="374.3" r="3.6"/><circle cx="741" cy="376.9" r="3.2"/><circle cx="738.2" cy="379.3" r="3.4"/><circle cx="736" cy="380.9" r="3.5"/><circle cx="733.5" cy="382" r="3.5"/><circle cx="730.9" cy="382.7" r="3.6"/><circle cx="728.3" cy="384" r="3.6"/><circle cx="725.8" cy="383.5" r="3.7"/><circle cx="724.4" cy="382.8" r="3.5"/><circle cx="724.4" cy="381" r="3.7"/><circle cx="722.8" cy="378.1" r="3.6"/><circle cx="721.1" cy="374.6" r="3.4"/><circle cx="719.1" cy="371.1" r="3.5"/><circle cx="716.4" cy="367.9" r="3.8"/><circle cx="713.6" cy="365.8" r="3.6"/><circle cx="711.7" cy="364.1" r="3.4"/><circle cx="710.3" cy="361.8" r="3.8"/><circle cx="709" cy="358.9" r="3.6"/><circle cx="708.1" cy="355.8" r="3.3"/><circle cx="707" cy="353.4" r="3.6"/><circle cx="707" cy="351" r="3.5"/><circle cx="708" cy="348.7" r="3.3"/><circle cx="708.7" cy="346.4" r="3.3"/><circle cx="710.8" cy="345" r="3.8"/></g><g fill="#2aa56d"><polygon points="713.2,343.4 716,342.6 718.8,341.8 721.6,340.6 724.9,340.9 728.5,340.4 732.2,340.1 735.2,339.4 738,338.6 740.5,340.2 743.1,341.1 745.2,342.9 747.7,344.5 749.1,347 751.3,348.9 752.2,351.6 752.4,354.8 751.6,358.4 752.1,361.6 752,363.7 751.6,366 750,368.7 748.7,371.4 746.5,372.9 744,374.3 741,376.9 738.2,379.3 736,380.9 733.5,382 730.9,382.7 728.3,384 725.8,383.5 724.4,382.8 724.4,381 722.8,378.1 721.1,374.6 719.1,371.1 716.4,367.9 713.6,365.8 711.7,364.1 710.3,361.8 709,358.9 708.1,355.8 707,353.4 707,351 708,348.7 708.7,346.4 710.8,345"/><circle cx="713.2" cy="343.4" r="2.2"/><circle cx="716" cy="342.6" r="2"/><circle cx="718.8" cy="341.8" r="2.2"/><circle cx="721.6" cy="340.6" r="2.2"/><circle cx="724.9" cy="340.9" r="1.9"/><circle cx="728.5" cy="340.4" r="1.8"/><circle cx="732.2" cy="340.1" r="2.3"/><circle cx="735.2" cy="339.4" r="2"/><circle cx="738" cy="338.6" r="1.8"/><circle cx="740.5" cy="340.2" r="2.1"/><circle cx="743.1" cy="341.1" r="1.8"/><circle cx="745.2" cy="342.9" r="1.8"/><circle cx="747.7" cy="344.5" r="2"/><circle cx="749.1" cy="347" r="2.3"/><circle cx="751.3" cy="348.9" r="1.9"/><circle cx="752.2" cy="351.6" r="1.9"/><circle cx="752.4" cy="354.8" r="1.9"/><circle cx="751.6" cy="358.4" r="2.3"/><circle cx="752.1" cy="361.6" r="2.2"/><circle cx="752" cy="363.7" r="2.4"/><circle cx="751.6" cy="366" r="2.2"/><circle cx="750" cy="368.7" r="2.4"/><circle cx="748.7" cy="371.4" r="1.8"/><circle cx="746.5" cy="372.9" r="2.2"/><circle cx="744" cy="374.3" r="2.2"/><circle cx="741" cy="376.9" r="1.8"/><circle cx="738.2" cy="379.3" r="2"/><circle cx="736" cy="380.9" r="2.1"/><circle cx="733.5" cy="382" r="2.1"/><circle cx="730.9" cy="382.7" r="2.2"/><circle cx="728.3" cy="384" r="2.2"/><circle cx="725.8" cy="383.5" r="2.3"/><circle cx="724.4" cy="382.8" r="2.1"/><circle cx="724.4" cy="381" r="2.3"/><circle cx="722.8" cy="378.1" r="2.2"/><circle cx="721.1" cy="374.6" r="2"/><circle cx="719.1" cy="371.1" r="2.1"/><circle cx="716.4" cy="367.9" r="2.4"/><circle cx="713.6" cy="365.8" r="2.2"/><circle cx="711.7" cy="364.1" r="2"/><circle cx="710.3" cy="361.8" r="2.4"/><circle cx="709" cy="358.9" r="2.2"/><circle cx="708.1" cy="355.8" r="1.9"/><circle cx="707" cy="353.4" r="2.2"/><circle cx="707" cy="351" r="2.1"/><circle cx="708" cy="348.7" r="1.9"/><circle cx="708.7" cy="346.4" r="1.9"/><circle cx="710.8" cy="345" r="2.4"/></g><g opacity="0.55"><circle cx="732.5" cy="361.4" r="1.5" fill="#3cb47e"/><circle cx="737" cy="357.6" r="1.7" fill="#1f9660"/><circle cx="720.3" cy="343.5" r="1.3" fill="#1f9660"/><circle cx="745.4" cy="362" r="1.5" fill="#1f9660"/><circle cx="722.2" cy="343.3" r="1.2" fill="#54bf8f"/><circle cx="741.3" cy="346.7" r="1.3" fill="#54bf8f"/><circle cx="735.8" cy="371.5" r="1" fill="#1f9660"/><circle cx="721.1" cy="351.9" r="1.3" fill="#1f9660"/><circle cx="720.7" cy="346.8" r="1.7" fill="#3cb47e"/><circle cx="747.7" cy="361.6" r="1.4" fill="#3cb47e"/><circle cx="710.2" cy="357.7" r="1.4" fill="#54bf8f"/><circle cx="736.5" cy="369.5" r="1.8" fill="#1f9660"/><circle cx="749.9" cy="359.8" r="1.1" fill="#3cb47e"/><circle cx="718.1" cy="366.5" r="1" fill="#3cb47e"/><circle cx="751.8" cy="363.2" r="1" fill="#1f9660"/><circle cx="720.9" cy="359.2" r="0.9" fill="#1f9660"/><circle cx="715.2" cy="347.3" r="1.4" fill="#54bf8f"/><circle cx="749.6" cy="359.7" r="1.5" fill="#1f9660"/><circle cx="743.2" cy="367.4" r="1.2" fill="#1f9660"/><circle cx="740.7" cy="350.2" r="1.3" fill="#1f9660"/><circle cx="739.2" cy="343.1" r="1.1" fill="#54bf8f"/><circle cx="738.5" cy="371.7" r="1.3" fill="#3cb47e"/><circle cx="717.6" cy="349.9" r="1" fill="#54bf8f"/><circle cx="727.2" cy="366.7" r="1.1" fill="#54bf8f"/><circle cx="738.7" cy="343.4" r="1.8" fill="#54bf8f"/><circle cx="735.5" cy="370.3" r="1.6" fill="#54bf8f"/><circle cx="722.2" cy="365.5" r="1.7" fill="#54bf8f"/><circle cx="746.7" cy="362.3" r="1.2" fill="#54bf8f"/><circle cx="713" cy="357.7" r="1.3" fill="#1f9660"/><circle cx="742.1" cy="351.8" r="1.7" fill="#3cb47e"/><circle cx="749.8" cy="352.8" r="1.6" fill="#1f9660"/><circle cx="726.1" cy="376.6" r="1.4" fill="#54bf8f"/><circle cx="748.5" cy="362.4" r="1.6" fill="#1f9660"/><circle cx="734.9" cy="374.7" r="1.5" fill="#3cb47e"/><circle cx="736.6" cy="363.1" r="1.7" fill="#1f9660"/><circle cx="731.3" cy="360.3" r="1.6" fill="#3cb47e"/><circle cx="714.6" cy="346.4" r="1.1" fill="#54bf8f"/><circle cx="744.6" cy="368.1" r="1.3" fill="#1f9660"/><circle cx="746.2" cy="367.9" r="1.1" fill="#3cb47e"/><circle cx="749.2" cy="355.5" r="1.2" fill="#54bf8f"/><circle cx="740.3" cy="355.5" r="1.5" fill="#54bf8f"/><circle cx="743.5" cy="374.2" r="1" fill="#54bf8f"/><circle cx="711.8" cy="359.4" r="1.8" fill="#1f9660"/><circle cx="728.3" cy="351.7" r="0.9" fill="#3cb47e"/><circle cx="743.1" cy="373.4" r="1.4" fill="#54bf8f"/><circle cx="735" cy="366" r="1.1" fill="#54bf8f"/><circle cx="736.5" cy="358.7" r="1.1" fill="#54bf8f"/><circle cx="710" cy="354" r="1.4" fill="#3cb47e"/><circle cx="747.3" cy="346.4" r="0.9" fill="#1f9660"/><circle cx="726.4" cy="352.2" r="1.8" fill="#54bf8f"/><circle cx="724.7" cy="373.6" r="1.8" fill="#3cb47e"/><circle cx="738.3" cy="348.5" r="1.8" fill="#1f9660"/><circle cx="719.4" cy="362.4" r="1.6" fill="#3cb47e"/><circle cx="746" cy="369.6" r="1.8" fill="#3cb47e"/><circle cx="725.9" cy="368.5" r="1.5" fill="#54bf8f"/><circle cx="744.4" cy="372" r="1.1" fill="#54bf8f"/><circle cx="721.8" cy="350" r="1.8" fill="#54bf8f"/><circle cx="735.7" cy="370.8" r="1.3" fill="#1f9660"/><circle cx="713.5" cy="351.7" r="1.4" fill="#3cb47e"/><circle cx="740.7" cy="370.4" r="1.9" fill="#1f9660"/></g>
<g fill="#e3322f"><rect x="729" y="378.6" width="2.2" height="3"/><rect x="721.1" y="379.6" width="3.3" height="2.1"/><rect x="730.5" y="380.5" width="2.1" height="2.5"/><rect x="733.1" y="379.2" width="3" height="2.2"/><rect x="725.1" y="376.6" width="2.7" height="3.1"/><rect x="731.2" y="381.7" width="2.5" height="2.9"/><rect x="722.7" y="378" width="2.9" height="2.9"/><rect x="728.3" y="376.4" width="2.4" height="2.3"/><rect x="725.8" y="382" width="2.3" height="3.1"/><rect x="736.1" y="376.1" width="2.5" height="2.6"/><rect x="721.4" y="379" width="3.3" height="2.1"/><rect x="731.3" y="376.6" width="2.8" height="3.1"/><rect x="724.5" y="375.8" width="2.1" height="2.6"/><rect x="721.3" y="376.4" width="2.7" height="3.1"/><rect x="728.2" y="378.8" width="2.9" height="2.1"/><rect x="731" y="377" width="2.9" height="3.1"/><rect x="721.9" y="380" width="2.8" height="2.2"/><rect x="725.6" y="383.5" width="3.4" height="2.1"/><rect x="725.1" y="380.5" width="2.1" height="2.4"/><rect x="732.6" y="380.3" width="3.1" height="2.1"/><rect x="727" y="382.4" width="2.8" height="2.5"/><rect x="727.9" y="383.4" width="2.8" height="2"/><rect x="734.7" y="378.3" width="2.6" height="2.3"/><rect x="728.6" y="378.2" width="2.1" height="2.8"/><rect x="722.8" y="381.8" width="2" height="2.9"/><rect x="734.9" y="379.6" width="3" height="2.3"/><rect x="733.7" y="379" width="2.3" height="3.2"/><rect x="727.9" y="378.6" width="3.2" height="2.4"/><rect x="732.5" y="377" width="3.2" height="2.3"/><rect x="724" y="383.1" width="3.4" height="2.7"/><rect x="721.2" y="376.2" width="2.3" height="2.5"/><rect x="727.1" y="376.8" width="2.8" height="2.2"/><rect x="722.5" y="380" width="3" height="2.1"/><rect x="728.8" y="381.2" width="3.1" height="2.5"/><rect x="736.3" y="377" width="3" height="2.9"/><rect x="736.1" y="379.6" width="2.1" height="2.1"/><rect x="730.1" y="377.1" width="2.9" height="2.1"/><rect x="734.4" y="377.4" width="2" height="2.2"/><rect x="728.9" y="380.1" width="2.5" height="2.2"/><rect x="729.3" y="383.1" width="2.7" height="3.1"/><rect x="736.3" y="379.9" width="2.7" height="2.6"/><rect x="736.6" y="376.2" width="2.9" height="2.7"/><rect x="726.2" y="381.4" width="3" height="2.1"/><rect x="733" y="379.2" width="2.7" height="2.8"/><rect x="721.9" y="380.4" width="2.5" height="3.1"/><rect x="725" y="382.1" width="3" height="2.7"/><rect x="736.1" y="376" width="2.8" height="2.7"/><rect x="732.7" y="378.9" width="2.1" height="2.2"/><rect x="731.5" y="377.1" width="2.1" height="2.4"/><rect x="729.1" y="379.9" width="2" height="2.9"/><rect x="726.7" y="381.8" width="2" height="3.1"/><rect x="722.8" y="378.4" width="2.3" height="2.9"/><rect x="724.3" y="377.4" width="2.2" height="2.1"/><rect x="727.4" y="381.5" width="2.7" height="2.6"/><rect x="727.4" y="380.7" width="2.3" height="2.3"/><rect x="729.9" y="377.2" width="2.6" height="3.1"/><rect x="721.4" y="376.5" width="3.1" height="2.1"/><rect x="725.3" y="382.3" width="2.8" height="2.3"/><rect x="722" y="377.8" width="2.4" height="3"/><rect x="737.6" y="376.4" width="2.4" height="2.3"/><rect x="726" y="366.5" width="1.6" height="10"/><rect x="728.2" y="371" width="1.6" height="6"/><rect x="731.8" y="368" width="1.4" height="5"/><rect x="736" y="371.5" width="3.5" height="1.6"/><rect x="739" y="373.5" width="2.4" height="1.6"/><rect x="734" y="374.5" width="1.6" height="3"/><rect x="743.5" y="362" width="2.4" height="1.5"/></g>
<g fill="#3f8a8a"><rect x="741.2" y="365.5" width="1.5" height="3.5"/><rect x="744" y="367.5" width="1.4" height="2.6"/><rect x="728.5" y="380" width="2" height="1.8" fill="#2aa56d"/><rect x="733" y="378" width="1.6" height="1.6" fill="#2aa56d"/><circle cx="750.5" cy="363.5" r="1.1" fill="#7fb8b0"/><circle cx="712" cy="353.5" r="0.9" fill="#596a78"/></g>
<g fill="#2a2a2a"><circle cx="830" cy="361" r="3.4"/><circle cx="830.5" cy="361.4" r="3.4"/><circle cx="832.2" cy="362.6" r="2.9"/><circle cx="833.2" cy="365.6" r="2.8"/><circle cx="835.1" cy="368.3" r="3.3"/><circle cx="836.1" cy="369.7" r="3.4"/><circle cx="835.7" cy="371.2" r="3.4"/><circle cx="835.6" cy="373.5" r="3.2"/><circle cx="834.4" cy="375.4" r="3.1"/><circle cx="832.9" cy="376.8" r="3.4"/><circle cx="831.4" cy="377.3" r="3"/><circle cx="829.9" cy="377.5" r="2.8"/><circle cx="828.5" cy="376.2" r="3"/><circle cx="826.9" cy="374.5" r="3.2"/><circle cx="826.1" cy="372.5" r="3.3"/><circle cx="826.1" cy="370.6" r="3"/><circle cx="826.4" cy="368.1" r="3.3"/><circle cx="826.9" cy="365.4" r="3.3"/><circle cx="827.7" cy="363.2" r="3.2"/><circle cx="829.6" cy="362" r="3.2"/></g><g fill="#fdb663"><polygon points="830,361 830.5,361.4 832.2,362.6 833.2,365.6 835.1,368.3 836.1,369.7 835.7,371.2 835.6,373.5 834.4,375.4 832.9,376.8 831.4,377.3 829.9,377.5 828.5,376.2 826.9,374.5 826.1,372.5 826.1,370.6 826.4,368.1 826.9,365.4 827.7,363.2 829.6,362"/><circle cx="830" cy="361" r="2"/><circle cx="830.5" cy="361.4" r="2.1"/><circle cx="832.2" cy="362.6" r="1.6"/><circle cx="833.2" cy="365.6" r="1.5"/><circle cx="835.1" cy="368.3" r="2"/><circle cx="836.1" cy="369.7" r="2"/><circle cx="835.7" cy="371.2" r="2.1"/><circle cx="835.6" cy="373.5" r="1.8"/><circle cx="834.4" cy="375.4" r="1.7"/><circle cx="832.9" cy="376.8" r="2"/><circle cx="831.4" cy="377.3" r="1.7"/><circle cx="829.9" cy="377.5" r="1.5"/><circle cx="828.5" cy="376.2" r="1.6"/><circle cx="826.9" cy="374.5" r="1.9"/><circle cx="826.1" cy="372.5" r="2"/><circle cx="826.1" cy="370.6" r="1.7"/><circle cx="826.4" cy="368.1" r="2"/><circle cx="826.9" cy="365.4" r="1.9"/><circle cx="827.7" cy="363.2" r="1.8"/><circle cx="829.6" cy="362" r="1.9"/></g><g opacity="0.55"><circle cx="831.2" cy="368.7" r="1.2" fill="#f8a84e"/><circle cx="830.3" cy="371.2" r="1.9" fill="#fec47f"/><circle cx="831.2" cy="375.5" r="1.5" fill="#fec47f"/><circle cx="826.8" cy="367.2" r="1" fill="#f8a84e"/><circle cx="829.5" cy="376.6" r="1.9" fill="#fec47f"/><circle cx="827.1" cy="366.4" r="1.2" fill="#f8a84e"/><circle cx="832.9" cy="368.5" r="1.5" fill="#fec47f"/><circle cx="830.7" cy="375.7" r="1.4" fill="#f8a84e"/></g>
<text x="346.4" y="576.8" font-size="32.9" fill="#0c0c0c">batch-free</text>
<text x="365.4" y="616.2" font-size="32.9" fill="#0c0c0c">encoder</text>
<text x="587.6" y="576.8" font-size="32.9" fill="#0c0c0c">batch-invariant</text>
<text x="660.1" y="616.2" font-size="32.9" fill="#0c0c0c">space</text>
<text x="854.1" y="576.8" font-size="32.9" fill="#0c0c0c">batch-specific</text>
<text x="908.7" y="616.2" font-size="32.9" fill="#0c0c0c">decoder</text>
</svg></body></html>
